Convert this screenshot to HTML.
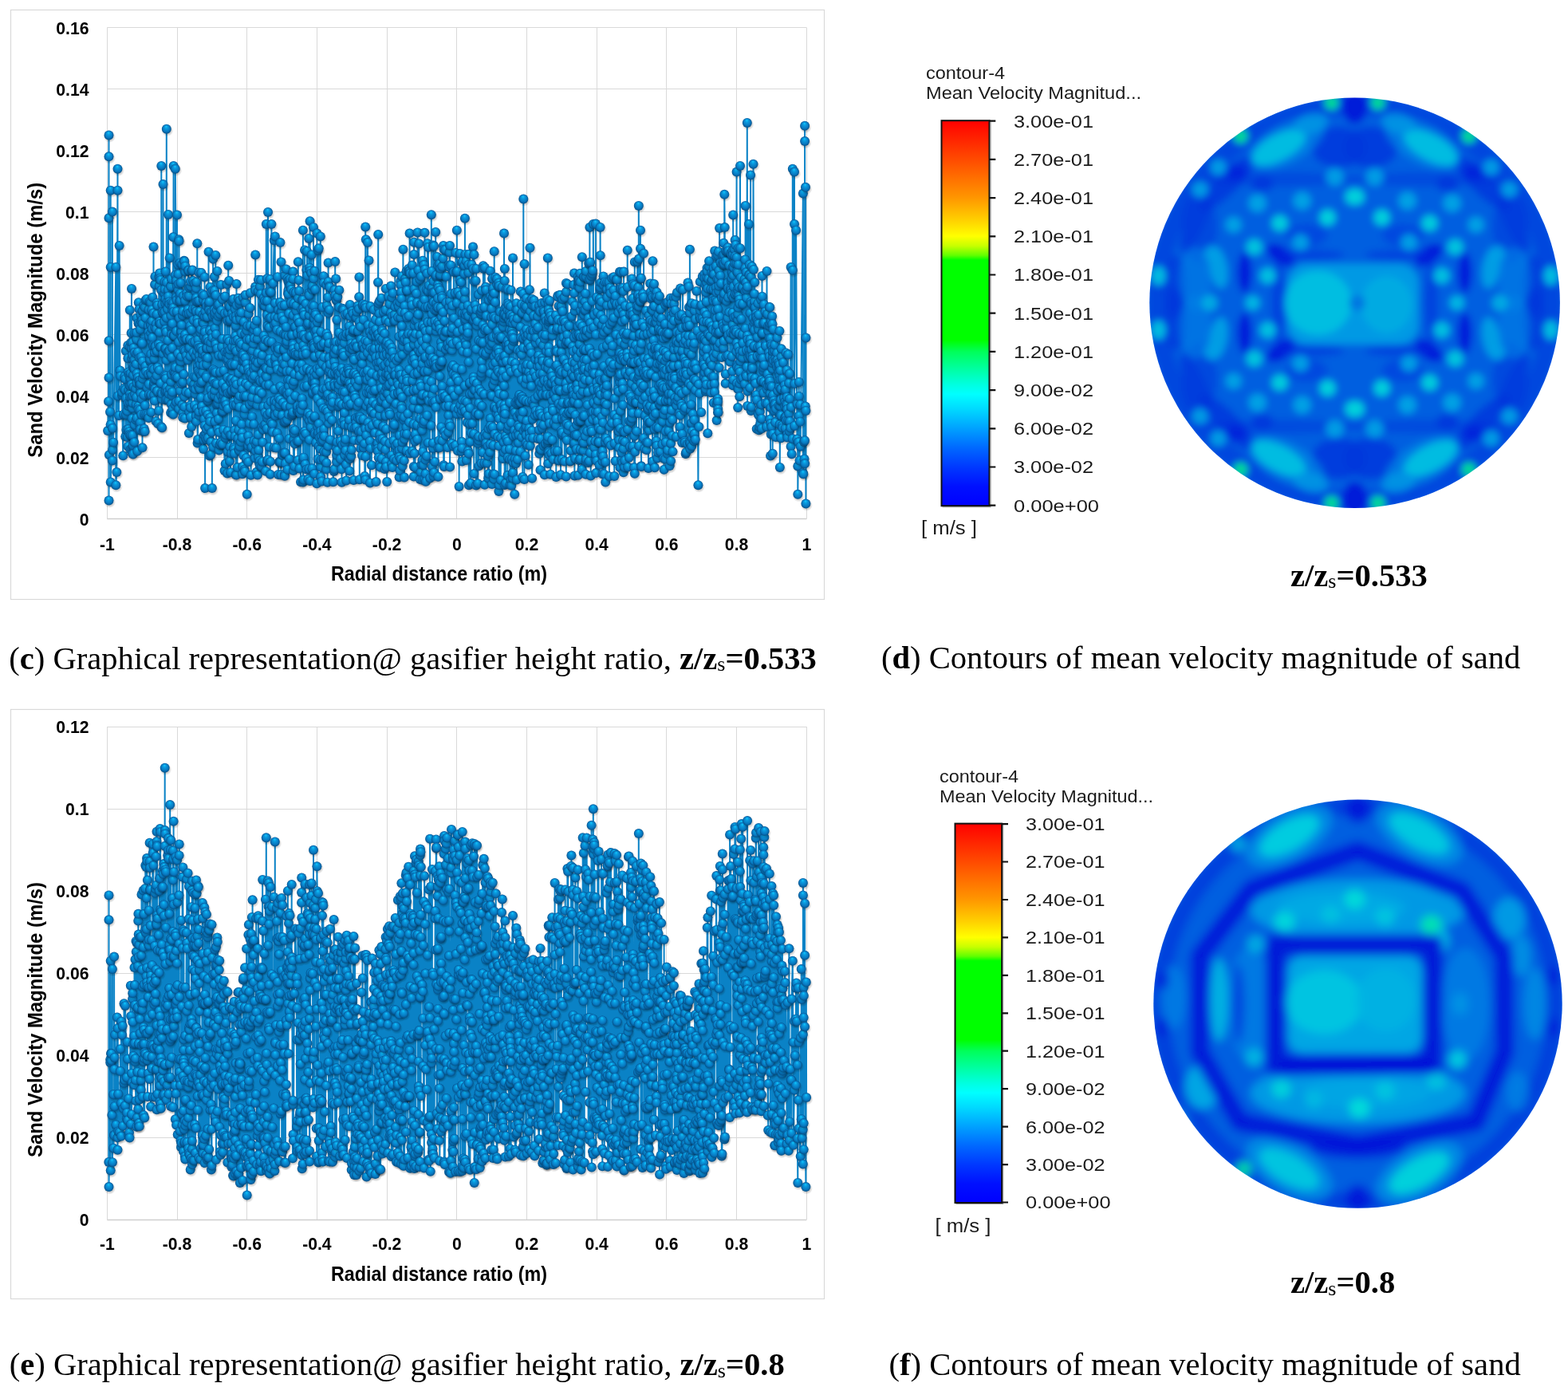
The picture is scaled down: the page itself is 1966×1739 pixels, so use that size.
<!DOCTYPE html><html><head><meta charset="utf-8"><title>Sand velocity</title><style>
html,body{margin:0;padding:0;background:#fff;width:1966px;height:1739px;overflow:hidden}
svg{display:block}
.tk{font-family:"Liberation Sans",Arial,sans-serif;font-weight:700;font-size:21.2px;fill:#000}
.at{font-family:"Liberation Sans",Arial,sans-serif;font-weight:700;font-size:25px;fill:#000}
.ser{fill:none;stroke:#0a82c6;stroke-width:2;stroke-linejoin:round;marker:url(#ball)}
.cap{font-family:"Liberation Serif","Times New Roman",serif;font-size:40.6px;fill:#000}
.cb{font-family:"Liberation Sans",Arial,sans-serif;font-size:21.5px;fill:#1a1a1a}
</style></head><body>
<svg width="1966" height="1739" viewBox="0 0 1966 1739">
<defs>
<radialGradient id="bgr" cx="0.5" cy="0.5" r="0.5" fx="0.46" fy="0.22"><stop offset="0" stop-color="#10ccff"/><stop offset="0.3" stop-color="#0a9ce0"/><stop offset="0.72" stop-color="#0878c0"/><stop offset="1" stop-color="#045088"/></radialGradient>
<radialGradient id="shd"><stop offset="0.55" stop-color="#000" stop-opacity="0.22"/><stop offset="1" stop-color="#000" stop-opacity="0"/></radialGradient>
<marker id="ball" markerWidth="20" markerHeight="20" refX="10" refY="10" markerUnits="userSpaceOnUse" overflow="visible"><circle cx="11" cy="12" r="7.5" fill="url(#shd)"/><circle cx="10" cy="10" r="6" fill="url(#bgr)"/></marker>
<linearGradient id="cbg" x1="0" y1="0" x2="0" y2="1"><stop offset="0.0" stop-color="#ff0000"/><stop offset="0.1" stop-color="#ff4a00"/><stop offset="0.2" stop-color="#ff9600"/><stop offset="0.26" stop-color="#ffd200"/><stop offset="0.3" stop-color="#ffff00"/><stop offset="0.325" stop-color="#c8ff00"/><stop offset="0.35" stop-color="#60ff00"/><stop offset="0.362" stop-color="#00ff00"/><stop offset="0.57" stop-color="#00ff00"/><stop offset="0.6" stop-color="#00ff5a"/><stop offset="0.65" stop-color="#00ffaa"/><stop offset="0.685" stop-color="#00ffe0"/><stop offset="0.71" stop-color="#00ffff"/><stop offset="0.75" stop-color="#00d8ff"/><stop offset="0.8" stop-color="#00a0ff"/><stop offset="0.85" stop-color="#0068ff"/><stop offset="0.9" stop-color="#0038ff"/><stop offset="0.95" stop-color="#0010ff"/><stop offset="1.0" stop-color="#0000ff"/></linearGradient>
<filter id="bl1" x="-10%" y="-10%" width="120%" height="120%"><feGaussianBlur stdDeviation="5"/></filter>
<filter id="bl2" x="-10%" y="-10%" width="120%" height="120%"><feGaussianBlur stdDeviation="6"/></filter>
</defs>
<rect width="1966" height="1739" fill="#fff"/>
<rect x="13.5" y="12.5" width="1020" height="739" fill="#fff" stroke="#d9d9d9" stroke-width="1.2"/>
<path d="M134.3 573.5H1011.3M134.3 496.5H1011.3M134.3 419.5H1011.3M134.3 342.5H1011.3M134.3 265.5H1011.3M134.3 111.5H1011.3M134.3 34.5H1011.3M134.5 34.6V650.6M222.5 34.6V650.6M309.5 34.6V650.6M397.5 34.6V650.6M485.5 34.6V650.6M572.5 34.6V650.6M660.5 34.6V650.6M748.5 34.6V650.6M835.5 34.6V650.6M923.5 34.6V650.6M1011.5 34.6V650.6" stroke="#d9d9d9" stroke-width="1" fill="none"/>
<path d="M134.3 650.5H1011.3" stroke="#cfcfcf" stroke-width="1.3"/>
<text class="tk" x="111.5" y="658.6" text-anchor="end">0</text>
<text class="tk" x="111.5" y="581.6" text-anchor="end">0.02</text>
<text class="tk" x="111.5" y="504.6" text-anchor="end">0.04</text>
<text class="tk" x="111.5" y="427.6" text-anchor="end">0.06</text>
<text class="tk" x="111.5" y="350.6" text-anchor="end">0.08</text>
<text class="tk" x="111.5" y="273.6" text-anchor="end">0.1</text>
<text class="tk" x="111.5" y="196.6" text-anchor="end">0.12</text>
<text class="tk" x="111.5" y="119.6" text-anchor="end">0.14</text>
<text class="tk" x="111.5" y="42.6" text-anchor="end">0.16</text>
<text class="tk" x="134.3" y="689.6" text-anchor="middle">-1</text>
<text class="tk" x="222.0" y="689.6" text-anchor="middle">-0.8</text>
<text class="tk" x="309.7" y="689.6" text-anchor="middle">-0.6</text>
<text class="tk" x="397.4" y="689.6" text-anchor="middle">-0.4</text>
<text class="tk" x="485.1" y="689.6" text-anchor="middle">-0.2</text>
<text class="tk" x="572.8" y="689.6" text-anchor="middle">0</text>
<text class="tk" x="660.5" y="689.6" text-anchor="middle">0.2</text>
<text class="tk" x="748.2" y="689.6" text-anchor="middle">0.4</text>
<text class="tk" x="835.9" y="689.6" text-anchor="middle">0.6</text>
<text class="tk" x="923.6" y="689.6" text-anchor="middle">0.8</text>
<text class="tk" x="1011.3" y="689.6" text-anchor="middle">1</text>
<text class="at" x="550.5" y="727.5" text-anchor="middle" textLength="271" lengthAdjust="spacingAndGlyphs">Radial distance ratio (m)</text>
<text class="at" transform="translate(53.0 401.3) rotate(-90)" x="0" y="0" text-anchor="middle" textLength="345" lengthAdjust="spacingAndGlyphs">Sand Velocity Magnitude (m/s)</text>
<rect x="13.5" y="889.5" width="1020" height="739" fill="#fff" stroke="#d9d9d9" stroke-width="1.2"/>
<path d="M134.3 1426.5H1011.3M134.3 1323.5H1011.3M134.3 1220.5H1011.3M134.3 1014.5H1011.3M134.3 911.5H1011.3M134.5 911.2V1529.3M222.5 911.2V1529.3M309.5 911.2V1529.3M397.5 911.2V1529.3M485.5 911.2V1529.3M572.5 911.2V1529.3M660.5 911.2V1529.3M748.5 911.2V1529.3M835.5 911.2V1529.3M923.5 911.2V1529.3M1011.5 911.2V1529.3" stroke="#d9d9d9" stroke-width="1" fill="none"/>
<path d="M134.3 1529.5H1011.3" stroke="#cfcfcf" stroke-width="1.3"/>
<text class="tk" x="111.5" y="1537.3" text-anchor="end">0</text>
<text class="tk" x="111.5" y="1434.3" text-anchor="end">0.02</text>
<text class="tk" x="111.5" y="1331.3" text-anchor="end">0.04</text>
<text class="tk" x="111.5" y="1228.2" text-anchor="end">0.06</text>
<text class="tk" x="111.5" y="1125.2" text-anchor="end">0.08</text>
<text class="tk" x="111.5" y="1022.2" text-anchor="end">0.1</text>
<text class="tk" x="111.5" y="919.2" text-anchor="end">0.12</text>
<text class="tk" x="134.3" y="1567.4" text-anchor="middle">-1</text>
<text class="tk" x="222.0" y="1567.4" text-anchor="middle">-0.8</text>
<text class="tk" x="309.7" y="1567.4" text-anchor="middle">-0.6</text>
<text class="tk" x="397.4" y="1567.4" text-anchor="middle">-0.4</text>
<text class="tk" x="485.1" y="1567.4" text-anchor="middle">-0.2</text>
<text class="tk" x="572.8" y="1567.4" text-anchor="middle">0</text>
<text class="tk" x="660.5" y="1567.4" text-anchor="middle">0.2</text>
<text class="tk" x="748.2" y="1567.4" text-anchor="middle">0.4</text>
<text class="tk" x="835.9" y="1567.4" text-anchor="middle">0.6</text>
<text class="tk" x="923.6" y="1567.4" text-anchor="middle">0.8</text>
<text class="tk" x="1011.3" y="1567.4" text-anchor="middle">1</text>
<text class="at" x="550.5" y="1605.5" text-anchor="middle" textLength="271" lengthAdjust="spacingAndGlyphs">Radial distance ratio (m)</text>
<text class="at" transform="translate(53.0 1278.5) rotate(-90)" x="0" y="0" text-anchor="middle" textLength="345" lengthAdjust="spacingAndGlyphs">Sand Velocity Magnitude (m/s)</text>
<polyline class="ser" points="135.1,540.1 136.0,503.2 136.5,169.4 136.5,196.3 136.5,273.3 136.5,627.5 136.5,473.5 136.5,427.3 136.9,570.2 138.0,516.4 138.6,532.4 138.7,238.7 138.7,334.9 138.7,604.4 140.9,536.9 140.9,265.6 140.9,577.5 141.1,564.0 142.1,554.8 145.3,334.9 145.3,608.2 146.3,592.1 147.5,211.7 147.5,238.7 147.7,496.5 149.0,520.9 149.6,308.0 150.5,464.6 150.9,471.6 152.9,495.5 152.9,492.0 154.3,571.3 155.1,519.4 155.2,487.1 156.2,471.9 156.8,488.8 157.0,475.2 157.3,547.2 157.8,440.0 157.9,519.7 158.1,499.2 158.4,538.9 159.3,515.5 159.8,548.0 160.3,433.0 160.4,449.2 160.4,559.7 160.5,538.3 160.7,508.9 160.7,505.2 160.7,466.8 161.0,488.7 161.7,469.8 161.8,541.2 162.6,483.6 162.6,544.5 162.6,471.8 162.8,388.8 162.9,434.8 163.0,493.8 163.1,504.2 163.1,498.2 163.4,477.6 163.4,563.8 163.5,484.1 163.6,474.5 163.7,467.9 163.9,545.7 164.0,545.6 164.2,429.7 164.6,417.6 165.0,361.9 165.0,482.1 165.0,498.5 165.1,449.0 165.1,436.9 165.1,562.8 165.6,524.8 165.7,511.6 165.9,429.7 165.9,545.7 166.0,568.4 166.1,445.2 166.1,505.2 166.4,496.8 166.6,560.6 166.6,558.3 166.8,461.0 166.8,569.4 166.9,470.3 167.2,458.4 167.3,484.9 167.6,436.1 167.9,460.7 168.3,554.5 168.5,417.4 168.5,450.9 168.7,462.5 168.7,532.7 168.8,441.8 169.1,494.3 170.2,487.3 170.6,526.8 170.6,506.8 170.7,456.6 171.0,498.2 171.0,425.4 171.0,417.0 171.2,443.7 171.4,480.4 171.5,398.8 171.5,524.0 171.6,468.3 172.1,565.8 172.7,441.5 173.0,473.3 173.5,405.3 173.7,509.1 173.7,513.0 173.8,379.2 174.5,477.5 174.5,387.8 175.0,448.7 175.0,539.6 175.1,481.7 175.2,406.3 175.3,532.7 175.3,481.9 175.4,476.5 175.5,514.0 175.6,413.0 175.8,529.7 175.8,538.4 175.9,490.4 176.1,484.9 176.2,493.1 176.3,481.5 176.4,394.9 176.9,403.0 177.0,519.9 177.1,447.4 177.5,500.2 178.1,429.0 178.1,430.5 178.3,400.9 178.5,389.9 178.5,561.3 178.6,474.8 178.7,457.7 178.7,453.0 178.7,389.5 178.8,405.9 179.5,540.8 180.0,382.9 180.0,469.4 180.2,495.3 180.4,539.6 180.7,537.5 181.0,519.2 181.5,540.9 181.5,385.1 181.7,508.3 182.3,398.5 182.5,459.1 182.6,376.5 183.0,465.8 183.4,519.2 183.6,374.9 184.6,486.2 185.8,519.4 185.9,408.6 186.1,469.1 186.3,416.6 186.4,524.1 186.5,388.2 186.7,481.8 186.7,494.5 186.8,421.4 187.7,377.9 188.1,452.9 188.2,450.6 188.6,405.8 188.8,466.9 188.9,404.0 189.1,379.3 189.2,417.6 189.2,495.6 189.2,407.5 189.3,444.0 189.4,516.9 189.5,494.7 189.8,469.2 190.2,428.2 190.3,388.5 190.6,402.6 190.8,412.4 190.9,423.3 191.0,461.7 191.3,372.7 191.9,432.9 192.3,433.9 192.4,392.6 192.5,309.5 192.7,482.9 193.0,463.1 193.1,495.0 193.2,479.7 193.2,449.8 193.7,502.6 193.7,442.0 193.9,475.8 194.1,410.6 194.1,356.7 194.2,487.6 194.4,346.7 194.5,433.8 194.6,434.5 195.0,434.4 195.2,474.9 195.6,528.2 195.8,406.2 196.0,412.4 196.5,393.9 196.6,470.8 196.7,440.2 196.8,379.9 197.0,489.7 197.3,490.5 197.4,382.8 197.6,460.8 198.2,531.2 199.0,431.6 199.0,515.0 199.3,346.6 199.6,405.5 199.7,416.5 199.7,358.6 199.7,464.2 200.1,342.5 200.2,403.2 200.4,435.1 200.6,348.9 201.3,405.8 201.3,351.1 201.5,480.5 201.6,434.7 202.1,534.9 202.2,363.8 202.3,207.9 202.3,492.4 202.6,499.5 203.1,500.5 203.1,536.2 203.2,381.8 203.3,493.8 203.6,391.3 204.4,443.4 204.5,231.0 204.7,392.3 205.9,403.1 206.1,367.8 206.4,353.2 206.4,391.0 206.5,362.6 206.7,470.7 206.8,436.7 206.9,491.6 207.2,376.7 207.2,380.3 207.2,437.4 207.6,340.5 207.6,374.8 207.7,413.0 207.7,501.4 207.9,471.5 207.9,489.7 208.0,474.6 208.1,437.1 208.4,416.3 208.5,451.7 208.6,398.4 208.8,161.7 208.9,485.6 209.0,354.1 209.3,500.7 209.8,378.4 210.0,387.4 210.3,490.9 210.4,442.5 210.5,426.7 210.7,441.6 210.8,363.5 211.0,268.9 211.1,371.5 211.4,501.5 211.7,444.6 212.1,494.1 212.2,378.4 212.3,438.8 212.5,381.5 212.6,440.5 212.7,323.4 213.2,487.2 214.1,517.5 214.2,358.4 214.2,478.8 214.2,359.1 214.3,395.8 214.5,410.9 214.8,350.0 214.8,506.8 215.0,469.8 215.0,418.8 215.2,379.2 215.3,448.1 215.4,495.6 215.7,384.8 215.8,409.1 215.9,491.5 216.0,388.4 216.0,436.2 216.0,405.8 216.0,518.0 216.3,513.0 217.2,297.3 217.2,380.0 217.2,519.4 217.3,385.9 217.6,207.9 217.8,419.9 217.8,390.7 218.0,466.3 218.3,420.2 218.5,420.7 219.2,468.0 219.4,507.6 219.6,345.1 219.6,472.2 219.8,467.0 219.8,460.7 219.8,211.7 220.9,350.2 221.0,351.8 221.0,471.9 221.1,372.8 221.1,504.2 221.2,415.3 221.5,376.3 221.6,390.6 222.0,269.4 222.0,359.1 222.6,473.1 223.1,443.3 223.4,332.1 223.5,343.8 223.6,363.5 223.8,356.1 224.1,428.6 224.2,512.5 224.2,300.3 224.3,502.7 224.5,302.2 224.8,398.8 225.0,377.5 225.1,370.9 225.2,461.8 225.7,329.7 225.8,489.9 226.0,452.2 226.1,367.9 226.2,376.7 226.4,354.7 226.6,419.0 226.6,453.2 226.8,414.9 227.1,447.2 227.2,411.0 227.5,481.2 227.6,415.9 227.7,407.5 228.2,423.2 228.3,331.3 228.5,507.6 228.7,395.2 229.1,517.7 229.2,523.6 229.2,479.0 229.3,390.2 229.8,371.0 229.8,426.0 230.3,469.3 230.5,439.4 230.8,326.8 231.2,327.7 231.2,497.3 231.2,510.2 231.8,377.0 231.9,524.4 231.9,423.8 232.0,419.6 232.1,340.5 232.2,440.3 232.3,333.7 233.1,491.4 233.5,445.7 233.9,425.1 233.9,392.4 234.1,367.7 234.7,371.5 235.6,388.4 235.6,451.4 236.0,339.1 236.4,339.0 236.4,437.8 236.7,393.0 236.8,492.4 236.9,542.9 237.0,370.7 237.3,516.7 237.6,361.1 237.7,435.7 238.1,426.0 238.2,425.3 238.4,446.7 238.5,508.4 238.6,408.2 238.8,358.9 238.9,353.1 238.9,511.2 238.9,522.9 239.3,392.1 239.3,478.7 240.1,413.7 240.2,339.2 240.2,535.1 241.2,338.6 241.7,387.7 241.8,429.2 242.1,352.1 242.3,441.9 242.6,401.4 242.8,486.4 243.4,481.3 243.7,472.4 243.8,507.9 243.9,355.2 244.2,428.4 244.6,493.7 245.0,386.7 245.0,488.1 245.3,445.9 245.5,366.0 245.8,361.3 245.8,521.4 245.9,472.8 246.0,373.5 246.1,390.3 246.1,353.7 246.1,528.5 246.5,378.4 247.0,440.5 247.0,512.2 247.3,305.3 247.3,400.0 247.6,555.4 247.7,405.0 247.7,377.7 247.9,461.2 248.1,551.1 248.1,459.4 248.3,425.7 248.3,483.5 248.5,433.4 248.5,464.8 249.4,520.8 249.4,377.0 249.4,485.4 249.4,436.1 249.4,516.2 249.5,341.7 249.6,467.2 249.9,390.7 250.0,445.4 250.1,452.9 250.2,436.7 250.4,487.2 251.1,457.0 251.2,468.3 251.5,417.3 251.6,480.2 251.9,413.0 252.1,436.2 252.1,498.7 252.3,470.5 252.3,341.9 253.0,509.5 253.1,478.3 253.2,509.5 253.2,450.4 253.8,370.7 254.0,368.4 254.0,443.9 254.0,403.4 254.1,439.6 254.2,466.8 254.5,394.5 254.6,515.8 254.7,375.8 254.8,458.1 255.0,563.0 255.4,546.6 255.4,551.5 255.4,405.6 255.7,370.3 256.0,422.2 256.1,525.5 256.3,545.8 256.4,397.1 256.5,347.4 256.6,533.7 256.6,396.7 256.7,414.2 256.9,416.3 257.1,612.1 257.4,390.5 257.8,445.7 258.0,543.4 258.2,550.0 258.2,514.9 258.2,379.9 258.3,425.5 258.4,471.2 258.7,473.0 258.7,436.9 258.9,449.4 258.9,538.3 259.0,456.8 259.3,551.0 259.4,384.0 259.6,397.2 259.6,436.3 259.7,424.5 260.3,448.8 260.4,501.8 260.5,520.0 260.6,502.3 260.8,499.0 260.9,549.2 261.2,535.1 261.5,315.7 261.7,428.3 261.9,384.6 262.2,380.9 262.3,388.9 262.3,378.5 262.8,571.6 263.1,414.3 263.4,360.0 263.4,523.5 263.4,528.6 264.0,436.1 264.1,391.3 264.4,429.5 264.4,569.9 264.4,553.4 264.4,488.9 264.7,554.0 265.0,366.3 265.2,542.1 265.6,391.4 265.8,417.8 265.9,612.1 266.0,495.4 266.3,423.6 266.7,396.7 266.9,364.3 267.2,324.8 267.2,560.5 267.3,477.4 267.3,463.5 268.7,388.6 268.7,495.5 268.8,347.0 268.8,394.9 269.0,364.4 269.1,489.2 269.2,480.7 269.3,528.6 269.3,464.7 269.4,411.4 269.7,392.3 270.2,427.9 270.3,319.9 270.4,431.3 270.5,466.5 270.6,370.1 270.8,419.2 270.8,480.4 271.0,555.7 271.6,438.0 271.7,389.1 271.8,507.9 271.8,517.7 272.1,402.1 272.1,481.5 272.3,436.8 272.4,339.9 272.4,506.7 273.0,383.0 273.3,538.4 273.4,505.4 273.8,499.9 273.9,396.7 273.9,525.3 274.2,381.6 274.2,445.8 274.6,564.4 274.6,542.1 275.6,393.7 275.7,557.7 275.8,557.4 275.9,466.4 277.0,555.0 277.0,357.1 277.3,496.0 277.5,389.2 278.1,425.3 278.1,434.8 278.3,516.3 278.4,445.7 278.8,375.2 278.8,556.8 279.1,489.0 279.1,424.9 279.3,480.5 279.4,515.4 279.8,500.9 280.1,538.9 280.2,495.8 280.2,508.9 280.2,490.8 280.5,464.7 281.5,590.0 281.7,392.8 282.0,504.9 282.0,371.6 282.2,441.5 282.5,502.1 282.6,549.0 282.7,581.6 282.8,487.8 283.1,545.2 283.2,485.6 283.7,507.4 284.1,449.2 284.5,356.3 284.7,441.9 285.0,593.5 285.2,425.1 285.2,473.5 285.4,453.0 285.5,401.5 285.5,566.4 285.6,402.2 285.6,391.8 285.7,512.5 285.7,434.1 285.7,540.5 285.8,493.1 286.1,450.4 286.2,332.7 286.4,440.2 287.1,351.9 287.5,428.0 287.9,445.1 288.0,578.2 288.2,386.1 288.2,402.4 288.3,560.5 288.3,438.6 288.4,384.5 288.4,492.4 288.5,400.8 288.5,545.4 288.8,457.6 289.0,592.2 289.1,475.3 289.4,479.3 289.9,545.5 290.0,455.9 290.1,568.3 290.2,490.8 290.7,475.4 290.7,489.5 291.0,434.9 291.1,393.2 291.2,457.1 291.9,379.2 292.1,378.0 292.6,375.1 292.8,479.8 292.9,561.6 292.9,397.4 292.9,427.7 293.0,504.4 293.1,507.9 293.6,563.4 293.7,568.6 293.9,486.7 294.1,539.5 294.4,456.9 294.4,490.5 294.7,436.1 294.7,546.9 294.7,387.7 295.0,488.0 295.1,477.1 295.1,421.3 295.4,408.5 295.6,595.0 295.7,527.4 295.7,427.6 295.9,396.3 295.9,507.3 296.3,595.6 296.4,440.1 296.5,356.0 296.5,400.9 296.7,482.2 296.8,382.8 297.6,586.1 298.1,425.8 298.5,549.6 298.6,373.8 298.7,501.9 299.1,467.6 299.1,563.3 299.2,538.9 299.6,393.9 299.9,564.5 300.2,380.8 300.3,510.3 300.6,496.6 300.6,376.8 300.6,559.9 300.9,432.2 301.0,395.4 301.1,429.4 301.2,399.8 301.6,436.2 302.0,554.1 302.4,392.1 302.5,461.0 302.6,418.0 302.7,479.8 302.8,431.7 303.0,531.9 303.3,445.0 303.3,545.9 303.5,542.7 303.6,548.8 303.9,487.9 304.0,594.3 304.1,585.0 304.2,453.2 304.6,372.9 304.7,443.5 305.0,450.9 305.2,445.2 305.3,571.1 305.5,462.7 305.8,403.4 306.0,496.2 306.4,452.4 306.5,519.8 306.7,588.8 306.9,512.2 307.0,591.1 307.2,418.2 307.6,448.8 307.6,379.1 307.7,369.8 308.0,480.8 308.2,496.6 308.6,574.3 308.6,434.2 309.2,456.4 309.4,414.4 309.7,619.8 310.0,425.8 310.4,408.8 311.2,579.2 311.2,462.4 311.3,546.5 311.4,559.0 311.5,483.2 311.7,393.5 312.7,466.7 312.8,530.8 312.9,554.2 312.9,425.5 313.1,507.2 313.5,385.9 313.7,408.4 313.7,471.1 313.8,367.2 314.6,595.8 314.9,561.4 314.9,468.0 315.9,522.4 315.9,560.3 316.1,503.9 316.1,498.1 316.7,439.6 316.9,474.5 317.5,414.0 317.7,455.8 317.8,460.6 317.8,417.8 317.8,431.1 317.9,488.7 318.2,531.8 318.3,552.7 318.5,413.6 318.6,424.1 318.6,464.0 318.6,471.1 319.2,407.8 319.5,449.9 319.6,574.4 320.1,359.6 320.1,459.8 320.1,363.8 320.2,319.4 320.4,565.2 320.7,557.2 321.1,452.6 321.6,402.0 321.7,591.7 321.7,553.6 322.5,508.0 322.7,424.5 322.7,416.0 322.9,595.5 323.0,500.2 323.2,446.2 323.2,454.7 323.4,442.7 323.5,544.9 323.6,364.8 323.7,572.9 323.9,350.7 324.3,564.4 325.0,489.9 325.2,581.5 325.7,476.1 325.7,577.8 326.0,359.5 326.0,584.3 326.8,368.7 326.9,478.2 327.2,351.1 327.8,584.7 327.8,452.0 328.3,492.9 328.5,468.3 328.6,536.0 328.7,578.9 328.8,445.3 329.2,554.5 329.8,538.5 329.9,476.9 330.2,510.0 330.3,382.9 330.4,381.1 330.4,432.7 330.7,434.0 330.7,373.5 330.9,421.0 331.3,533.3 332.0,383.5 332.2,376.9 332.5,517.1 332.7,531.9 333.0,470.8 333.1,590.7 333.1,426.0 333.3,461.3 333.4,482.5 333.7,367.3 333.8,281.0 334.2,472.4 334.3,462.2 334.7,395.1 334.7,537.2 334.9,577.4 334.9,349.3 335.0,524.2 335.0,377.2 335.4,408.6 335.6,520.0 335.8,576.5 336.0,266.0 336.2,508.4 336.3,427.8 336.6,427.9 337.1,482.5 337.2,452.4 337.5,410.3 337.7,560.5 337.8,399.1 338.0,365.2 338.2,449.7 338.5,350.0 338.5,517.4 338.5,386.8 338.8,594.8 339.0,463.4 339.1,578.7 339.4,398.4 339.5,366.1 339.5,503.6 339.9,530.1 340.0,455.2 340.4,281.0 340.5,428.8 341.0,539.5 341.4,531.6 341.9,541.7 342.3,355.2 343.7,301.3 343.7,560.9 343.9,407.2 343.9,502.1 344.1,488.1 344.1,502.9 344.4,518.1 344.4,397.3 344.6,451.9 344.8,296.4 344.9,380.0 345.0,514.9 345.0,510.4 345.1,521.2 345.4,448.6 345.4,436.4 345.6,405.1 346.3,561.6 346.5,457.2 346.6,458.1 346.7,504.3 346.9,457.7 347.3,542.8 347.4,413.7 347.8,434.7 347.9,463.2 348.0,347.2 348.1,517.9 348.4,398.1 348.6,442.5 348.9,595.1 349.1,435.6 349.2,388.5 349.4,499.2 349.6,437.6 350.0,549.7 350.1,578.9 350.2,510.1 350.5,579.6 350.5,507.1 350.7,579.1 351.2,379.0 351.4,484.6 351.4,304.1 351.4,501.3 351.6,579.1 351.6,415.4 352.4,595.2 352.4,390.4 352.5,328.4 352.7,466.0 353.2,390.9 353.3,383.3 353.4,396.9 353.7,520.6 354.1,451.2 354.2,462.5 354.5,571.2 354.9,504.8 355.3,489.5 355.5,456.0 355.6,568.1 355.7,437.5 355.7,401.4 356.0,418.7 356.3,529.3 356.3,438.2 356.6,382.6 356.6,567.4 356.9,594.5 357.1,596.8 357.2,529.2 357.2,456.9 357.3,567.8 357.4,345.4 357.8,419.3 357.8,581.1 358.1,489.9 358.2,528.3 358.3,430.3 358.4,508.7 358.6,420.4 358.6,410.0 358.7,337.5 358.9,447.8 359.5,465.6 359.7,431.8 359.7,428.1 360.0,490.1 360.1,526.4 360.3,588.8 360.4,349.3 360.9,494.8 361.0,367.7 361.3,353.0 361.3,364.1 361.3,476.3 361.4,368.8 361.6,519.6 361.7,421.4 362.1,484.3 362.2,351.3 362.2,393.1 362.6,550.0 362.9,575.5 362.9,492.5 363.6,465.1 363.7,349.9 363.9,359.0 363.9,476.8 364.0,509.3 364.2,358.1 364.8,378.9 364.9,379.9 365.2,363.0 365.3,501.2 365.4,419.8 365.8,441.6 366.0,521.1 366.3,455.6 366.3,420.0 366.6,517.7 366.7,518.9 367.0,431.3 367.1,516.7 367.4,340.6 367.4,349.9 367.5,395.2 367.5,482.4 367.6,537.7 367.7,432.4 367.8,437.5 367.9,590.1 368.1,380.4 368.3,550.8 368.4,366.1 368.4,443.0 368.4,478.0 368.9,543.5 369.0,584.8 369.2,469.0 369.6,539.6 369.6,409.7 369.7,556.6 370.1,496.3 370.2,442.0 370.3,409.7 370.8,366.8 371.2,444.6 371.4,389.9 371.6,382.9 372.4,553.1 372.6,515.2 372.7,513.0 372.7,418.1 373.0,509.4 373.0,399.5 373.4,577.1 373.5,445.6 373.8,328.3 373.9,373.9 374.1,552.8 374.2,443.1 374.3,459.1 374.4,434.8 374.5,457.7 374.7,351.3 374.9,405.1 375.0,364.8 375.2,463.5 375.4,462.7 375.4,404.4 375.5,587.4 375.7,471.0 375.7,515.7 376.4,518.0 376.6,509.4 376.8,413.9 377.1,604.3 377.4,426.7 377.6,418.8 377.6,510.9 377.7,413.9 378.0,514.2 378.2,387.9 378.3,456.9 378.5,376.1 378.6,499.6 378.7,420.2 379.6,440.7 379.6,444.4 379.7,507.7 379.8,376.2 379.9,288.7 379.9,604.4 380.1,386.6 380.1,576.3 380.3,433.1 380.4,601.6 380.4,464.4 380.6,573.7 380.8,420.0 381.0,547.0 381.1,390.7 381.3,395.0 381.4,484.7 381.9,540.8 382.1,313.4 382.7,582.1 382.9,438.7 383.3,543.7 383.4,380.8 383.6,443.3 383.6,424.3 384.3,338.4 384.5,588.6 384.7,462.0 384.9,483.7 384.9,314.9 385.1,345.6 385.4,407.0 385.8,523.2 386.3,404.9 386.4,517.7 386.4,600.6 387.2,299.0 387.3,587.9 387.4,421.5 387.5,367.5 387.6,395.2 387.6,370.0 387.8,527.1 388.0,551.6 388.1,335.7 388.5,386.9 388.6,277.2 388.8,602.9 388.9,339.5 389.0,520.7 389.0,464.1 389.1,421.6 389.3,465.4 389.8,532.9 389.8,535.5 390.3,342.4 390.7,319.4 391.2,363.1 391.3,587.3 391.3,471.1 391.4,382.9 391.5,526.6 391.6,478.5 391.6,358.5 392.0,490.2 392.0,493.7 392.1,491.8 392.3,477.3 392.4,390.0 393.0,406.4 393.0,284.9 393.1,349.3 393.4,479.0 393.4,383.6 393.4,398.5 393.4,430.8 393.6,466.5 394.0,413.3 394.1,437.0 394.1,446.9 394.1,594.1 394.1,432.7 394.1,523.4 394.1,436.0 394.2,339.8 394.4,476.8 394.4,521.9 394.4,473.0 394.4,399.4 394.7,446.9 394.8,411.1 394.8,541.7 394.8,408.0 395.0,479.9 395.0,486.6 395.1,363.1 395.2,543.9 395.3,416.8 395.4,392.6 395.8,394.6 396.1,554.9 396.2,490.7 396.6,469.0 396.7,414.2 397.2,606.3 397.2,489.4 397.4,422.6 397.4,292.6 397.6,462.3 397.7,404.0 398.1,544.6 398.1,499.8 398.3,535.3 398.5,431.1 398.5,426.6 398.6,575.5 398.9,314.1 399.3,542.4 399.6,398.9 399.7,311.3 399.8,531.4 399.9,559.3 400.2,440.3 400.7,548.8 401.0,444.8 401.2,460.7 401.3,434.4 401.4,466.4 401.7,562.8 401.8,296.4 402.2,505.4 402.2,585.8 402.2,540.3 402.3,415.9 402.3,597.8 402.5,576.6 402.8,433.1 402.9,547.1 403.1,553.9 403.2,433.2 403.4,603.5 403.8,453.1 404.1,455.5 404.2,492.1 404.2,385.1 404.7,552.0 405.3,512.0 405.4,346.8 405.4,487.4 405.5,544.4 405.6,575.2 405.7,346.2 405.8,354.7 406.0,430.6 406.2,566.1 406.2,538.0 406.3,447.8 406.6,547.0 408.7,513.5 409.0,460.0 409.1,487.3 409.1,588.6 409.1,566.5 409.3,357.2 409.4,580.2 409.6,418.2 409.9,382.9 410.5,496.7 410.6,604.7 410.8,516.0 411.0,422.0 411.1,372.8 411.2,494.3 411.2,559.4 411.5,353.2 411.6,329.4 411.8,433.7 411.8,392.6 412.1,530.7 412.1,437.6 412.2,479.2 412.4,430.4 412.4,522.7 412.5,466.2 412.6,448.5 412.9,358.8 413.0,388.5 413.3,360.1 413.4,463.6 413.6,483.8 413.8,456.7 414.0,551.5 414.7,505.3 414.9,499.3 416.1,509.2 416.2,526.6 416.3,468.5 417.1,498.0 417.1,504.5 417.8,604.2 418.1,446.1 418.8,591.0 418.9,481.1 418.9,441.6 419.1,453.2 419.2,588.3 419.3,429.3 419.4,443.4 419.4,363.6 419.7,483.5 419.9,436.2 419.9,467.5 420.2,328.1 420.3,370.3 420.5,460.1 421.1,349.4 421.2,428.7 421.7,438.5 421.8,376.7 421.8,562.0 422.0,375.7 422.1,579.1 422.2,570.8 422.3,401.1 422.4,554.2 423.0,465.4 423.1,565.0 423.3,372.2 423.6,479.9 424.1,540.6 424.1,467.7 424.3,510.0 424.5,482.6 424.9,488.2 424.9,467.5 425.0,471.4 425.0,416.9 425.1,385.2 425.2,482.7 425.2,508.7 425.3,504.5 425.3,363.7 426.0,429.2 426.7,467.8 426.8,553.0 426.9,575.4 427.7,477.4 428.0,440.9 428.2,588.3 428.5,428.2 428.5,461.6 428.5,604.7 428.7,529.4 428.9,507.0 429.2,436.6 429.3,386.7 429.4,557.8 429.7,490.2 429.8,422.2 429.9,491.7 429.9,442.8 430.1,422.0 430.5,387.3 430.6,441.7 430.8,388.7 431.2,526.7 431.2,466.0 431.2,446.2 431.6,430.1 431.8,517.7 431.9,496.6 432.0,532.6 432.0,475.8 432.1,570.6 432.1,491.4 432.2,473.1 432.4,555.5 432.6,394.4 432.8,422.0 433.0,550.7 433.4,564.7 433.9,582.5 434.2,602.5 434.4,507.0 434.5,467.9 434.6,418.7 435.4,392.9 435.6,501.7 436.1,462.0 436.7,463.4 437.0,533.3 437.3,573.8 437.5,478.3 437.6,464.8 437.8,408.9 438.0,526.7 438.0,467.8 438.0,508.2 438.1,419.8 438.2,590.5 438.3,468.2 438.4,417.4 438.5,575.2 438.6,441.5 438.8,569.6 438.8,381.9 439.0,436.3 439.1,480.6 439.2,396.7 440.0,506.5 440.1,423.7 440.3,572.0 440.4,486.0 440.5,430.7 440.8,564.0 441.1,535.6 441.3,390.3 441.4,485.6 441.5,435.4 442.2,437.9 442.2,416.4 442.5,393.1 442.8,414.0 442.9,469.0 443.0,413.3 443.4,602.0 443.4,433.8 443.4,449.2 443.8,552.0 443.9,450.7 444.0,488.5 444.4,467.7 444.6,536.5 444.9,495.4 445.1,478.5 445.6,524.7 445.6,499.1 445.6,430.5 446.0,524.3 446.1,398.5 446.5,530.1 446.7,470.1 446.7,535.5 446.9,397.7 447.2,391.0 447.5,433.4 447.7,435.1 448.2,483.7 448.2,509.1 448.7,523.7 448.7,383.2 448.8,414.9 449.2,473.1 449.9,504.6 449.9,387.2 450.2,372.3 450.2,476.7 450.3,543.1 450.4,347.4 450.5,540.6 450.6,403.4 450.7,553.1 450.8,601.2 451.0,521.9 451.5,522.9 451.7,446.7 451.9,525.4 451.9,409.6 452.3,562.5 452.3,425.8 452.6,461.6 452.6,550.6 452.8,541.0 453.8,447.7 454.0,571.1 454.1,456.2 454.2,433.2 454.4,383.1 455.0,431.6 455.2,381.4 455.5,525.5 455.6,400.8 455.7,445.6 455.8,561.2 456.2,467.5 456.9,556.2 457.1,437.1 457.3,596.9 457.6,382.6 458.0,426.9 458.0,537.5 458.2,601.5 458.2,284.4 458.4,572.4 458.8,300.3 458.8,385.7 458.9,475.5 459.2,545.7 459.2,467.9 459.4,509.2 459.7,433.2 460.1,492.7 460.5,476.1 460.8,464.8 460.8,442.3 461.0,428.2 461.0,304.1 461.6,504.0 461.6,529.7 461.7,407.6 462.5,326.5 462.7,488.1 463.1,492.5 463.1,536.3 463.6,472.9 463.9,416.2 463.9,553.1 464.0,605.4 464.2,436.6 464.3,384.0 464.5,562.4 464.9,489.2 465.3,511.6 465.4,512.4 465.5,511.0 465.5,516.3 465.9,420.4 465.9,583.3 466.0,467.9 466.1,448.6 466.2,509.3 466.2,495.3 466.3,514.9 466.6,533.3 466.6,480.0 467.2,438.1 467.4,503.4 467.6,408.0 467.7,415.3 468.0,490.0 468.0,441.1 468.7,388.4 469.3,416.4 469.3,442.1 469.4,518.6 469.9,437.1 470.0,488.7 470.1,542.8 470.9,400.7 471.2,421.4 471.2,412.9 471.2,507.2 471.3,447.7 471.5,558.5 471.5,604.1 471.9,561.6 472.0,528.7 472.7,455.6 472.7,470.9 473.3,554.7 473.6,556.2 473.8,531.2 473.8,419.2 473.8,562.5 473.9,566.1 474.0,353.9 474.2,294.0 474.4,419.0 474.5,385.5 474.7,380.5 474.7,573.8 474.9,460.2 475.0,453.9 475.3,430.7 475.3,510.3 475.5,393.2 475.7,584.0 475.9,403.4 475.9,436.5 475.9,377.5 476.0,520.8 476.0,446.6 476.0,423.5 476.2,582.6 476.3,544.7 476.3,512.0 476.9,550.7 477.0,585.8 477.5,453.8 477.6,503.7 477.9,486.6 478.1,427.5 478.1,469.7 478.1,373.7 478.5,575.0 478.5,560.3 478.8,501.7 478.9,413.3 479.1,414.9 479.4,550.3 479.4,467.4 479.5,425.0 479.9,534.8 480.2,443.5 480.3,436.6 480.3,437.5 480.6,534.7 480.6,459.4 480.6,391.1 480.8,475.9 481.3,446.0 481.4,493.8 481.6,497.4 482.2,418.1 482.4,588.0 482.6,553.3 482.7,457.8 483.1,490.5 483.2,520.0 483.4,521.2 483.4,388.4 483.4,563.8 483.7,401.2 483.7,361.9 483.8,471.9 483.9,433.6 484.1,579.2 484.2,537.9 484.2,585.4 484.3,468.2 484.3,506.4 484.3,429.0 484.5,440.2 484.7,432.8 484.8,485.8 484.9,444.1 485.2,604.1 485.3,493.4 485.4,428.9 486.5,468.4 486.5,493.4 486.6,483.7 486.7,454.3 486.9,434.8 487.1,371.6 487.5,403.7 487.6,463.3 487.8,470.0 488.1,517.1 488.2,431.5 488.3,482.1 488.3,555.8 488.4,381.3 488.6,442.4 488.7,455.6 488.7,519.8 489.3,446.0 489.4,500.2 489.4,438.9 490.1,392.4 490.2,358.5 490.4,473.2 490.7,462.8 491.0,571.0 491.0,581.8 491.3,373.0 491.4,435.9 492.0,586.0 492.0,396.2 492.1,478.4 492.1,441.3 492.5,367.6 492.6,451.1 493.2,536.5 493.2,531.2 493.4,552.5 493.6,457.4 494.0,402.4 494.0,575.5 494.2,488.6 494.3,494.3 494.3,532.4 494.4,470.1 494.6,449.1 494.7,394.7 495.2,384.5 495.2,470.5 495.2,470.2 495.3,402.0 495.3,341.5 495.7,465.7 496.0,469.7 496.1,558.7 496.5,506.3 497.2,577.2 497.3,452.1 498.1,556.1 498.5,380.6 498.5,478.7 498.9,566.2 498.9,492.6 499.0,397.7 499.1,492.9 499.5,482.2 499.7,448.4 499.8,384.2 500.3,521.7 500.3,422.0 500.3,463.8 500.6,598.3 500.7,564.7 500.7,572.8 500.9,546.0 500.9,471.1 501.1,470.3 501.4,590.1 501.5,379.2 501.9,490.2 502.1,491.7 502.2,352.7 502.3,398.0 502.3,357.2 502.5,575.8 502.6,367.1 502.9,469.8 502.9,519.8 503.0,366.2 503.3,374.7 503.4,391.0 503.4,508.4 503.7,512.5 503.7,408.8 503.7,346.3 504.0,562.2 504.3,498.1 504.4,554.5 504.4,444.5 504.6,584.6 504.6,419.8 505.1,434.3 505.2,482.7 505.2,476.0 505.4,312.7 506.3,526.7 506.4,427.9 506.7,577.4 506.7,522.9 507.0,550.5 507.0,543.6 507.0,598.5 507.3,383.6 507.6,425.5 507.7,392.1 508.2,349.1 508.5,353.8 508.6,484.5 509.0,469.1 509.5,535.8 509.6,340.0 509.6,363.4 509.7,564.9 510.0,544.2 510.2,487.8 510.2,475.0 510.3,397.8 510.4,421.4 510.4,364.1 510.5,478.0 510.9,428.3 511.4,518.7 511.5,438.7 512.1,418.4 512.2,336.9 512.4,435.5 512.4,340.5 512.7,396.1 512.8,490.9 513.1,463.2 513.1,529.5 513.4,340.0 513.6,292.6 513.8,568.4 514.0,339.2 514.3,342.5 516.1,418.9 516.1,377.3 516.4,382.4 516.8,565.4 516.8,332.5 517.1,452.3 517.1,477.0 518.1,342.6 518.3,510.9 518.4,489.2 518.4,422.4 518.5,531.7 518.8,431.8 518.8,597.5 518.8,585.1 519.0,445.1 519.0,303.7 519.1,319.0 519.1,548.8 519.2,423.6 519.2,501.9 519.3,424.1 519.3,468.9 519.5,450.3 519.5,362.3 519.6,568.6 519.7,408.2 520.3,553.6 520.5,585.9 520.7,544.2 521.0,418.6 521.2,402.3 521.2,456.2 522.0,368.0 522.4,353.2 522.4,488.2 522.9,379.5 522.9,400.6 523.0,532.7 523.3,550.8 523.5,467.7 523.6,291.4 524.2,393.8 524.3,394.2 524.4,338.7 524.6,439.1 525.1,432.1 525.2,513.1 525.3,305.4 525.4,409.4 526.3,350.3 526.7,480.8 526.7,524.9 526.8,601.1 526.9,419.8 527.2,441.6 527.5,501.6 527.6,592.0 527.8,484.6 527.9,381.5 527.9,346.6 528.1,462.6 528.3,501.0 528.5,582.3 529.0,495.6 529.2,534.4 529.2,539.7 529.3,381.9 529.3,427.7 529.4,577.0 529.4,450.9 529.5,438.8 529.6,409.8 529.7,601.7 529.8,456.2 530.0,326.7 530.1,566.4 530.1,494.6 530.1,407.7 530.7,583.0 531.0,531.4 531.5,332.1 531.6,524.4 531.6,464.9 531.9,528.2 532.1,600.8 532.3,375.7 532.4,465.6 532.5,411.0 532.5,291.8 532.7,337.8 533.1,449.6 533.4,447.4 533.4,385.2 533.4,576.5 533.5,594.1 533.7,415.0 534.0,603.8 534.0,433.9 534.8,571.8 534.9,363.2 534.9,424.5 535.1,496.0 535.3,342.7 535.4,520.8 535.8,476.5 536.0,305.2 536.2,464.8 536.3,404.1 536.4,384.6 536.7,364.5 536.8,555.2 537.0,309.9 537.1,501.6 537.4,485.0 537.9,357.7 537.9,502.5 538.2,456.2 539.1,599.4 539.2,445.0 539.2,413.7 539.3,439.3 540.0,385.6 540.4,533.6 540.4,454.1 540.7,403.8 540.8,478.5 540.8,269.2 540.9,365.5 541.1,340.0 541.7,382.3 541.7,393.9 541.8,495.4 541.8,360.8 542.0,585.4 542.1,448.8 542.1,503.4 542.7,562.1 542.8,373.9 542.9,555.4 543.0,366.4 543.0,307.4 543.3,597.1 543.4,366.9 543.4,352.6 543.6,453.9 543.7,378.6 543.7,504.7 544.0,308.6 544.1,592.6 544.1,487.6 544.7,366.7 544.9,388.7 545.1,578.9 545.2,402.6 545.4,503.4 545.8,450.9 546.2,291.0 546.4,461.0 546.5,510.6 546.7,347.0 546.7,415.0 546.9,388.5 546.9,456.2 546.9,344.9 547.1,409.2 547.1,380.0 547.7,459.7 548.1,322.0 548.1,385.2 549.1,403.9 549.1,374.0 549.2,333.1 549.2,357.1 549.2,385.2 549.4,597.7 549.5,561.5 549.7,360.8 550.2,552.4 550.9,406.4 551.1,330.9 551.2,456.7 551.3,561.2 551.3,471.7 551.6,346.2 551.6,364.0 551.7,411.9 551.7,499.7 551.8,344.6 551.9,344.3 552.1,457.4 552.2,336.8 552.3,453.1 552.5,442.2 552.7,385.5 553.1,429.1 553.2,535.5 553.4,435.0 553.8,398.0 553.9,371.5 554.0,452.8 554.2,374.0 554.3,334.1 554.4,484.2 554.4,552.4 554.5,416.4 554.9,494.2 555.5,324.0 555.6,391.4 555.9,308.0 555.9,498.1 556.2,583.3 556.5,312.7 556.6,422.2 556.8,584.9 557.2,541.3 557.2,421.6 557.3,402.2 557.7,498.7 558.1,415.8 558.3,496.6 558.4,313.1 558.6,545.8 558.8,509.4 559.0,437.9 559.4,415.1 559.4,346.8 559.4,379.3 561.0,433.9 561.1,561.1 562.0,431.0 562.1,541.7 562.4,520.8 562.4,500.5 562.7,508.9 562.8,332.4 563.2,384.7 563.5,530.7 563.5,333.8 563.6,316.4 563.6,335.0 563.8,435.3 563.9,377.6 564.0,308.0 564.1,585.5 564.5,534.6 564.7,427.9 564.9,489.0 565.2,332.5 565.3,479.2 565.4,368.6 565.9,461.3 566.0,415.7 566.1,390.3 566.4,556.1 566.7,489.6 566.7,439.1 566.7,462.1 567.1,383.2 567.2,411.5 567.5,431.3 568.1,458.1 568.4,468.8 568.7,559.7 568.9,341.1 569.2,398.9 569.9,511.4 570.1,495.9 570.4,367.1 571.0,470.1 571.1,558.2 571.4,316.9 571.8,341.0 572.1,461.5 572.3,473.7 572.6,428.1 572.7,379.9 572.7,518.9 572.8,288.7 573.1,340.3 573.7,416.1 574.0,565.3 574.2,366.1 574.7,477.8 574.7,513.1 575.0,489.2 575.5,405.3 575.6,609.9 576.5,351.3 576.7,317.9 577.0,433.9 577.2,370.2 577.3,508.1 578.0,353.9 578.3,518.6 578.4,565.9 579.0,553.8 579.0,329.6 579.1,463.2 579.3,561.9 579.3,578.6 579.4,515.0 579.6,392.6 579.7,502.0 579.8,327.8 580.2,440.2 580.2,413.1 580.9,384.1 581.5,511.2 581.8,343.1 582.4,332.9 582.6,375.1 582.7,483.6 582.8,365.5 582.9,393.0 582.9,273.7 583.1,515.2 583.2,402.5 583.4,502.4 583.4,318.9 583.7,428.4 583.7,400.0 584.2,395.0 584.5,432.5 584.5,327.5 584.7,576.9 585.4,391.2 585.5,410.7 585.7,503.9 585.8,529.8 585.9,421.6 586.0,442.0 586.3,410.7 586.5,383.0 586.6,417.5 586.9,520.8 587.0,565.3 587.2,341.7 587.3,396.0 587.3,332.0 587.5,453.9 587.6,568.8 587.9,608.3 587.9,318.7 588.7,480.7 589.1,494.1 589.1,479.6 589.2,531.5 589.2,511.6 589.4,553.9 590.2,605.8 590.6,390.0 590.8,542.9 591.2,387.5 591.4,331.7 592.1,530.9 592.1,493.3 593.0,309.6 593.3,336.9 593.4,401.9 593.7,472.8 593.8,477.2 594.0,400.5 594.2,543.8 594.3,594.0 594.4,352.8 594.4,319.3 594.5,488.7 595.7,488.8 595.8,520.6 595.8,382.5 596.1,397.9 596.5,396.9 596.5,351.9 596.8,517.7 597.0,608.6 597.0,437.7 597.1,337.0 597.5,388.5 597.9,408.2 598.0,480.6 598.6,403.0 598.7,549.8 598.9,552.0 599.1,606.2 599.6,556.1 599.9,369.5 599.9,495.5 600.0,519.0 600.2,552.2 600.2,505.5 600.3,426.8 600.3,547.4 600.4,584.2 600.4,519.8 601.0,488.0 602.2,391.9 603.0,428.5 603.1,393.6 603.5,580.8 603.5,491.5 603.5,390.4 603.5,472.1 603.6,467.5 603.7,386.4 603.8,453.1 603.9,364.2 604.2,509.1 604.5,418.1 604.8,462.3 605.0,567.3 605.3,429.4 605.3,547.8 605.4,407.7 605.7,442.5 605.9,333.2 605.9,336.8 607.1,494.3 607.3,580.3 607.3,385.2 607.7,607.8 607.8,414.3 607.8,335.4 608.3,543.8 608.6,411.6 608.8,445.3 608.9,359.8 609.2,363.6 609.2,442.6 609.2,548.3 609.6,555.3 609.8,396.1 610.6,580.6 610.9,545.1 611.8,559.4 611.9,413.5 611.9,571.7 612.2,599.5 612.5,537.8 612.7,376.1 612.8,594.1 613.2,437.9 613.9,424.9 614.0,427.0 614.1,566.9 614.6,557.1 614.6,339.7 614.7,468.1 614.7,524.6 614.7,534.1 615.1,433.2 615.3,371.5 615.3,494.1 615.8,427.9 616.0,397.7 616.2,495.3 616.3,387.0 616.4,537.8 616.8,496.1 616.9,406.8 616.9,374.9 616.9,607.1 617.0,422.7 617.3,349.4 617.4,349.3 617.4,430.1 617.8,372.7 617.8,364.5 617.9,535.6 618.1,482.0 618.2,594.5 618.2,422.9 618.2,457.6 618.3,366.1 618.4,361.4 618.5,558.3 618.6,482.9 619.0,397.1 619.1,600.7 619.6,367.7 619.7,315.2 619.8,447.2 619.9,511.6 619.9,594.7 620.2,477.1 620.3,544.1 620.3,509.4 620.8,378.9 621.0,398.9 621.2,454.4 621.2,471.4 621.2,347.7 622.4,443.6 622.7,420.5 622.7,518.4 623.0,512.4 623.1,356.8 623.2,349.6 623.6,437.1 624.1,547.6 624.1,464.2 624.1,415.5 624.1,500.7 624.8,521.3 625.1,437.9 625.2,359.2 625.2,425.6 625.2,466.4 625.4,559.1 625.4,354.7 625.4,616.0 625.4,489.2 625.7,398.4 625.7,442.0 625.8,524.9 625.9,608.3 625.9,358.3 626.1,448.7 626.1,421.9 626.1,493.7 627.1,391.0 627.1,508.9 627.8,422.7 627.8,602.0 628.0,534.3 628.1,549.0 628.1,507.4 628.4,450.2 628.6,469.1 628.8,422.9 629.2,515.0 629.6,359.7 630.0,455.0 630.3,465.3 630.4,406.9 630.4,575.0 630.7,474.5 630.7,453.5 630.7,409.8 631.2,446.4 631.4,392.0 631.4,554.2 631.5,403.5 631.5,519.1 631.8,398.9 631.9,567.4 631.9,495.0 632.0,292.6 632.1,483.6 632.3,507.9 632.4,395.0 632.6,514.8 632.6,525.4 632.7,608.0 632.7,387.2 632.7,352.0 632.8,337.0 633.0,446.0 633.0,512.5 633.2,393.7 633.2,519.0 633.5,546.7 633.9,563.5 634.0,605.8 634.5,471.8 634.7,385.6 634.8,362.2 634.8,453.0 635.1,433.2 635.3,396.3 635.3,550.3 635.5,430.9 636.4,596.1 636.5,380.6 636.6,427.6 636.6,389.1 636.6,553.4 636.7,362.4 636.8,573.5 637.0,538.1 637.7,533.8 637.8,382.4 637.9,435.9 638.1,431.8 638.2,438.1 638.5,400.2 638.8,563.1 639.1,395.8 639.2,504.7 639.3,575.8 639.3,461.5 639.4,413.1 639.4,607.8 639.4,390.3 640.3,384.2 640.4,395.1 640.4,404.7 640.5,466.0 640.5,601.4 640.7,363.8 640.7,530.0 640.9,421.5 641.3,608.7 641.7,453.2 641.9,575.8 642.0,413.9 642.3,419.0 642.3,593.9 642.5,433.8 642.6,599.0 642.6,405.2 642.7,423.5 642.8,599.8 643.0,323.4 643.0,592.7 643.1,396.8 643.5,579.9 643.6,546.6 643.6,427.8 643.8,424.4 644.0,400.4 645.1,539.6 645.2,619.8 645.2,512.9 645.6,575.4 645.8,517.1 646.1,455.4 646.3,505.0 646.6,405.1 646.8,564.9 646.8,462.6 647.0,545.7 647.0,581.1 647.4,387.3 647.5,380.2 647.7,601.6 648.3,502.8 648.4,506.7 648.5,399.2 648.7,388.5 648.7,522.5 648.9,576.1 649.2,438.8 649.3,540.9 649.7,505.5 649.7,467.6 649.8,533.4 650.0,555.1 650.5,502.9 650.5,545.2 650.6,500.8 650.6,498.0 651.3,519.0 651.3,535.6 651.3,495.1 652.3,440.1 652.4,566.2 652.6,519.2 652.6,504.5 652.7,410.1 652.8,365.6 653.3,423.2 653.7,497.6 653.9,381.7 654.1,444.7 654.1,519.8 654.2,392.6 654.2,476.3 654.3,524.2 654.3,548.0 654.6,497.5 654.6,461.7 654.8,391.9 654.9,500.3 655.3,597.9 655.6,516.3 655.9,368.2 656.0,436.0 656.2,424.1 656.3,249.5 656.4,501.0 656.5,539.9 657.2,417.0 657.5,331.0 657.5,601.0 658.1,386.9 658.1,382.2 658.5,536.8 658.6,571.5 658.9,459.3 658.9,481.3 659.0,422.2 659.5,502.4 659.6,544.5 659.7,545.5 659.8,534.8 659.8,384.4 659.8,555.4 660.0,413.0 660.0,474.7 660.0,374.0 660.2,463.7 660.3,527.5 660.9,457.0 661.3,423.3 661.5,557.7 661.7,397.6 662.2,436.6 662.3,419.6 662.4,430.4 662.6,582.8 663.2,466.3 663.4,503.7 663.5,537.0 663.9,363.2 664.1,543.4 664.1,549.5 664.5,310.8 664.7,377.2 664.8,558.9 664.9,415.1 665.1,435.3 665.2,390.2 665.4,470.8 665.7,474.0 665.8,457.7 666.1,422.3 666.1,484.3 666.1,442.9 666.9,540.1 667.0,382.6 667.0,502.8 667.1,374.9 667.1,599.7 667.8,525.6 667.9,414.1 668.1,549.2 669.0,383.6 669.1,395.7 669.3,505.4 669.4,415.2 669.5,376.6 669.5,466.7 669.9,508.6 670.5,423.6 670.6,520.8 670.6,500.0 671.1,384.1 671.2,450.7 671.2,405.9 671.8,515.0 671.9,430.1 672.0,471.9 672.2,423.3 673.3,413.3 674.0,519.8 674.0,396.4 674.1,459.4 674.5,549.9 674.5,496.2 674.6,410.5 674.7,446.6 675.4,452.9 675.5,445.7 675.8,452.5 675.9,383.2 675.9,539.0 676.2,568.7 676.2,389.7 676.3,479.3 676.7,514.5 676.8,459.0 677.0,562.9 677.1,468.7 677.2,390.4 677.3,429.1 677.3,518.4 677.5,589.2 677.7,550.1 678.1,531.6 678.1,491.9 678.3,563.8 678.7,485.1 679.2,380.1 679.7,480.2 679.7,449.2 679.8,452.5 679.8,536.8 679.8,521.7 680.0,494.6 680.5,420.2 680.5,468.4 680.6,452.9 681.0,433.1 681.2,389.2 681.3,532.8 681.8,559.2 682.1,475.8 682.3,390.6 682.5,477.1 682.7,367.4 682.7,424.6 682.8,595.3 683.2,379.1 683.7,397.9 683.7,420.2 683.7,556.8 683.9,494.4 684.2,460.3 684.3,523.3 684.4,556.1 685.0,402.2 685.2,440.6 685.4,487.5 685.6,494.8 686.2,375.4 686.4,454.3 686.6,475.9 686.7,555.1 686.7,551.5 686.8,323.4 686.8,516.0 686.8,551.6 686.9,547.6 687.1,452.7 687.2,581.3 687.3,461.4 687.5,389.3 687.5,481.9 687.8,521.7 687.8,566.2 687.9,380.8 687.9,387.9 687.9,407.8 688.0,435.2 688.1,403.4 688.1,567.6 688.4,400.9 688.4,397.7 688.5,441.9 688.7,455.2 688.9,530.6 689.0,571.1 689.1,377.0 689.3,484.1 689.4,392.3 689.9,495.5 690.2,594.7 690.6,480.9 690.7,470.9 690.7,395.9 691.3,568.2 691.8,466.7 691.9,479.8 692.4,471.6 692.4,551.5 692.5,400.5 692.6,420.9 692.6,413.6 692.8,502.6 692.8,512.1 693.3,514.9 693.6,494.0 693.6,575.8 694.4,529.9 695.2,493.9 695.6,476.8 695.8,565.4 696.4,440.2 696.8,459.5 696.9,499.2 696.9,395.3 697.1,482.0 697.2,533.6 697.3,525.4 697.3,598.1 697.3,488.9 698.0,413.4 698.1,457.8 698.2,438.3 698.2,440.5 698.8,403.0 699.0,565.3 699.1,411.1 699.4,370.7 699.4,372.2 700.1,400.7 700.1,577.4 700.4,477.2 700.5,577.2 700.6,383.7 700.6,506.0 700.7,487.9 701.5,467.8 701.5,477.7 702.2,464.5 702.2,369.8 702.4,489.7 702.8,512.8 703.0,595.2 703.2,469.5 703.6,384.6 703.6,431.5 703.7,441.3 703.7,508.7 703.8,383.8 704.0,540.0 704.0,430.4 704.3,544.5 704.4,403.1 704.4,466.3 704.5,576.1 704.7,524.6 704.8,544.9 704.9,542.3 704.9,412.6 705.2,390.2 705.2,375.2 705.3,504.8 705.9,449.4 706.5,423.1 706.7,517.3 707.0,401.2 707.2,450.4 707.6,372.8 707.8,578.6 708.0,523.6 708.4,405.4 708.6,526.4 708.7,403.9 709.2,430.7 709.3,411.6 709.4,465.1 709.4,489.8 709.6,480.4 709.8,467.7 709.8,546.0 709.8,524.6 709.8,597.5 709.9,354.9 709.9,365.9 710.2,428.0 710.5,487.0 710.6,455.8 710.8,552.0 710.8,531.3 711.1,427.2 711.2,518.7 711.3,419.7 711.4,506.1 711.6,356.2 712.2,460.6 712.2,503.9 712.3,539.4 712.5,407.3 713.0,533.7 713.1,516.4 713.2,504.9 713.3,428.9 713.9,408.6 714.8,578.6 714.9,475.1 715.0,578.0 715.4,517.8 715.6,564.9 716.7,486.1 716.8,468.7 716.9,396.4 717.2,467.9 717.4,514.2 717.4,505.2 717.6,453.8 717.7,378.0 718.0,434.3 718.1,496.4 718.6,440.6 718.9,489.0 719.1,472.2 719.3,503.9 719.4,357.1 719.4,495.3 719.5,537.9 719.7,367.6 719.7,471.4 719.7,553.1 719.7,557.2 719.8,557.2 719.9,423.0 720.0,342.6 720.1,502.6 720.3,555.3 720.4,596.4 720.5,389.9 720.8,462.4 720.9,383.3 720.9,454.8 721.0,574.9 721.1,545.0 721.5,520.2 721.5,545.5 722.3,484.4 722.5,495.7 722.8,563.2 722.9,420.3 723.0,532.8 723.0,438.2 723.1,545.5 723.9,448.3 723.9,408.7 724.1,482.1 724.2,488.9 724.6,462.0 724.7,409.6 724.7,347.1 724.7,358.4 724.9,353.7 725.0,528.4 725.0,595.8 725.1,506.2 725.2,418.9 725.4,467.0 725.4,468.1 725.6,469.2 725.8,353.4 726.2,576.9 726.3,349.8 726.4,419.1 726.4,350.5 726.5,472.5 726.7,360.7 726.8,432.2 726.9,431.5 727.1,527.8 727.3,342.8 727.4,406.2 727.5,575.6 727.6,563.5 727.6,353.6 727.9,442.0 727.9,494.4 728.0,389.0 728.1,473.5 728.2,527.3 728.2,422.4 729.5,588.7 729.7,456.3 729.8,322.2 729.8,382.7 730.0,457.4 730.2,409.0 730.4,552.0 730.6,490.6 730.8,522.2 730.8,481.3 731.1,375.7 731.2,464.9 731.2,422.0 731.4,564.6 731.7,555.5 731.8,347.3 731.8,389.4 731.8,439.0 731.8,554.9 731.8,437.5 732.1,394.7 732.2,519.9 732.3,473.8 732.4,347.1 732.5,521.3 732.6,450.8 732.7,459.7 732.7,415.1 732.9,462.8 733.4,378.0 733.4,389.7 733.7,475.9 733.8,547.0 733.8,388.4 734.0,368.0 734.1,438.3 734.5,594.8 734.6,346.8 734.6,420.7 734.6,578.4 734.6,340.0 734.8,575.8 735.1,414.5 735.4,451.0 735.7,414.2 736.1,383.8 736.2,540.8 736.6,507.8 736.9,491.5 737.7,580.1 737.8,399.0 737.9,464.4 738.0,467.3 738.4,331.1 738.5,329.4 738.5,350.7 738.6,578.0 738.7,461.2 738.8,436.8 739.1,530.1 739.4,284.9 739.5,418.2 739.6,476.8 740.0,567.8 740.0,350.2 740.1,328.8 740.3,404.8 740.7,596.6 740.9,412.6 741.1,538.9 741.3,553.3 741.5,346.4 741.7,517.3 742.0,541.0 742.3,443.1 742.4,377.6 742.7,343.2 742.8,460.6 742.9,525.8 743.0,339.2 743.3,516.1 743.5,467.8 743.7,485.4 743.8,281.0 744.2,410.4 744.3,488.8 744.3,504.5 744.9,394.7 744.9,457.8 745.0,561.0 745.1,446.0 745.2,468.4 746.3,553.2 746.6,576.5 746.8,569.9 746.9,280.6 747.0,419.5 747.1,522.0 747.1,515.4 747.2,593.1 748.0,372.8 748.0,479.6 748.1,577.7 748.4,498.5 748.7,508.7 748.8,443.7 748.9,391.2 749.1,527.7 749.2,485.4 749.7,501.8 749.7,403.5 749.7,516.4 749.7,502.1 749.8,489.5 750.3,553.6 750.8,553.7 750.8,536.5 751.0,554.3 751.5,493.5 751.6,583.1 751.6,469.2 751.7,376.2 751.8,490.5 752.0,374.3 752.2,476.6 752.4,362.8 752.5,360.3 752.5,383.7 752.6,284.9 752.7,320.2 753.2,494.8 753.4,354.3 753.4,538.7 753.4,395.3 754.0,568.9 754.2,378.4 754.4,477.2 754.6,522.6 754.9,407.3 755.4,578.2 755.5,594.3 755.6,565.5 756.0,435.7 756.0,530.0 756.1,572.2 756.1,419.7 756.5,346.4 756.6,357.0 756.7,400.4 757.0,459.2 757.2,416.3 757.3,594.4 757.3,487.0 757.9,475.4 758.4,353.7 758.6,504.2 758.8,516.1 758.9,494.3 759.0,473.4 759.0,554.2 759.1,579.2 759.2,604.4 759.6,474.3 759.7,410.8 759.8,549.5 759.8,488.3 760.3,489.4 760.6,507.2 760.8,433.2 760.9,483.4 761.0,362.5 761.0,382.7 761.2,353.9 761.3,372.7 761.5,495.4 762.2,413.3 762.3,464.9 762.4,553.2 763.0,466.6 763.7,353.7 763.9,597.3 764.1,426.9 764.4,535.1 764.6,464.6 764.7,364.8 764.7,454.0 764.9,406.7 765.1,360.7 765.4,367.7 765.8,558.6 765.9,466.7 767.0,381.8 767.0,441.2 767.2,530.3 767.2,348.7 767.6,460.9 767.7,403.4 767.9,433.6 769.1,457.1 769.3,363.8 769.4,398.5 769.5,347.3 770.3,597.1 770.3,520.0 770.4,555.9 770.8,499.6 770.9,377.9 771.5,578.1 771.7,371.2 772.4,419.6 772.8,349.4 773.0,383.1 773.1,381.2 773.5,350.6 773.9,523.9 773.9,529.9 774.2,488.4 775.4,490.8 775.4,392.1 775.5,541.1 776.1,551.5 776.1,541.1 776.2,443.1 776.4,561.6 776.5,475.2 776.5,456.8 776.7,447.4 777.0,380.4 777.0,340.7 777.3,442.2 777.4,479.4 777.5,472.4 777.5,586.3 777.7,362.4 777.7,537.2 777.8,469.6 777.9,515.2 778.1,449.3 778.2,422.2 778.6,428.9 778.6,451.1 778.7,340.9 778.8,387.0 778.9,361.2 779.3,576.6 779.6,567.7 779.7,377.7 779.9,403.2 780.2,444.2 780.5,480.6 780.6,579.9 781.0,507.8 781.0,390.5 781.0,360.7 781.1,487.7 781.1,552.1 781.1,447.8 781.5,562.5 781.6,540.8 781.7,592.2 781.7,365.0 781.8,417.3 782.0,394.1 782.1,450.3 782.1,340.6 782.6,585.2 782.9,585.7 783.2,541.6 783.4,577.4 783.4,431.5 783.4,401.1 783.5,554.0 783.9,383.5 784.0,422.4 784.0,466.8 784.3,452.2 785.3,425.0 785.6,419.5 786.3,442.9 786.4,417.7 786.6,360.1 786.7,313.8 786.9,448.3 787.0,538.2 787.2,585.5 787.7,470.4 788.8,573.7 789.1,528.1 789.4,494.7 789.6,464.3 789.8,394.4 790.0,560.0 790.1,466.3 790.4,384.3 790.8,499.8 791.0,497.4 791.2,392.9 791.2,528.5 791.3,454.9 791.5,454.1 791.7,508.9 791.9,502.9 792.2,524.4 792.2,480.7 792.3,349.5 792.5,453.1 792.9,517.8 793.0,430.8 793.0,562.2 793.2,374.1 793.3,390.5 793.3,559.6 793.5,356.6 793.7,503.9 793.8,394.5 793.9,445.0 794.5,421.0 794.6,472.8 794.7,403.2 794.9,454.5 795.0,439.8 795.2,586.1 795.4,357.7 795.5,546.8 795.5,410.7 795.8,328.4 795.8,593.8 796.3,566.6 796.4,404.1 796.4,505.0 796.6,399.5 796.7,502.2 796.9,432.6 797.0,485.4 797.4,407.1 797.5,503.8 797.8,504.6 798.1,540.7 798.2,407.1 798.7,388.8 799.0,383.6 799.1,327.9 799.3,476.2 800.0,372.5 800.2,452.4 800.3,360.1 800.3,369.6 800.4,437.7 800.5,473.0 800.7,384.0 800.8,518.2 800.8,257.9 801.0,324.5 801.2,559.2 801.4,470.6 801.5,496.4 801.5,491.1 801.8,466.3 802.0,422.5 802.3,418.9 802.7,372.5 802.7,378.5 802.8,438.1 803.0,311.8 803.0,288.7 803.0,454.3 803.1,377.6 803.4,481.0 803.4,349.2 803.8,348.8 804.0,584.3 804.1,585.0 804.2,430.8 804.9,507.1 805.4,404.8 805.4,463.1 805.6,486.6 805.8,501.3 806.0,368.4 806.5,374.6 806.9,549.3 806.9,419.7 806.9,483.6 807.0,372.6 807.1,317.8 807.2,465.0 807.6,467.4 807.6,449.4 807.9,409.9 808.1,562.4 808.8,497.6 808.9,520.9 809.6,471.0 809.8,457.1 810.1,389.5 810.3,465.0 810.7,563.9 810.9,554.5 811.3,472.2 811.3,507.7 811.4,535.6 811.5,418.5 812.2,469.2 812.3,555.0 812.4,526.7 812.4,449.6 812.6,514.3 813.0,586.9 813.0,512.1 813.4,535.5 813.8,539.5 813.8,395.6 814.1,530.2 815.0,491.8 815.1,454.6 815.1,529.8 815.2,507.7 815.2,509.2 815.3,355.6 815.5,528.9 815.5,405.5 815.5,412.9 815.7,366.1 815.7,401.8 816.1,468.8 816.1,374.3 816.4,417.6 816.6,434.8 816.8,388.2 817.4,370.5 817.5,407.9 818.0,500.1 818.1,372.4 818.1,578.6 818.3,403.2 818.4,327.2 818.4,389.3 818.4,442.0 819.1,514.7 819.4,414.0 819.4,361.1 819.4,490.4 819.5,426.6 819.7,521.7 820.0,356.0 820.3,383.9 820.5,511.0 820.6,538.0 820.9,586.3 820.9,438.2 821.1,497.8 821.2,497.6 821.2,404.7 821.3,434.4 821.6,371.5 822.0,518.3 822.1,401.5 822.2,472.8 822.3,436.8 822.8,553.0 823.1,404.3 823.3,460.7 823.4,535.7 823.5,366.2 823.6,558.8 823.6,372.4 823.8,398.1 824.1,574.4 824.1,455.9 824.4,445.8 824.8,436.9 825.2,567.4 825.6,394.6 825.7,375.2 825.7,536.3 825.9,436.9 826.1,375.8 826.1,414.2 826.3,483.8 826.4,444.4 826.4,411.7 826.6,445.8 826.6,506.9 826.9,371.3 827.4,456.0 827.9,566.3 827.9,388.0 828.3,387.4 828.3,507.3 828.5,481.7 828.5,502.1 828.6,502.3 828.9,404.5 829.0,414.0 829.3,453.0 829.4,399.1 829.6,487.2 830.0,449.4 830.3,557.0 830.6,528.4 830.6,489.6 830.8,416.3 830.8,483.4 831.0,460.8 831.1,468.9 831.7,517.4 831.8,424.2 831.9,440.1 832.0,574.7 832.1,486.3 832.2,461.3 832.3,519.7 832.6,588.8 833.4,464.8 833.5,407.8 833.5,468.9 833.7,514.2 833.9,406.0 833.9,418.3 834.1,452.3 834.2,575.6 834.2,382.3 834.4,502.2 834.5,540.8 834.6,554.6 834.8,441.4 835.3,422.5 835.5,463.8 835.7,417.2 835.7,486.4 835.8,448.1 836.0,379.5 836.8,569.1 837.0,564.4 837.1,418.3 837.4,378.8 837.7,501.3 838.1,445.6 838.3,539.9 838.4,495.3 838.4,417.8 839.0,472.2 839.0,493.4 839.7,584.1 839.9,462.5 840.1,529.9 840.1,482.1 840.3,458.7 840.7,373.7 840.8,483.6 841.1,521.6 841.1,556.0 841.1,577.9 841.5,380.5 841.6,462.2 841.7,395.7 841.9,399.0 842.0,479.6 842.0,503.3 842.0,514.2 842.1,407.1 842.1,493.9 842.3,472.5 842.8,546.2 843.0,526.3 843.1,473.7 843.5,566.2 843.7,481.0 844.3,389.9 844.4,458.1 844.5,458.4 844.7,372.9 844.9,393.1 844.9,402.0 845.1,447.9 845.3,380.9 845.3,433.7 845.4,438.2 845.9,472.1 846.2,498.9 846.3,475.0 846.4,504.7 846.6,389.0 846.6,485.5 847.4,372.3 847.7,486.0 847.8,547.7 847.8,504.2 848.1,431.6 848.2,508.6 848.5,427.8 848.8,416.4 848.9,366.8 849.6,502.5 850.3,438.2 850.4,498.0 851.0,429.7 851.1,458.2 851.3,399.4 851.4,400.6 851.8,490.3 852.0,396.0 852.2,517.6 852.4,416.9 852.4,535.2 852.8,520.8 852.9,424.5 853.1,446.0 853.1,361.5 853.2,423.9 854.0,467.4 854.1,478.1 854.3,506.3 854.4,473.6 854.6,470.2 854.7,394.6 854.9,493.2 855.0,509.2 855.1,411.1 855.2,544.2 855.2,555.1 855.3,441.5 855.6,439.6 856.1,363.1 856.7,467.6 857.2,430.6 857.8,514.7 858.0,448.9 858.3,553.1 858.8,554.8 858.8,511.4 859.4,398.7 859.4,421.0 859.5,427.2 859.6,569.0 859.6,453.3 859.7,456.4 859.8,474.1 859.9,466.0 860.1,408.9 860.2,567.0 860.3,489.7 860.5,401.7 861.2,469.5 861.8,556.5 861.9,409.0 862.1,456.0 862.5,354.5 863.0,441.0 863.1,440.1 863.1,421.2 863.2,432.0 863.4,401.5 863.7,359.4 863.9,385.3 864.1,480.8 864.6,554.3 864.6,408.0 864.9,392.4 864.9,312.8 865.2,562.7 865.5,555.3 865.7,430.2 866.1,382.2 866.2,384.7 866.2,514.2 866.4,507.4 866.5,483.2 866.6,465.5 866.8,531.5 867.1,380.2 867.1,444.4 867.1,530.3 867.2,559.3 867.7,540.7 867.8,549.6 868.4,458.2 868.7,519.1 868.7,421.7 869.9,435.6 870.2,475.6 870.2,545.3 870.3,430.6 870.3,526.5 870.4,553.2 870.6,461.2 870.7,543.8 870.8,389.6 871.4,456.4 871.4,381.4 871.8,551.1 872.0,488.9 872.0,400.0 872.4,476.7 873.1,462.6 873.4,364.9 874.2,414.7 875.4,608.2 876.1,481.8 876.4,535.1 877.1,493.3 877.2,398.0 877.6,396.1 877.8,353.3 878.1,389.5 878.6,383.7 878.8,399.7 878.8,421.7 879.2,517.0 879.7,382.4 880.5,425.7 880.8,346.4 880.9,399.1 880.9,422.9 882.0,410.5 882.1,451.9 882.3,403.2 882.4,440.9 882.5,434.3 882.7,422.8 882.7,454.3 882.7,456.5 883.2,472.7 883.3,343.5 883.4,391.0 883.6,348.9 883.7,467.1 884.1,425.3 884.4,357.0 884.7,460.4 884.8,490.7 884.8,487.8 885.0,476.8 885.1,366.5 885.5,378.3 885.5,427.7 885.6,482.3 885.9,395.2 886.0,354.6 886.1,348.0 886.1,437.9 886.2,403.3 886.5,336.1 886.5,340.2 886.7,448.3 887.2,361.7 887.3,543.3 887.5,418.5 887.9,466.2 888.2,349.5 888.3,419.3 888.8,466.9 889.0,334.5 889.1,327.3 889.5,404.3 889.9,453.9 890.3,422.1 890.6,421.1 890.9,452.3 891.3,362.1 891.5,492.2 891.5,482.0 891.8,352.8 892.3,342.0 892.7,408.7 892.8,350.6 892.8,458.0 892.9,472.2 893.6,413.3 894.1,343.7 894.2,374.4 894.4,377.1 894.4,362.8 894.5,443.9 894.6,472.4 894.6,336.5 894.7,505.0 895.2,343.7 895.3,448.1 895.4,426.9 895.7,481.2 895.8,491.5 896.2,314.6 896.7,389.0 896.7,425.9 897.3,375.2 897.7,333.7 897.7,411.5 897.7,360.4 897.8,416.9 898.1,321.3 898.1,443.5 898.4,399.4 898.5,367.1 898.6,527.1 898.6,504.9 898.7,378.4 899.0,407.7 899.4,350.0 899.5,507.5 899.9,319.8 900.0,435.3 900.1,387.5 900.1,517.3 900.1,499.9 900.1,503.7 900.2,513.0 900.3,418.8 900.5,516.9 900.7,417.1 900.8,315.6 901.0,350.6 901.2,365.1 901.3,358.7 901.4,338.9 901.7,460.9 902.0,416.3 902.1,286.1 902.4,430.4 902.6,398.0 902.6,397.1 903.1,345.7 903.4,329.5 904.0,355.5 904.8,448.0 905.1,373.5 905.5,331.3 906.0,320.3 906.2,406.2 906.6,328.2 906.7,409.2 907.1,436.2 907.3,304.7 907.4,427.5 907.5,319.5 907.6,368.3 907.7,331.9 907.7,330.6 907.7,373.2 908.0,368.5 908.0,411.9 908.3,243.8 908.7,285.1 909.6,480.8 909.7,327.2 909.8,469.0 909.9,314.9 910.3,410.8 910.4,446.9 910.9,402.9 910.9,377.5 911.2,412.8 911.5,315.5 911.6,314.4 912.3,398.6 912.4,354.6 912.4,354.8 912.6,362.8 912.7,310.3 912.7,445.6 912.9,422.0 913.0,361.2 913.0,373.1 913.1,419.9 913.3,314.4 914.3,332.6 914.3,391.6 915.5,453.7 915.6,424.9 915.9,361.2 916.4,317.4 916.4,417.4 916.6,351.8 916.7,363.2 917.3,367.0 917.3,370.2 917.4,348.9 917.4,319.7 917.5,446.9 917.6,341.4 918.2,465.6 918.2,341.7 918.3,314.3 918.5,392.1 918.7,334.7 918.9,407.2 918.9,483.2 919.0,318.9 919.2,476.2 919.2,269.4 919.3,417.8 919.3,345.3 919.7,359.5 919.7,372.9 919.9,335.5 920.2,398.0 920.4,419.1 920.6,312.5 921.0,413.6 921.2,330.5 921.3,369.0 921.6,301.0 921.7,321.2 921.9,368.8 922.2,307.1 922.4,396.5 923.1,413.9 923.2,440.8 923.2,416.4 923.4,330.4 923.6,215.6 923.7,430.1 923.8,322.7 923.8,340.6 923.9,480.5 924.0,367.8 924.0,457.5 924.2,459.1 924.3,460.6 924.4,354.5 924.8,363.1 924.9,341.2 925.1,400.4 925.1,487.5 925.2,393.9 925.2,511.1 925.4,435.1 925.5,385.7 925.6,331.9 925.8,311.2 925.9,365.0 926.0,488.1 926.5,461.6 926.5,370.9 926.6,360.2 926.8,418.3 927.1,375.4 927.3,497.2 927.4,480.9 927.4,380.9 927.6,440.5 927.7,466.3 928.0,207.9 928.1,311.2 928.2,453.1 928.7,446.4 928.8,348.0 929.4,476.2 929.4,399.9 930.3,360.8 930.7,421.6 930.7,448.4 930.9,440.6 931.0,419.1 931.1,380.9 931.2,359.9 931.3,430.1 931.4,473.9 933.6,352.2 933.6,350.1 933.8,481.3 934.2,325.5 934.4,336.4 934.4,365.0 934.5,411.8 934.6,257.9 935.0,470.0 935.5,354.1 935.8,471.6 935.8,341.3 935.8,439.0 936.0,373.5 936.2,363.3 936.4,460.1 936.8,153.9 937.0,359.5 937.1,509.0 937.1,420.8 937.3,425.8 937.4,490.6 938.4,448.3 938.9,281.0 939.3,344.0 939.3,438.4 939.7,331.8 939.7,344.8 940.1,431.1 940.3,486.2 940.3,446.0 940.5,392.5 940.6,425.6 940.7,444.8 941.1,219.4 941.2,431.3 941.3,447.0 941.4,378.4 941.7,515.0 941.7,467.4 941.8,347.1 942.0,510.3 942.1,438.4 942.3,465.3 942.4,380.8 942.6,472.8 942.8,334.1 943.1,459.1 943.3,461.4 943.6,446.6 943.7,449.8 943.9,409.6 944.4,399.0 944.5,205.7 944.9,338.0 945.3,434.5 945.6,433.7 945.6,382.4 945.8,477.8 945.8,377.8 945.8,404.9 945.9,368.4 946.0,413.7 946.3,386.2 946.3,354.0 946.6,474.2 947.0,385.4 947.2,480.6 947.3,402.5 948.0,393.4 948.1,397.1 948.2,495.2 948.3,397.9 948.7,501.5 948.7,537.8 949.4,400.2 949.4,446.7 949.5,422.7 950.2,409.8 950.3,435.1 950.3,380.3 950.3,403.3 950.9,519.9 951.1,413.3 951.2,405.6 951.2,394.6 951.6,539.2 952.0,535.2 952.9,516.1 953.0,434.2 953.1,532.1 953.2,444.8 954.1,477.6 954.2,376.0 954.6,507.4 954.7,447.7 954.8,476.5 954.8,440.3 954.8,524.9 955.0,537.2 955.1,418.7 955.5,345.9 955.6,371.7 955.8,416.6 956.1,417.6 956.6,449.1 956.7,405.2 956.9,464.8 957.3,492.5 957.4,461.1 957.8,478.5 957.9,381.8 958.2,457.7 958.4,404.8 959.5,390.8 959.7,505.3 959.9,432.2 960.0,433.7 961.0,535.1 961.3,482.1 961.5,339.9 961.6,488.0 961.9,505.8 962.1,393.4 962.5,469.1 963.0,484.1 963.1,415.0 963.3,408.6 964.1,478.5 964.2,441.9 964.6,474.9 964.7,385.0 964.7,424.0 964.8,446.9 964.9,408.4 965.1,483.6 965.2,385.2 965.3,525.8 965.3,477.8 965.6,405.6 965.8,493.5 966.1,571.6 966.1,424.3 966.3,530.9 966.4,431.9 966.5,511.2 966.7,484.0 966.7,544.5 967.0,402.7 967.3,535.0 967.8,433.5 967.9,484.9 968.1,396.6 968.3,497.2 968.3,462.3 968.4,406.3 968.5,498.2 968.7,568.8 968.8,442.2 968.8,455.5 968.9,448.2 968.9,438.0 969.1,495.4 969.1,544.0 969.1,440.8 969.6,412.9 969.8,452.1 970.1,507.5 970.2,502.4 970.9,508.3 970.9,439.0 971.0,515.1 971.2,432.4 971.7,505.6 971.9,507.2 972.0,529.6 972.4,449.5 972.7,548.1 972.8,512.6 973.0,453.1 973.7,456.8 974.1,442.7 974.5,423.4 974.6,460.9 974.7,451.3 975.0,489.8 976.3,508.4 976.6,460.4 976.6,454.6 976.8,466.7 977.0,483.3 977.1,457.2 977.1,484.7 977.3,542.2 977.4,415.0 977.6,470.7 977.7,532.0 977.8,585.9 978.2,508.8 978.4,464.4 978.5,475.9 978.5,520.1 978.6,502.8 978.8,487.4 978.9,501.3 979.2,520.9 979.2,549.2 979.5,447.2 979.6,437.3 979.6,487.6 980.7,533.6 980.8,475.0 981.2,536.4 981.9,454.5 983.0,499.0 983.9,482.9 984.1,508.6 984.2,490.3 984.2,523.3 984.6,503.3 984.7,523.7 984.7,488.4 984.7,536.7 985.5,442.4 985.6,522.4 985.8,527.3 986.0,506.4 986.5,464.2 986.7,497.9 986.7,507.9 987.0,513.1 987.2,544.4 987.3,548.5 988.2,527.2 988.2,444.6 989.1,518.7 989.1,480.2 989.8,540.9 989.9,500.1 990.0,468.5 990.1,528.3 991.0,536.6 991.6,334.9 991.6,559.8 991.8,510.6 992.7,569.2 993.6,550.1 993.8,211.7 993.8,338.8 996.0,215.6 996.0,281.0 996.0,533.9 996.2,481.1 998.1,288.7 999.4,550.5 999.7,506.5 1000.3,584.4 1000.3,619.8 1001.1,554.3 1001.7,478.9 1001.8,521.4 1001.8,496.9 1002.5,577.4 1003.1,528.8 1003.3,507.3 1003.7,559.7 1006.9,242.5 1006.9,592.9 1007.2,594.3 1008.0,553.9 1008.5,575.5 1009.0,552.3 1009.1,157.8 1009.1,177.1 1009.1,581.3 1009.8,509.6 1010.0,234.8 1010.4,514.9 1010.4,423.5 1010.4,631.4"/>
<polyline class="ser" points="136.3,1457.0 136.5,1122.4 136.5,1153.3 136.5,1488.1 138.2,1328.5 138.3,1332.2 138.7,1204.8 138.7,1467.5 139.1,1320.8 139.5,1329.7 139.5,1321.1 140.4,1398.1 140.9,1215.1 140.9,1457.2 142.2,1372.2 142.2,1439.5 143.1,1422.7 143.1,1199.6 143.3,1423.5 143.4,1340.8 143.6,1387.2 143.6,1325.9 144.1,1297.3 145.3,1410.3 146.9,1275.6 147.5,1441.7 147.5,1426.3 147.6,1289.3 148.2,1371.7 148.2,1418.6 149.8,1419.3 150.7,1343.0 150.8,1315.2 151.8,1383.2 152.0,1280.7 152.0,1424.6 153.1,1297.7 153.6,1286.2 153.9,1411.7 154.7,1389.8 155.3,1358.0 155.5,1258.2 156.3,1354.3 156.8,1386.3 157.0,1260.9 158.8,1350.9 158.9,1402.2 159.1,1395.2 159.6,1306.5 160.0,1327.7 160.1,1404.6 161.0,1422.2 161.2,1377.4 162.0,1419.9 162.5,1426.5 163.8,1235.7 164.0,1409.4 164.2,1273.9 165.0,1345.7 165.0,1397.2 165.7,1356.9 166.1,1252.6 166.2,1245.2 166.3,1281.2 167.1,1324.1 167.3,1309.1 168.1,1298.9 168.3,1360.3 168.5,1213.1 168.8,1307.9 168.8,1235.1 169.2,1260.2 169.5,1203.0 169.5,1331.3 169.7,1327.3 169.8,1354.2 170.3,1380.2 170.5,1179.9 170.8,1193.3 171.4,1412.7 171.9,1182.4 171.9,1181.6 172.0,1401.2 172.3,1344.0 172.7,1264.7 172.7,1263.1 173.0,1211.2 173.2,1390.6 173.3,1154.6 173.4,1145.8 173.7,1200.1 173.7,1308.4 173.7,1171.6 173.8,1411.6 174.3,1408.1 174.4,1184.5 174.6,1378.7 174.7,1412.2 175.4,1277.4 175.5,1175.5 175.7,1295.5 176.7,1354.5 176.7,1366.3 176.8,1174.3 177.1,1197.9 177.4,1258.8 177.5,1121.5 177.7,1310.4 177.9,1345.4 178.1,1215.8 178.2,1265.9 178.5,1375.1 179.0,1237.4 179.0,1328.6 179.0,1257.4 179.5,1309.0 179.6,1116.5 179.7,1187.5 179.9,1287.9 180.1,1398.2 180.3,1146.1 180.3,1330.9 180.4,1291.2 180.7,1327.0 180.7,1234.6 180.8,1308.9 181.2,1401.4 181.3,1319.8 181.6,1166.4 182.0,1113.9 182.2,1321.3 182.3,1085.1 182.9,1169.3 183.2,1295.8 183.4,1087.0 183.5,1224.0 183.8,1165.0 183.8,1126.0 184.1,1213.5 184.1,1076.1 184.2,1231.8 184.3,1079.8 184.6,1328.9 184.6,1295.3 184.8,1236.5 184.9,1103.6 185.0,1375.1 185.1,1324.1 185.2,1181.8 185.8,1249.9 185.9,1345.4 186.2,1276.5 186.6,1141.4 186.7,1185.4 186.8,1237.9 186.9,1178.3 187.4,1291.7 187.5,1353.0 187.6,1056.7 187.7,1080.0 187.9,1088.1 188.0,1115.6 188.5,1115.5 188.6,1160.6 188.7,1216.0 189.1,1387.5 189.1,1223.0 189.2,1230.3 189.6,1310.2 190.1,1237.1 190.2,1178.6 190.3,1339.5 190.5,1325.0 190.6,1210.2 191.0,1271.7 191.4,1058.4 191.7,1069.5 191.7,1310.5 191.9,1375.4 192.3,1085.1 193.1,1253.6 193.3,1232.6 193.4,1259.6 193.6,1314.3 194.0,1186.0 194.4,1119.6 194.7,1375.3 194.9,1114.6 194.9,1256.2 195.0,1246.0 195.0,1225.5 195.4,1230.0 195.5,1073.9 195.6,1109.9 195.8,1215.8 195.8,1341.2 196.0,1158.8 196.2,1159.0 196.3,1340.4 196.5,1042.7 196.5,1285.6 196.5,1311.8 196.5,1055.0 196.6,1391.2 196.7,1059.8 197.0,1061.2 197.1,1147.5 197.4,1312.1 197.5,1371.7 197.7,1151.5 197.8,1191.3 198.2,1305.0 198.2,1331.2 198.8,1172.4 199.5,1331.2 199.5,1219.6 199.6,1297.1 199.7,1116.9 199.7,1267.5 200.0,1316.4 200.1,1101.2 200.4,1361.0 200.5,1381.4 200.5,1386.7 200.5,1274.2 200.7,1038.9 200.8,1191.5 201.1,1043.2 201.3,1140.6 201.4,1349.7 201.6,1383.9 201.7,1295.7 201.8,1326.5 201.8,1389.7 202.1,1142.9 202.3,1332.3 202.4,1284.1 202.6,1113.1 202.8,1352.1 202.8,1301.5 202.9,1184.4 203.4,1290.5 203.9,1092.1 204.0,1112.1 204.0,1194.6 204.2,1373.4 204.3,1341.9 204.4,1095.8 205.4,1134.5 205.4,1355.9 205.4,1083.1 205.7,1148.1 205.7,1199.7 205.9,1372.3 205.9,1087.1 206.3,1335.4 206.6,1060.7 206.7,962.7 206.8,1334.5 206.8,1041.1 207.1,1045.5 207.4,1090.5 207.5,1208.7 207.5,1263.6 207.9,1093.2 207.9,1162.9 208.3,1257.9 208.8,1378.9 209.2,1290.6 209.7,1360.4 209.9,1252.6 210.2,1072.5 210.3,1260.7 210.9,1351.6 210.9,1066.2 211.1,1051.1 211.2,1076.4 211.3,1371.8 211.4,1351.3 211.7,1248.3 212.0,1190.6 212.2,1145.7 212.3,1239.0 212.6,1184.8 212.7,1333.6 213.2,1190.5 213.2,1009.1 213.3,1205.5 213.3,1350.7 213.4,1305.8 213.9,1065.4 213.9,1177.1 214.0,1278.2 214.0,1387.0 214.3,1053.5 214.5,1198.7 214.6,1302.5 215.0,1247.1 215.2,1325.8 215.4,1178.3 216.3,1126.3 216.6,1277.4 216.8,1388.2 216.9,1168.1 216.9,1103.5 217.0,1066.5 217.0,1271.1 217.2,1299.4 217.2,1077.4 217.6,1200.8 217.6,1029.7 217.7,1197.9 217.8,1134.1 217.8,1268.0 218.0,1286.7 218.0,1093.2 218.2,1199.3 218.3,1277.0 219.6,1361.1 219.8,1403.3 219.9,1260.9 220.2,1170.1 220.2,1240.2 220.3,1173.8 220.4,1074.5 220.5,1371.2 220.9,1259.2 220.9,1192.1 221.1,1410.5 221.5,1268.9 221.7,1254.7 221.9,1207.8 222.1,1078.4 222.2,1275.6 222.4,1131.2 222.5,1235.3 222.7,1422.6 224.4,1122.6 224.6,1183.4 224.6,1072.4 224.7,1058.4 224.8,1327.9 224.9,1249.7 224.9,1344.1 225.5,1352.5 225.6,1417.9 226.1,1360.7 226.5,1430.0 226.9,1328.1 227.0,1438.2 227.1,1153.9 227.3,1433.2 227.3,1395.2 227.8,1396.6 227.9,1261.8 228.5,1410.9 228.6,1099.6 228.8,1188.6 229.1,1237.9 229.2,1349.2 229.3,1087.4 229.5,1166.0 229.9,1443.5 229.9,1392.5 230.3,1316.5 230.3,1328.6 230.3,1303.3 230.3,1332.4 230.4,1168.1 230.8,1415.9 230.9,1336.7 231.1,1432.7 231.5,1355.1 231.6,1431.7 231.7,1405.3 231.8,1449.8 232.2,1298.5 232.2,1453.4 232.3,1380.6 232.4,1411.3 232.4,1238.1 232.6,1378.7 233.8,1169.2 234.1,1406.8 234.2,1267.5 234.2,1102.3 234.4,1182.3 234.5,1432.0 234.5,1362.5 234.5,1189.3 234.8,1355.4 235.6,1094.8 236.0,1439.9 236.1,1363.1 236.1,1341.8 236.2,1401.6 236.5,1260.4 236.6,1152.0 236.6,1356.8 237.0,1111.3 237.0,1446.2 237.0,1288.5 237.5,1301.5 237.5,1291.0 237.7,1447.9 238.2,1316.7 238.3,1247.1 238.4,1247.1 238.6,1283.7 238.7,1391.9 238.7,1466.4 239.7,1452.3 239.7,1386.0 240.0,1137.2 240.1,1277.7 240.7,1440.5 240.7,1411.4 240.7,1283.1 240.8,1430.5 240.8,1116.1 240.9,1104.8 240.9,1357.1 241.0,1460.0 241.1,1350.9 241.2,1154.0 241.4,1176.6 241.5,1215.6 241.7,1454.6 242.1,1198.2 242.2,1185.5 242.4,1329.6 242.4,1119.6 243.3,1454.7 243.7,1199.4 243.9,1184.3 244.1,1409.8 244.4,1346.8 244.4,1217.9 244.5,1311.7 244.6,1138.5 244.6,1176.9 244.8,1121.2 244.8,1245.2 245.0,1226.9 245.0,1445.4 245.4,1331.1 245.6,1414.3 245.8,1348.1 245.9,1288.3 246.0,1103.5 246.2,1186.0 246.2,1288.8 246.6,1120.2 247.1,1361.6 247.2,1349.5 247.2,1296.6 247.4,1203.9 247.5,1173.8 247.7,1374.3 247.9,1391.8 248.1,1152.4 248.2,1356.2 248.6,1111.2 248.6,1112.4 248.9,1165.3 249.0,1182.5 249.2,1357.7 249.3,1451.7 249.3,1294.1 249.6,1309.0 249.7,1215.9 249.8,1233.1 250.3,1268.0 250.4,1208.3 250.6,1319.1 250.8,1362.5 250.9,1347.6 251.4,1453.4 251.8,1439.6 252.0,1337.5 252.9,1336.6 253.2,1295.5 253.2,1372.4 253.4,1253.1 253.7,1423.5 253.8,1132.0 253.9,1445.4 254.1,1151.2 254.2,1195.6 254.2,1258.5 254.3,1442.5 254.6,1436.5 254.7,1445.9 255.0,1435.7 255.0,1373.4 255.4,1257.8 255.6,1223.8 255.7,1340.8 255.8,1355.6 256.1,1428.0 256.3,1137.8 256.6,1458.1 256.7,1246.9 257.2,1258.4 257.2,1143.5 257.3,1338.4 257.4,1326.3 258.0,1423.7 258.1,1167.2 258.2,1447.9 258.6,1204.5 258.9,1146.4 258.9,1378.9 259.1,1302.7 259.3,1357.5 259.6,1454.0 260.1,1370.4 260.2,1451.2 260.4,1174.9 260.5,1270.0 260.5,1415.6 260.5,1170.1 260.6,1256.7 260.7,1227.2 260.8,1194.5 260.9,1312.2 261.0,1255.6 261.1,1163.6 261.5,1451.2 261.6,1281.9 261.7,1165.6 262.2,1441.0 262.3,1166.0 262.8,1298.4 263.1,1158.5 263.6,1391.4 263.7,1295.7 264.0,1363.8 264.5,1384.5 264.8,1355.3 264.9,1466.5 265.3,1415.8 265.5,1461.4 265.5,1159.2 265.5,1351.1 266.2,1200.6 266.6,1392.0 267.2,1221.6 267.9,1283.7 268.1,1360.8 268.6,1233.9 268.8,1327.7 269.0,1345.7 269.0,1273.6 269.5,1190.4 269.5,1400.3 269.5,1220.4 269.8,1399.8 270.2,1269.0 270.4,1210.2 270.5,1406.7 270.7,1315.4 270.9,1187.3 271.0,1287.7 271.0,1454.1 271.3,1252.7 271.7,1321.4 272.1,1209.5 272.2,1250.0 272.3,1175.4 272.4,1393.4 272.7,1181.1 273.2,1203.5 273.3,1315.6 273.4,1365.5 273.8,1275.8 274.0,1278.2 274.1,1258.8 274.5,1324.5 274.8,1216.1 274.9,1228.3 275.1,1413.0 275.2,1204.5 275.3,1257.8 275.7,1315.1 275.8,1444.1 275.9,1336.4 276.1,1238.0 276.4,1253.8 276.6,1448.0 277.0,1251.8 277.1,1308.4 277.1,1341.9 277.3,1423.4 277.8,1361.0 278.2,1357.2 278.2,1295.3 278.5,1235.2 278.7,1433.7 278.8,1359.0 279.3,1444.5 279.4,1375.7 279.9,1420.4 280.0,1342.0 280.3,1262.2 280.4,1328.8 280.7,1433.8 280.7,1246.4 280.8,1229.7 281.3,1384.8 281.7,1312.5 281.8,1377.8 282.0,1305.8 282.1,1424.1 282.2,1314.4 282.3,1336.9 282.4,1349.0 282.5,1266.5 282.5,1398.1 282.6,1358.5 282.7,1426.1 283.2,1282.6 283.8,1393.2 284.1,1425.5 284.3,1242.8 284.3,1397.4 284.4,1312.6 285.3,1457.6 285.4,1243.7 285.4,1321.3 285.5,1312.2 285.5,1356.8 286.4,1434.1 286.4,1369.1 287.2,1364.3 287.4,1350.0 287.6,1262.7 289.5,1398.3 289.8,1450.8 290.0,1433.4 290.2,1453.8 290.3,1463.0 290.4,1294.4 290.6,1446.5 290.8,1264.8 290.9,1423.2 291.2,1453.0 291.3,1460.6 291.4,1355.0 291.8,1263.9 291.9,1407.8 292.1,1276.8 292.1,1402.3 292.1,1473.7 292.9,1474.4 293.3,1452.6 293.6,1255.7 293.8,1419.5 294.0,1440.0 294.1,1296.8 294.2,1409.7 294.5,1309.6 294.6,1355.5 294.7,1417.1 294.8,1447.8 294.9,1394.6 294.9,1429.8 294.9,1471.6 295.1,1375.0 295.2,1299.6 295.2,1352.1 295.5,1333.1 295.7,1306.1 296.0,1449.0 296.6,1468.6 297.4,1268.6 297.9,1473.7 298.0,1410.2 298.5,1244.3 298.6,1365.7 299.1,1473.0 299.2,1435.5 299.2,1471.2 299.4,1339.4 299.4,1243.8 299.9,1332.3 300.1,1255.9 300.3,1284.8 300.6,1339.4 300.7,1332.5 300.8,1333.8 300.9,1482.9 301.0,1260.3 301.1,1389.6 301.3,1265.1 301.7,1259.1 301.7,1440.6 302.1,1261.8 302.2,1408.7 302.2,1464.2 302.5,1293.6 302.8,1353.8 302.8,1402.4 303.0,1363.8 303.4,1284.4 303.6,1409.8 303.8,1373.4 304.1,1479.9 304.8,1228.5 305.0,1226.2 305.1,1246.1 305.6,1251.5 305.9,1444.2 306.3,1360.3 306.3,1412.1 306.8,1262.9 307.0,1281.4 307.1,1213.3 307.5,1450.0 307.7,1445.1 307.8,1394.4 308.0,1241.0 308.5,1302.3 308.6,1428.0 309.1,1189.5 309.2,1462.0 309.7,1498.4 310.5,1320.9 310.6,1448.9 310.8,1462.4 310.9,1281.6 311.0,1391.3 311.4,1171.9 311.5,1263.9 311.6,1452.1 311.9,1361.9 311.9,1355.4 311.9,1159.3 312.1,1457.7 312.3,1459.7 312.4,1243.3 312.7,1287.5 312.9,1412.1 312.9,1342.4 313.4,1444.6 313.7,1319.4 313.7,1285.9 313.7,1381.3 313.7,1177.8 313.8,1463.4 314.0,1392.3 314.0,1217.7 314.2,1446.8 314.5,1479.0 314.8,1434.2 314.9,1170.7 314.9,1281.4 315.1,1434.8 315.3,1182.6 315.4,1212.2 315.6,1401.3 315.6,1225.8 315.7,1343.2 315.8,1472.7 315.9,1150.0 315.9,1472.4 316.1,1397.7 316.6,1128.3 316.8,1401.7 317.1,1181.4 317.5,1455.0 317.5,1179.2 317.8,1197.3 317.9,1468.6 318.0,1276.4 318.1,1231.4 318.2,1178.8 318.7,1277.3 318.9,1255.1 319.1,1328.5 320.1,1382.8 320.9,1372.2 321.1,1300.3 321.2,1151.2 321.4,1269.0 322.0,1460.0 322.7,1326.1 322.8,1424.1 323.3,1189.3 323.4,1239.3 323.4,1282.0 323.5,1336.4 323.5,1409.5 323.6,1418.0 323.7,1148.3 323.7,1297.9 323.8,1436.2 323.9,1224.5 324.1,1151.2 324.2,1448.0 325.1,1306.5 325.4,1277.5 325.8,1413.0 325.8,1246.8 325.9,1250.2 325.9,1460.5 325.9,1251.4 326.6,1214.8 326.7,1457.0 326.9,1392.8 327.3,1303.8 327.3,1468.2 327.5,1427.1 327.6,1236.0 327.8,1339.7 327.8,1213.1 328.2,1249.9 328.7,1214.6 329.1,1154.8 329.2,1102.9 329.3,1342.8 329.8,1425.3 330.1,1166.9 330.2,1253.1 330.3,1425.7 330.5,1406.3 330.7,1451.3 330.9,1426.4 331.0,1386.9 331.2,1195.7 331.2,1355.4 331.5,1427.1 331.7,1459.1 331.9,1369.1 332.2,1433.0 332.6,1253.4 332.9,1127.7 333.2,1253.1 333.3,1460.5 333.8,1050.3 334.0,1320.8 334.1,1467.3 334.2,1462.2 334.3,1348.8 334.4,1410.5 334.4,1334.8 334.6,1462.0 334.6,1269.3 335.0,1441.1 335.4,1400.2 335.5,1426.2 335.8,1104.5 336.2,1185.4 336.2,1270.2 336.6,1136.8 336.6,1465.5 336.8,1107.0 337.1,1288.4 337.3,1158.8 337.4,1234.7 337.5,1291.6 337.7,1470.4 337.9,1136.9 337.9,1142.3 338.2,1471.4 338.3,1456.9 338.6,1268.9 339.1,1112.1 339.7,1465.0 340.0,1342.7 340.0,1443.3 340.6,1221.4 341.1,1137.0 341.3,1413.0 342.5,1453.9 343.1,1389.5 343.4,1124.7 343.6,1224.6 344.3,1435.1 344.4,1467.9 344.6,1460.1 344.8,1055.4 344.9,1447.0 345.1,1447.3 345.1,1306.2 345.2,1322.6 345.3,1307.7 345.4,1348.0 345.7,1442.9 346.0,1285.3 347.1,1138.2 347.1,1155.1 347.2,1177.1 347.2,1430.4 348.0,1336.6 348.1,1247.3 348.1,1261.4 348.2,1231.1 348.6,1132.6 348.7,1437.0 349.1,1175.8 349.4,1180.2 349.8,1293.8 349.9,1196.5 350.0,1456.1 350.3,1255.8 350.8,1245.4 350.9,1354.7 351.2,1174.9 351.2,1310.4 351.4,1127.6 351.6,1144.7 351.6,1288.0 351.7,1396.4 352.0,1285.0 352.0,1332.3 352.7,1392.9 353.0,1216.7 353.1,1126.0 353.2,1442.9 353.6,1341.3 354.1,1444.1 354.2,1134.8 354.3,1175.0 355.1,1372.0 355.4,1309.7 355.9,1224.7 356.1,1438.3 356.2,1320.9 356.5,1178.9 356.7,1457.8 357.7,1437.4 358.0,1457.7 358.1,1222.0 358.3,1371.5 358.6,1387.7 358.7,1374.6 358.9,1359.8 358.9,1279.3 359.4,1384.8 359.4,1148.8 359.5,1212.9 359.8,1285.2 360.1,1225.3 360.2,1386.6 360.9,1116.9 360.9,1193.4 361.0,1233.5 361.1,1212.0 361.2,1258.1 361.6,1321.1 362.0,1157.5 362.3,1232.4 362.3,1218.2 362.4,1205.9 362.5,1145.1 362.9,1268.1 363.0,1248.7 363.1,1275.9 363.1,1207.2 363.5,1147.9 363.9,1232.9 363.9,1215.4 364.3,1176.2 365.3,1222.8 365.6,1172.6 365.6,1213.4 365.7,1109.0 365.7,1200.1 365.8,1247.4 366.3,1260.8 367.0,1452.3 367.0,1204.3 367.3,1384.9 367.4,1379.8 367.5,1422.4 367.9,1429.9 368.9,1245.7 370.3,1164.6 371.7,1225.4 372.2,1412.3 372.5,1264.1 372.6,1303.8 372.7,1405.0 372.7,1233.8 372.8,1437.9 373.1,1443.7 373.3,1165.8 373.6,1282.2 374.6,1170.3 375.4,1443.2 375.4,1302.9 375.6,1398.8 375.6,1202.1 376.1,1394.7 376.1,1427.2 376.2,1441.5 376.3,1406.4 376.6,1334.0 376.8,1163.8 376.9,1296.6 378.1,1131.7 378.1,1118.9 378.2,1100.5 378.3,1150.7 378.4,1381.1 378.5,1448.6 378.7,1465.3 378.9,1286.3 379.2,1182.9 379.6,1459.6 379.8,1299.1 379.8,1291.7 380.0,1155.8 380.7,1429.1 381.1,1253.2 381.3,1445.2 381.6,1384.1 381.7,1300.7 381.9,1187.0 382.0,1297.6 382.0,1286.6 382.0,1184.8 382.2,1353.6 382.3,1200.8 382.3,1395.0 382.3,1251.0 382.4,1108.5 382.6,1447.2 382.6,1378.0 382.7,1176.8 382.7,1280.4 383.0,1432.7 383.1,1435.7 383.1,1327.1 383.3,1259.8 383.5,1394.0 383.9,1444.1 384.0,1376.8 384.1,1405.9 384.2,1429.5 384.5,1125.5 385.1,1379.8 385.3,1308.1 385.5,1145.6 386.4,1344.3 386.4,1317.9 386.4,1184.5 386.5,1147.2 386.9,1290.2 386.9,1403.9 387.5,1196.8 387.8,1171.1 388.0,1442.7 388.0,1276.9 388.1,1108.9 388.2,1456.6 388.3,1266.3 388.7,1241.6 388.8,1226.6 389.0,1132.0 389.0,1162.9 389.1,1358.1 389.1,1151.2 389.6,1220.0 390.3,1123.1 390.5,1107.5 391.8,1220.7 392.0,1169.4 392.2,1388.4 392.5,1326.7 392.5,1171.2 392.8,1134.8 392.9,1327.4 393.0,1065.7 393.1,1377.9 393.5,1318.7 394.2,1163.0 394.3,1382.9 394.6,1172.6 394.7,1231.7 395.2,1152.6 395.4,1138.4 396.0,1287.0 396.1,1127.6 396.2,1205.9 396.6,1178.0 396.6,1354.6 396.7,1414.8 396.7,1164.8 397.0,1449.8 397.1,1265.1 397.4,1086.3 397.7,1117.3 397.7,1237.5 398.1,1335.4 399.0,1120.1 399.1,1457.6 399.6,1430.0 399.8,1414.3 400.2,1456.0 400.3,1377.9 400.9,1356.2 401.0,1378.1 402.0,1207.3 402.0,1176.2 402.0,1382.9 402.2,1419.2 402.9,1345.4 403.1,1312.2 403.2,1257.4 403.2,1218.2 403.5,1380.5 403.8,1445.2 403.8,1131.0 404.0,1452.8 404.0,1148.0 404.5,1423.8 404.5,1192.6 404.6,1265.7 404.7,1131.8 405.0,1456.6 405.3,1135.4 405.6,1283.5 405.7,1171.9 406.0,1298.5 406.0,1215.1 406.2,1417.1 406.5,1230.5 407.0,1393.7 407.1,1302.2 407.3,1246.9 408.1,1437.8 408.2,1279.2 408.9,1247.0 408.9,1361.1 409.1,1180.6 409.4,1293.8 409.6,1167.4 410.3,1224.4 410.5,1181.7 411.0,1335.2 411.0,1308.3 411.9,1331.8 411.9,1455.7 412.4,1201.1 412.6,1342.8 412.8,1218.2 413.1,1216.3 413.1,1429.5 413.4,1456.6 413.5,1271.0 413.5,1434.0 414.0,1164.7 414.3,1279.6 414.7,1412.1 414.9,1420.0 415.0,1204.0 415.4,1228.9 415.5,1280.9 415.8,1442.8 416.2,1278.6 416.2,1253.7 416.4,1439.9 416.7,1383.0 417.0,1213.7 417.0,1456.7 417.3,1247.0 417.8,1315.6 417.8,1197.6 418.3,1341.2 418.6,1153.1 419.4,1262.4 419.5,1384.2 419.6,1238.6 419.9,1269.5 419.9,1190.5 420.1,1450.6 420.1,1312.7 420.1,1357.6 420.2,1322.0 420.7,1431.9 420.7,1190.5 420.8,1445.3 421.7,1362.4 421.7,1339.2 422.0,1436.4 422.0,1227.0 422.1,1265.4 422.8,1369.4 423.0,1312.2 423.1,1342.0 423.3,1261.3 423.3,1288.0 423.6,1321.3 423.7,1195.5 423.9,1174.8 423.9,1382.2 424.0,1204.4 424.2,1239.0 424.3,1253.7 424.5,1201.3 425.0,1227.1 425.4,1265.3 426.2,1265.8 426.3,1449.5 426.9,1269.0 426.9,1194.5 427.6,1309.5 427.9,1252.1 428.0,1202.9 428.1,1194.3 428.4,1437.1 429.1,1304.0 429.2,1187.0 429.6,1447.3 429.6,1441.0 430.0,1325.6 430.1,1403.5 430.8,1266.0 430.9,1183.8 431.1,1237.3 431.1,1447.7 431.5,1207.8 431.7,1253.4 432.6,1284.9 432.7,1429.3 432.7,1278.3 432.7,1349.3 432.9,1179.0 433.4,1201.9 433.6,1402.5 433.6,1344.0 433.7,1193.8 433.8,1241.3 434.0,1266.9 434.1,1261.3 434.2,1217.4 434.3,1233.7 434.3,1270.1 434.7,1172.7 435.0,1344.2 435.1,1452.1 435.2,1410.7 435.3,1381.6 435.4,1381.3 436.3,1181.6 436.4,1304.0 436.5,1340.2 436.6,1273.3 436.7,1361.4 436.8,1223.9 436.9,1179.0 437.3,1350.5 437.6,1192.3 437.6,1371.8 437.6,1371.4 437.7,1370.8 437.8,1188.5 438.0,1412.1 438.3,1256.4 438.4,1188.0 438.5,1234.4 439.4,1380.9 439.7,1257.2 439.7,1200.4 439.8,1283.9 440.3,1353.8 440.3,1351.5 440.6,1365.4 440.7,1466.8 440.9,1257.4 441.0,1458.7 441.0,1321.9 441.1,1236.1 441.3,1320.6 441.7,1252.7 442.4,1264.5 442.4,1400.0 442.6,1202.1 442.9,1444.1 443.0,1203.6 443.4,1173.9 444.0,1469.0 444.0,1403.0 444.1,1456.2 444.2,1472.9 444.7,1462.5 444.7,1437.9 444.8,1202.6 445.1,1188.6 445.1,1450.6 445.4,1267.2 445.9,1427.6 446.5,1456.0 446.6,1308.5 446.6,1414.7 446.7,1316.2 447.0,1233.1 447.0,1472.9 447.3,1377.3 447.5,1464.6 447.5,1284.7 447.6,1265.0 447.7,1452.4 447.8,1283.1 448.1,1421.9 448.8,1408.6 449.2,1303.1 449.4,1339.2 449.5,1412.0 449.6,1336.5 449.7,1338.4 450.3,1303.0 450.4,1393.2 450.6,1423.5 450.6,1468.2 451.3,1302.0 451.8,1303.8 452.1,1427.8 452.2,1464.6 452.7,1356.9 453.2,1426.4 453.2,1244.2 453.5,1384.9 453.5,1296.3 453.9,1437.5 454.4,1411.2 454.5,1198.3 454.5,1368.7 454.7,1280.5 454.7,1226.6 454.8,1305.9 455.0,1442.3 455.6,1456.2 455.8,1322.2 455.8,1268.4 456.5,1412.9 456.5,1318.9 456.9,1290.2 457.1,1390.9 457.4,1430.1 457.6,1197.2 457.9,1337.4 458.4,1297.3 458.6,1200.0 458.7,1350.5 458.9,1340.3 459.0,1341.4 459.1,1197.0 459.3,1446.7 459.4,1398.9 459.6,1475.4 460.0,1200.7 460.2,1458.6 460.2,1334.6 460.5,1439.6 460.7,1381.6 460.8,1204.1 460.9,1445.2 461.5,1363.1 461.9,1462.3 462.7,1368.0 463.0,1274.7 463.1,1422.8 463.3,1270.5 463.5,1467.7 463.9,1464.1 465.2,1256.0 465.3,1309.9 465.5,1352.8 465.6,1376.3 465.6,1256.6 465.7,1471.1 465.8,1363.0 466.3,1359.8 466.5,1296.9 466.6,1201.6 466.8,1432.5 467.1,1297.1 468.0,1287.1 468.3,1262.1 468.5,1274.5 468.7,1239.8 468.7,1253.3 469.1,1219.3 469.2,1301.9 469.5,1438.6 469.6,1270.2 470.0,1419.4 470.6,1472.1 470.8,1208.1 470.8,1458.9 471.6,1329.4 471.7,1321.3 472.2,1415.7 472.3,1271.5 472.3,1378.1 472.9,1229.4 472.9,1244.6 473.3,1449.6 473.4,1304.0 473.4,1218.4 474.0,1358.2 474.2,1429.2 475.1,1371.2 475.2,1308.1 475.4,1392.9 475.4,1191.2 475.5,1335.9 475.6,1315.6 475.8,1466.6 475.9,1465.8 476.4,1387.1 476.7,1226.3 476.8,1383.1 476.9,1196.0 477.1,1466.3 477.4,1407.7 477.4,1208.5 477.6,1282.6 477.7,1249.2 477.7,1376.4 477.9,1344.9 478.0,1256.0 478.3,1187.1 478.7,1436.4 478.9,1407.4 479.0,1384.7 479.4,1323.2 479.5,1446.6 479.8,1265.7 480.1,1235.1 480.2,1360.6 480.3,1254.4 480.5,1348.8 480.8,1440.4 480.9,1355.9 480.9,1329.9 480.9,1313.8 481.0,1441.9 481.7,1365.5 482.0,1338.4 482.0,1236.1 482.6,1338.0 482.8,1401.6 482.8,1237.6 483.3,1434.6 483.4,1190.0 483.6,1174.9 483.7,1306.6 483.9,1201.3 483.9,1328.7 484.1,1221.9 484.5,1203.9 484.7,1273.7 485.0,1179.9 485.3,1406.0 485.3,1409.0 485.5,1404.0 485.5,1246.4 485.6,1346.0 485.9,1164.7 486.2,1239.0 486.3,1173.6 486.3,1392.7 486.4,1445.6 486.4,1284.4 486.5,1248.6 486.7,1351.5 487.0,1364.8 487.0,1312.3 487.2,1183.8 487.2,1252.8 487.4,1401.2 488.0,1161.3 488.3,1245.7 488.3,1425.4 488.5,1186.9 488.9,1245.8 489.0,1408.5 489.0,1221.0 489.2,1169.6 489.5,1417.7 489.5,1422.3 489.9,1377.2 490.2,1305.1 490.3,1341.8 490.3,1308.9 490.7,1373.6 490.9,1450.0 491.3,1229.2 491.3,1420.8 491.4,1398.2 491.4,1427.2 491.6,1237.1 491.6,1162.2 491.7,1359.6 492.0,1318.8 492.4,1428.8 492.6,1447.7 493.0,1338.1 493.1,1216.4 493.4,1265.8 493.4,1383.2 493.5,1161.1 493.9,1219.4 494.1,1380.0 494.1,1320.6 494.3,1219.7 494.4,1315.6 494.8,1345.2 495.3,1267.3 495.6,1266.3 495.7,1380.6 495.7,1151.0 496.1,1413.3 496.1,1196.5 496.4,1287.1 496.4,1432.9 497.0,1423.6 497.1,1456.7 497.3,1225.4 498.2,1164.3 498.6,1356.3 498.7,1361.3 498.7,1445.1 498.8,1325.8 498.9,1359.5 498.9,1128.5 499.1,1388.6 499.5,1457.5 499.8,1341.3 499.9,1177.6 500.1,1316.0 500.5,1391.2 500.6,1156.9 500.7,1220.9 500.8,1271.9 501.1,1385.7 501.6,1449.8 501.7,1123.7 501.9,1402.6 501.9,1170.9 502.0,1425.8 502.1,1307.6 502.1,1404.1 502.2,1330.3 502.6,1128.0 502.8,1222.3 503.0,1192.7 503.1,1459.4 503.2,1192.3 503.4,1107.2 503.6,1125.1 503.8,1243.9 503.8,1245.2 504.0,1429.6 504.4,1356.0 504.5,1145.6 504.6,1404.3 504.7,1212.2 504.9,1119.9 505.2,1216.4 505.3,1136.9 505.4,1207.0 505.7,1153.2 505.7,1456.1 505.8,1369.0 505.9,1347.5 505.9,1461.8 506.1,1270.4 506.3,1150.6 506.4,1139.2 507.1,1454.0 507.6,1333.1 507.8,1377.3 508.3,1151.6 508.3,1375.8 508.3,1387.5 508.7,1157.3 508.8,1097.5 508.8,1119.3 508.9,1259.3 508.9,1419.3 509.5,1093.9 509.5,1373.9 509.8,1302.1 510.0,1130.2 510.8,1197.7 510.9,1100.7 511.3,1451.8 511.3,1298.5 511.9,1374.2 512.2,1086.7 512.3,1202.9 512.8,1171.0 512.9,1200.9 513.3,1374.3 513.4,1317.0 514.2,1464.8 514.3,1109.2 514.5,1236.8 514.7,1145.4 514.8,1147.9 515.3,1301.7 515.4,1438.3 515.4,1182.8 515.7,1341.9 515.8,1462.2 515.9,1251.3 516.6,1327.5 516.7,1406.3 516.8,1429.7 516.9,1160.9 517.8,1148.6 518.1,1443.5 518.3,1297.3 518.3,1209.5 518.3,1194.9 518.4,1151.1 518.7,1458.9 518.8,1091.9 519.0,1156.8 519.0,1392.7 519.2,1239.1 519.7,1465.0 520.0,1073.3 520.2,1096.6 520.3,1411.2 520.5,1450.1 520.6,1446.8 520.7,1171.5 520.9,1437.6 520.9,1099.6 521.4,1462.4 521.6,1081.6 522.1,1077.8 522.7,1223.8 522.8,1119.3 523.5,1298.4 523.6,1296.0 523.6,1172.0 524.2,1445.1 524.7,1397.5 524.8,1330.8 524.8,1441.0 524.8,1079.9 524.9,1362.1 525.0,1153.7 525.3,1296.7 525.3,1367.0 525.5,1084.8 525.6,1292.1 525.6,1229.5 525.7,1463.1 525.7,1154.2 525.8,1420.3 526.3,1419.3 526.4,1192.0 526.6,1250.7 526.6,1456.5 526.8,1072.4 526.8,1249.9 527.0,1097.5 527.0,1064.5 527.4,1068.2 527.4,1147.0 527.6,1174.9 527.7,1374.1 527.8,1087.0 529.1,1234.6 530.0,1243.1 530.3,1276.7 530.4,1336.6 530.6,1185.2 531.1,1404.9 531.4,1130.2 531.8,1464.5 532.1,1098.3 532.9,1158.7 533.2,1310.4 533.4,1220.6 534.0,1340.8 534.2,1135.3 534.9,1366.0 535.9,1197.6 535.9,1406.9 536.0,1295.3 536.3,1293.6 536.8,1139.5 537.6,1453.8 537.7,1115.3 537.8,1400.8 537.9,1262.4 538.0,1455.6 538.4,1413.8 538.7,1302.5 539.0,1276.0 539.1,1399.2 539.1,1051.7 539.7,1468.7 540.2,1111.4 540.9,1422.1 541.0,1318.6 541.1,1432.4 541.1,1332.7 541.2,1326.8 541.3,1309.9 541.9,1090.0 541.9,1444.8 542.5,1219.4 542.5,1440.3 543.0,1447.1 543.4,1222.7 543.4,1427.7 544.4,1290.4 544.5,1451.8 545.6,1151.5 545.6,1142.3 545.9,1092.2 546.4,1191.0 546.5,1315.0 546.8,1052.4 546.9,1063.4 547.2,1234.1 547.2,1062.6 547.7,1396.0 548.4,1415.3 548.6,1123.4 548.8,1111.4 548.9,1189.7 548.9,1098.0 549.0,1279.8 549.1,1240.7 549.2,1264.9 549.5,1151.1 549.6,1236.4 549.7,1347.9 549.7,1102.3 550.5,1104.8 550.8,1364.6 550.8,1086.3 550.8,1430.1 551.0,1400.8 551.0,1315.3 551.3,1455.8 551.9,1390.2 552.0,1106.5 552.2,1347.0 552.4,1094.8 552.4,1176.7 552.8,1327.3 552.9,1231.6 553.0,1207.9 553.0,1419.0 553.2,1174.7 553.3,1218.3 553.5,1402.7 554.5,1100.8 554.9,1385.1 555.3,1250.3 555.6,1128.7 555.7,1414.1 556.0,1154.5 556.1,1231.0 556.4,1270.2 556.6,1329.5 556.6,1070.6 556.6,1248.6 556.7,1327.7 556.8,1271.2 556.8,1456.5 557.0,1048.0 557.1,1458.0 557.4,1054.1 557.7,1459.9 558.2,1407.3 558.3,1403.7 558.6,1298.8 558.7,1064.2 559.0,1084.2 559.3,1155.8 559.5,1057.7 559.6,1377.1 560.0,1331.7 560.1,1224.2 560.2,1332.9 560.2,1235.9 560.3,1050.4 560.3,1341.8 560.6,1115.3 561.6,1411.4 561.7,1076.2 562.5,1118.6 562.9,1154.4 563.0,1198.2 563.0,1469.2 563.3,1295.3 563.3,1114.6 563.3,1167.6 564.1,1239.6 564.4,1469.5 564.8,1470.7 565.2,1343.6 565.3,1393.2 565.3,1229.3 565.4,1454.9 565.5,1094.5 565.7,1087.8 565.8,1335.0 566.0,1040.0 567.3,1441.8 567.6,1074.1 567.9,1403.2 567.9,1463.0 568.1,1266.3 568.4,1444.0 568.4,1077.9 568.6,1295.6 568.6,1430.7 568.7,1065.3 568.9,1252.6 568.9,1388.6 569.0,1308.3 569.2,1318.7 569.4,1336.0 569.7,1427.8 569.7,1403.9 570.2,1054.3 570.4,1073.0 570.4,1330.6 570.5,1122.5 570.9,1252.6 571.2,1469.1 571.7,1196.1 572.0,1131.6 572.2,1278.3 572.2,1300.0 572.8,1136.8 572.8,1078.2 573.1,1364.6 573.1,1093.9 573.4,1046.5 574.0,1046.6 574.6,1468.4 574.7,1062.0 574.8,1103.7 574.9,1221.9 574.9,1376.1 575.1,1216.0 575.7,1167.9 576.0,1072.6 576.5,1140.8 577.2,1469.1 577.8,1221.5 577.8,1144.8 577.9,1189.8 578.1,1372.1 578.1,1264.6 578.5,1291.4 579.0,1225.4 579.1,1106.7 579.3,1360.5 579.6,1467.9 579.6,1157.8 579.6,1403.3 579.6,1224.0 579.7,1042.9 579.9,1462.4 579.9,1130.4 580.0,1339.3 580.3,1244.9 580.3,1219.4 580.7,1452.5 580.8,1131.0 581.3,1464.0 581.4,1057.1 581.7,1310.4 582.1,1124.1 582.4,1203.3 582.5,1153.4 582.7,1370.2 582.7,1453.8 582.8,1343.2 583.0,1153.6 583.1,1424.6 583.2,1055.6 583.3,1126.8 583.4,1064.2 583.4,1372.1 583.4,1175.5 583.5,1457.3 583.5,1101.2 583.7,1362.4 584.2,1319.6 584.8,1421.4 584.8,1259.9 585.0,1114.9 585.0,1231.3 585.8,1083.0 586.1,1260.5 586.3,1075.9 586.6,1181.5 586.9,1156.1 587.3,1113.6 587.6,1464.6 587.6,1357.9 587.9,1078.4 587.9,1321.6 588.1,1164.0 588.2,1342.7 588.4,1146.0 588.4,1091.6 588.7,1246.0 588.9,1275.4 589.1,1330.2 589.3,1280.6 589.4,1466.7 589.6,1342.0 589.8,1296.1 589.8,1163.6 589.9,1193.3 590.1,1401.2 590.2,1059.5 590.3,1382.1 590.4,1228.0 591.0,1153.3 591.3,1429.4 591.6,1301.0 591.7,1281.1 591.7,1228.3 592.1,1091.4 592.2,1057.2 592.5,1434.4 592.8,1238.9 592.9,1319.2 593.2,1099.5 594.0,1381.8 594.1,1073.8 594.6,1465.1 594.7,1482.9 594.9,1058.0 595.2,1419.7 595.2,1347.9 595.3,1463.0 595.4,1160.7 595.7,1318.2 595.7,1131.2 596.0,1190.7 596.6,1060.2 596.9,1233.6 597.1,1466.0 597.1,1311.3 597.6,1177.3 597.7,1435.3 597.7,1169.2 598.0,1435.5 598.0,1060.1 598.1,1388.1 598.2,1099.6 598.9,1320.0 599.4,1341.0 599.6,1452.9 599.7,1374.7 599.8,1155.0 600.1,1133.0 600.2,1096.9 600.5,1128.4 600.6,1370.1 601.3,1271.1 601.7,1189.1 601.8,1464.1 601.9,1363.3 601.9,1438.0 602.1,1338.6 602.2,1401.1 602.3,1416.6 602.4,1414.6 602.6,1385.5 602.7,1440.8 603.4,1412.2 603.4,1422.9 603.6,1186.8 603.7,1145.2 603.8,1354.4 604.1,1185.6 604.3,1450.7 604.4,1456.3 604.5,1120.4 604.6,1290.3 605.1,1220.5 605.2,1084.5 605.6,1410.2 605.8,1084.5 606.1,1361.3 606.4,1446.0 606.7,1076.8 606.8,1327.2 606.9,1245.1 607.8,1088.7 607.8,1244.1 608.3,1293.2 608.4,1380.8 608.4,1452.3 608.6,1106.7 608.9,1380.3 609.0,1307.3 609.1,1361.3 609.3,1203.1 609.3,1428.9 609.7,1282.2 609.8,1137.6 610.0,1422.6 610.0,1135.7 610.3,1252.5 610.4,1223.2 610.6,1273.9 610.7,1354.3 610.7,1285.7 610.8,1323.7 611.0,1263.0 611.1,1232.1 611.2,1312.1 611.2,1419.1 611.3,1387.8 611.3,1099.3 611.5,1278.8 611.7,1202.1 611.7,1390.3 611.9,1371.1 612.1,1101.4 612.5,1316.6 612.5,1137.1 613.6,1198.5 613.7,1325.2 613.8,1148.6 614.0,1419.3 614.1,1426.6 614.2,1299.6 614.2,1126.1 614.4,1312.4 614.6,1305.0 615.0,1106.2 615.1,1135.3 615.3,1118.2 615.4,1374.4 615.5,1110.1 615.5,1411.6 615.8,1325.0 615.9,1416.1 616.1,1441.7 616.4,1222.3 616.4,1272.2 616.7,1254.6 617.1,1374.0 617.6,1361.1 617.6,1303.0 617.7,1106.8 618.1,1452.0 618.1,1211.4 618.6,1279.0 618.7,1441.4 618.8,1353.5 619.2,1419.2 619.4,1142.5 619.5,1278.6 619.7,1238.0 619.7,1403.2 619.9,1218.5 620.6,1342.8 620.7,1161.8 621.0,1314.2 621.0,1196.2 621.0,1183.2 621.1,1373.5 621.2,1304.3 621.7,1120.3 621.9,1341.0 622.3,1397.9 622.3,1349.1 622.8,1450.9 622.9,1178.4 622.9,1255.1 623.1,1347.9 623.4,1453.3 623.5,1207.8 623.6,1230.7 623.9,1344.0 624.2,1223.6 624.5,1174.1 624.5,1211.6 624.6,1395.6 624.7,1346.9 625.1,1350.5 625.2,1274.8 625.2,1427.7 625.3,1210.5 625.3,1225.1 625.4,1227.1 625.5,1336.0 626.1,1393.6 626.2,1300.6 626.8,1390.5 628.2,1184.9 628.5,1381.7 628.7,1400.1 628.8,1380.4 629.0,1399.9 629.0,1144.1 629.0,1385.6 629.3,1339.1 629.8,1127.5 630.3,1168.8 630.4,1218.5 630.4,1297.9 630.5,1407.6 630.5,1191.4 630.7,1176.6 630.9,1309.6 631.0,1331.1 631.1,1182.7 631.1,1205.3 631.4,1422.3 631.6,1414.1 632.3,1386.3 632.3,1375.1 632.4,1360.8 632.4,1208.3 632.5,1429.8 632.8,1356.9 633.3,1154.6 633.4,1450.6 633.5,1175.2 633.9,1317.3 634.0,1263.8 634.1,1237.8 634.3,1388.8 634.4,1424.4 634.4,1233.9 634.5,1241.0 634.6,1235.7 634.7,1329.4 634.9,1236.7 635.3,1320.3 635.4,1198.5 635.6,1254.7 636.0,1186.9 636.1,1184.8 636.1,1200.3 636.4,1303.0 637.2,1329.0 637.3,1223.0 637.8,1263.0 637.9,1381.7 638.0,1449.7 638.0,1345.4 638.1,1361.2 638.4,1205.6 638.8,1299.2 638.9,1287.7 639.1,1239.2 639.2,1197.7 639.4,1357.6 639.6,1440.2 639.9,1400.0 639.9,1306.2 640.0,1314.0 640.0,1358.4 640.2,1357.5 640.6,1351.8 640.6,1229.2 640.6,1330.9 640.7,1447.0 641.0,1285.2 641.2,1319.5 641.6,1353.0 641.6,1202.6 643.0,1148.1 643.7,1187.9 643.8,1373.5 643.8,1208.0 644.1,1425.5 644.2,1266.4 645.3,1388.0 645.4,1242.3 645.8,1441.7 645.8,1411.4 646.0,1248.0 646.2,1215.0 646.2,1368.6 646.2,1233.2 646.3,1195.3 646.5,1244.1 646.6,1444.4 647.3,1422.2 647.3,1163.6 647.5,1356.0 648.1,1419.9 648.2,1171.4 649.3,1324.6 649.5,1239.3 649.6,1237.3 649.9,1298.6 650.0,1362.4 650.1,1189.6 650.1,1408.8 650.2,1382.5 650.2,1187.2 650.5,1278.0 650.7,1397.8 650.7,1216.4 651.3,1414.8 651.4,1284.1 651.4,1247.2 651.4,1274.3 651.5,1306.0 651.7,1178.5 651.8,1217.3 652.0,1181.8 652.2,1260.3 652.6,1336.1 652.7,1315.3 652.9,1183.7 652.9,1236.9 653.0,1265.0 653.0,1448.5 653.2,1329.4 653.2,1378.7 653.4,1217.4 653.5,1389.9 653.8,1267.9 654.4,1199.1 654.4,1246.6 654.7,1274.8 654.9,1279.8 655.6,1347.8 655.8,1437.5 656.0,1254.6 656.1,1248.4 656.1,1246.8 656.3,1449.2 656.7,1430.5 656.9,1323.8 657.0,1211.4 657.0,1194.9 657.1,1327.2 657.3,1307.4 657.4,1279.8 657.8,1342.1 657.8,1376.5 658.4,1189.6 658.4,1377.0 659.0,1357.4 659.0,1283.3 659.1,1414.6 659.3,1429.6 659.4,1323.1 660.0,1222.6 660.1,1290.8 660.5,1446.0 660.7,1362.1 661.4,1218.2 661.7,1224.5 661.8,1285.1 661.9,1261.7 662.2,1356.7 663.2,1418.5 663.3,1224.7 663.4,1441.0 663.7,1387.4 664.1,1261.3 664.3,1330.6 664.5,1381.2 664.6,1205.3 664.6,1407.2 664.7,1354.9 665.1,1306.4 665.5,1211.2 665.6,1314.4 665.6,1314.2 665.6,1375.1 666.4,1310.8 666.7,1444.2 666.9,1217.9 667.1,1394.6 667.3,1233.8 667.7,1256.6 668.1,1266.0 668.5,1203.3 668.7,1341.3 669.2,1366.2 669.3,1325.2 669.4,1305.2 669.7,1244.5 669.8,1346.2 669.8,1436.5 670.0,1245.5 670.4,1449.2 671.2,1273.7 671.3,1268.9 671.5,1313.7 672.0,1322.4 672.1,1247.5 672.1,1232.0 672.3,1376.2 672.4,1407.8 672.6,1241.2 672.8,1225.4 673.6,1324.8 673.7,1259.0 673.8,1280.2 673.9,1236.0 674.0,1213.0 674.2,1247.3 674.3,1370.4 674.5,1406.8 674.5,1362.3 675.2,1410.1 675.2,1215.7 675.3,1442.7 675.7,1205.4 675.9,1228.3 676.0,1428.2 676.3,1351.0 677.5,1317.1 677.5,1188.9 677.5,1377.5 677.6,1317.3 677.7,1355.2 677.7,1239.7 678.4,1405.0 678.6,1300.0 678.8,1335.3 678.9,1204.7 679.0,1248.7 679.3,1410.2 679.4,1396.0 679.5,1265.9 679.7,1326.3 679.8,1346.5 680.1,1349.5 680.2,1254.3 680.3,1458.2 680.4,1329.8 680.8,1288.1 681.0,1328.4 681.2,1211.6 681.5,1454.9 681.6,1297.7 681.9,1362.3 682.0,1251.3 682.1,1454.5 682.1,1267.3 682.2,1444.4 683.5,1231.7 684.1,1438.3 684.1,1433.9 684.1,1261.5 684.2,1327.6 684.7,1300.2 684.8,1258.7 685.3,1458.8 685.4,1460.5 685.7,1460.3 685.7,1233.9 685.8,1380.6 686.1,1373.1 686.1,1282.3 686.1,1205.1 686.1,1458.6 686.2,1425.7 686.5,1216.9 686.7,1288.4 686.7,1420.1 686.7,1391.2 687.2,1389.8 687.2,1439.0 687.4,1323.3 687.4,1220.9 687.7,1160.2 687.9,1421.5 688.0,1229.6 688.1,1218.3 688.3,1353.9 688.3,1161.4 688.4,1175.1 688.4,1447.9 688.7,1308.2 688.7,1283.8 689.1,1384.1 689.3,1260.8 689.4,1160.0 690.0,1453.7 690.3,1263.4 690.5,1436.8 690.7,1224.6 691.1,1344.9 691.3,1411.5 691.9,1174.6 691.9,1345.2 692.3,1150.3 692.5,1257.7 692.7,1236.5 692.9,1312.0 693.9,1459.9 694.0,1425.1 694.2,1258.3 694.2,1446.6 694.4,1415.9 694.7,1177.4 694.8,1236.8 695.0,1233.6 695.5,1283.4 695.6,1197.2 695.6,1106.9 695.6,1221.3 696.5,1271.3 696.6,1162.9 696.7,1238.3 696.8,1458.2 697.6,1340.4 697.7,1401.0 698.0,1318.0 698.0,1325.1 699.1,1311.0 699.1,1150.3 699.4,1229.3 699.5,1436.1 699.6,1161.1 700.0,1127.5 700.1,1362.6 700.7,1401.0 701.1,1170.2 701.4,1114.8 701.9,1182.9 702.1,1193.8 702.2,1172.2 702.2,1125.7 702.5,1236.5 702.7,1351.8 702.7,1151.9 702.7,1117.7 703.0,1228.7 703.5,1223.4 703.7,1115.3 703.9,1255.7 704.2,1346.5 705.0,1342.4 705.2,1296.6 705.6,1260.8 706.0,1436.5 706.0,1339.6 706.3,1412.2 706.3,1421.6 706.5,1424.0 706.6,1326.2 706.7,1373.9 706.8,1405.4 707.1,1179.7 707.4,1459.7 707.5,1214.5 707.8,1156.1 708.0,1226.7 708.1,1454.3 708.5,1141.8 708.7,1305.0 708.7,1115.4 709.2,1398.6 709.4,1180.4 709.4,1159.7 709.8,1377.3 709.9,1286.4 710.2,1440.5 710.4,1464.9 710.5,1285.0 710.5,1233.4 710.5,1225.9 710.8,1166.5 710.9,1154.7 710.9,1429.2 711.2,1463.7 711.4,1089.1 711.9,1248.6 712.1,1444.8 712.2,1092.7 712.4,1379.4 712.5,1117.8 713.2,1292.4 713.5,1414.3 713.7,1439.2 714.1,1175.5 714.1,1409.5 714.6,1403.9 714.7,1439.7 714.9,1336.0 714.9,1378.7 715.1,1365.2 715.2,1457.5 715.2,1241.0 715.3,1330.4 715.4,1142.7 715.5,1156.2 715.8,1369.4 716.0,1085.9 716.2,1327.3 716.4,1072.6 716.7,1431.9 717.3,1146.8 717.7,1241.9 718.0,1115.6 718.0,1427.6 718.4,1122.4 718.4,1088.1 718.5,1466.6 718.6,1340.9 718.6,1272.9 718.7,1301.1 718.9,1394.7 720.0,1234.1 720.4,1277.5 720.8,1231.9 721.0,1305.1 721.0,1358.8 721.4,1100.4 721.5,1394.1 721.7,1409.2 722.0,1420.5 722.0,1231.6 722.2,1367.3 722.3,1292.5 722.9,1216.1 723.1,1348.4 723.2,1117.4 723.4,1289.7 723.4,1319.5 723.5,1386.8 723.9,1309.3 724.0,1154.6 724.4,1126.3 724.5,1462.3 724.6,1090.6 724.8,1455.8 725.0,1276.4 725.1,1452.6 725.5,1335.8 726.0,1443.7 726.4,1245.2 726.8,1432.8 727.5,1454.8 727.5,1173.8 727.6,1170.4 728.0,1292.1 728.2,1295.7 728.3,1148.1 728.7,1466.5 728.8,1174.1 728.9,1223.8 729.5,1158.0 729.6,1413.2 729.6,1177.8 729.7,1422.4 730.3,1328.4 730.4,1456.8 730.7,1050.3 730.8,1406.7 731.0,1288.5 731.2,1123.8 731.3,1232.3 731.4,1137.0 731.5,1254.9 731.5,1151.2 731.6,1346.0 731.8,1069.4 731.8,1198.9 732.7,1457.7 733.0,1239.1 733.5,1060.2 733.7,1175.6 734.1,1301.1 734.1,1368.9 734.1,1090.2 734.2,1225.5 734.5,1192.1 734.7,1129.8 734.9,1099.5 735.2,1152.0 735.6,1050.5 736.7,1300.2 736.7,1316.3 736.8,1276.5 736.9,1169.7 737.2,1184.7 737.2,1343.3 737.6,1095.5 737.6,1412.8 738.1,1102.9 738.3,1180.4 738.5,1245.5 738.7,1276.0 738.8,1429.1 739.2,1382.2 739.3,1194.4 739.7,1423.6 739.8,1123.9 740.0,1306.4 740.9,1218.4 741.1,1203.1 741.3,1144.2 741.6,1034.8 741.8,1463.6 742.7,1432.8 742.9,1330.5 742.9,1306.5 743.0,1443.8 743.1,1067.2 743.3,1052.6 743.4,1277.5 743.4,1061.5 743.5,1380.8 743.8,1447.3 743.8,1014.2 743.9,1229.1 744.1,1321.1 744.2,1071.3 744.3,1384.6 744.4,1237.1 744.8,1124.5 744.9,1159.8 745.0,1320.9 745.0,1056.3 745.1,1064.4 745.1,1059.7 745.3,1400.9 745.5,1402.9 745.6,1096.4 745.6,1179.0 746.0,1245.3 746.2,1323.5 746.3,1337.1 746.6,1323.5 747.0,1125.3 747.0,1293.2 747.1,1154.2 747.2,1443.9 747.3,1347.1 747.7,1256.2 747.9,1400.2 747.9,1246.2 748.0,1195.0 748.1,1415.6 748.6,1294.2 748.6,1363.6 749.1,1409.5 749.1,1402.5 749.5,1070.5 749.8,1079.0 750.0,1242.9 750.4,1190.0 750.5,1336.5 750.6,1406.0 750.6,1067.6 750.6,1193.0 750.8,1321.4 751.3,1410.3 751.6,1350.9 752.1,1143.5 752.2,1238.1 752.3,1392.5 753.0,1368.2 753.3,1228.9 754.0,1313.1 754.1,1203.0 754.1,1077.4 754.1,1292.6 754.4,1094.9 754.9,1423.8 755.2,1279.4 755.2,1440.7 755.3,1390.5 755.3,1462.2 755.4,1210.8 755.7,1151.4 756.0,1095.4 756.0,1410.7 756.3,1162.9 757.5,1191.0 757.6,1359.9 757.7,1446.0 757.8,1413.7 758.1,1184.9 758.3,1250.6 758.8,1179.9 759.1,1399.1 759.3,1373.4 759.3,1349.7 760.1,1345.3 760.3,1331.5 760.3,1209.9 760.5,1368.3 760.6,1119.4 760.8,1325.1 761.1,1308.8 761.3,1306.9 761.4,1204.0 761.4,1313.6 761.7,1085.4 761.7,1085.3 762.1,1462.7 762.1,1348.6 762.2,1071.8 762.4,1164.6 762.5,1235.2 762.7,1418.2 762.8,1113.5 762.8,1309.5 763.1,1252.0 763.2,1300.8 763.3,1080.0 763.5,1448.8 763.7,1333.3 764.0,1081.9 764.2,1158.7 764.2,1396.4 764.6,1351.0 764.6,1427.4 765.0,1105.9 765.2,1345.6 765.2,1211.9 765.2,1348.6 765.8,1302.5 765.9,1069.1 766.5,1258.0 766.7,1366.0 767.0,1305.0 767.1,1337.0 767.3,1302.5 767.3,1242.5 767.5,1428.9 768.0,1433.3 768.3,1414.4 768.4,1455.3 768.6,1143.0 768.8,1219.2 769.0,1171.3 769.1,1213.8 769.2,1208.9 769.2,1133.8 769.3,1309.1 769.8,1435.9 769.9,1341.1 770.5,1070.1 770.7,1106.7 771.1,1257.9 771.4,1306.2 771.4,1350.9 771.5,1433.4 771.5,1213.0 771.6,1079.6 771.9,1158.3 771.9,1454.8 772.2,1429.4 772.5,1185.6 772.7,1381.8 773.1,1072.1 773.1,1204.1 773.3,1105.5 773.5,1462.6 773.6,1281.2 774.1,1445.2 774.1,1117.9 774.5,1360.7 774.9,1138.7 775.2,1139.7 775.4,1159.3 775.5,1127.2 775.5,1435.5 775.7,1221.2 775.9,1083.1 776.0,1224.0 776.1,1134.8 776.8,1359.3 777.3,1458.7 777.5,1369.4 777.9,1223.4 778.3,1127.5 778.4,1322.3 778.6,1300.9 778.8,1404.6 779.7,1439.7 780.0,1216.4 780.1,1333.5 780.2,1097.4 780.2,1186.6 780.5,1439.3 780.6,1383.5 781.2,1265.7 782.0,1420.8 782.1,1446.4 782.2,1433.5 782.2,1360.5 782.3,1467.6 782.7,1419.6 782.8,1466.9 783.1,1244.2 783.1,1166.3 783.2,1177.6 783.3,1416.0 783.3,1260.6 783.3,1262.2 784.0,1300.6 784.1,1300.5 784.2,1383.6 784.2,1393.7 785.1,1200.2 785.4,1446.4 786.0,1432.3 786.0,1101.2 786.2,1390.3 786.5,1214.4 786.6,1372.2 786.7,1131.5 786.8,1426.3 786.9,1272.0 787.2,1167.8 787.6,1293.6 788.0,1074.2 788.0,1454.4 788.2,1287.6 788.3,1310.4 788.3,1255.2 788.5,1260.5 788.5,1073.6 788.6,1420.0 788.8,1272.8 789.0,1263.4 789.5,1317.0 789.7,1364.1 789.8,1375.5 789.9,1327.0 790.0,1314.3 790.3,1135.8 790.6,1462.9 791.0,1094.0 791.1,1462.7 791.2,1112.8 791.4,1282.0 791.8,1271.5 791.8,1323.7 791.9,1322.2 792.0,1099.9 792.3,1355.1 792.4,1124.7 793.0,1387.3 793.0,1418.9 793.1,1461.7 793.2,1079.8 793.6,1104.6 793.6,1390.5 793.7,1196.4 793.8,1254.2 793.8,1201.8 794.1,1232.9 794.2,1279.1 794.2,1427.5 794.3,1219.4 794.5,1260.8 794.8,1454.3 794.8,1418.8 795.1,1409.6 795.3,1376.4 795.7,1138.2 796.1,1280.9 796.3,1228.3 796.7,1261.3 796.7,1452.8 796.9,1356.9 797.0,1104.9 797.2,1205.3 797.3,1237.3 797.8,1085.9 797.8,1257.6 798.6,1269.4 798.8,1457.1 799.6,1154.5 799.8,1151.0 800.1,1344.3 800.4,1412.0 800.7,1284.2 800.8,1045.1 800.9,1163.6 801.4,1306.9 801.5,1133.0 801.8,1210.7 802.2,1342.2 802.8,1151.8 802.8,1339.3 802.8,1161.8 802.9,1101.2 803.1,1119.1 803.3,1147.9 803.3,1116.4 803.4,1440.8 803.5,1082.6 803.8,1172.5 804.0,1203.5 804.5,1198.9 804.5,1320.1 804.7,1409.9 804.9,1090.6 805.0,1105.3 805.3,1203.1 805.5,1464.0 805.6,1170.3 806.3,1085.1 806.4,1189.0 806.6,1210.7 806.8,1185.6 806.8,1160.6 807.2,1119.9 807.3,1166.3 807.4,1314.2 807.5,1260.4 807.6,1126.5 807.7,1442.9 808.2,1349.6 808.4,1235.7 808.5,1451.6 808.8,1242.7 808.9,1177.3 809.0,1351.7 809.4,1386.8 809.4,1335.1 809.5,1290.3 809.5,1423.2 809.5,1318.3 809.5,1461.3 809.8,1105.7 809.8,1287.2 809.8,1123.5 809.8,1388.9 809.9,1287.3 810.1,1233.8 810.3,1093.5 810.6,1252.2 810.7,1138.6 811.2,1329.1 811.5,1444.9 811.5,1114.2 811.6,1389.0 812.2,1341.3 812.5,1259.7 812.6,1416.4 812.8,1429.7 813.7,1439.8 814.1,1427.3 814.1,1294.9 814.2,1386.8 814.2,1257.8 814.5,1449.3 814.7,1195.4 815.0,1379.0 815.2,1099.5 815.6,1461.3 815.8,1202.4 816.0,1456.0 816.2,1464.5 816.3,1154.3 816.3,1110.6 816.4,1308.8 816.4,1426.7 816.6,1350.8 816.6,1359.9 816.8,1129.9 817.2,1150.2 817.2,1183.2 817.3,1159.5 817.4,1164.3 817.7,1234.0 817.7,1453.9 817.9,1140.1 818.2,1199.5 818.3,1349.9 818.6,1278.6 818.7,1334.8 819.2,1116.7 819.7,1229.7 819.9,1403.8 819.9,1117.4 820.2,1207.4 820.7,1309.8 821.1,1322.2 821.1,1149.9 821.9,1423.4 822.6,1362.4 822.8,1361.4 823.1,1374.7 823.1,1382.6 823.2,1133.6 823.4,1275.1 823.5,1296.4 823.7,1174.7 823.7,1184.6 824.0,1321.5 824.1,1249.6 824.3,1265.8 824.6,1151.3 824.9,1266.5 825.5,1243.1 825.5,1170.4 825.8,1255.5 825.8,1457.2 826.5,1234.7 826.9,1131.1 827.1,1472.6 827.1,1294.1 827.2,1410.8 827.3,1256.1 827.6,1274.4 827.8,1451.9 827.8,1177.4 827.9,1322.3 827.9,1425.2 828.0,1225.8 828.4,1255.5 828.6,1448.4 829.1,1157.3 829.4,1310.9 829.6,1409.6 829.6,1242.1 830.5,1358.4 830.7,1365.0 831.0,1230.7 831.4,1436.3 831.4,1260.7 832.2,1293.1 832.6,1309.6 832.6,1178.0 832.7,1348.0 832.8,1317.5 832.9,1409.1 833.2,1385.2 833.6,1290.1 833.6,1391.6 833.9,1269.7 834.0,1387.9 834.4,1289.7 834.5,1430.9 834.8,1228.7 834.9,1461.8 834.9,1465.8 835.1,1417.0 835.4,1438.4 835.5,1248.4 835.8,1212.6 836.3,1346.7 836.6,1268.4 836.8,1428.6 837.0,1431.7 837.9,1320.2 838.6,1307.3 839.3,1430.9 839.4,1331.5 839.5,1261.9 839.5,1319.3 839.9,1455.1 840.1,1225.6 840.2,1225.7 840.5,1462.8 840.8,1240.0 841.4,1391.2 841.8,1373.4 842.3,1442.1 842.8,1428.2 843.1,1299.4 843.4,1218.2 843.8,1299.3 843.8,1361.0 844.1,1282.9 844.6,1362.5 844.9,1219.8 844.9,1235.9 845.5,1269.3 845.6,1381.3 845.7,1309.3 845.8,1433.4 846.0,1458.5 846.1,1300.0 846.1,1432.9 846.3,1457.1 846.3,1255.6 847.2,1369.6 847.2,1427.2 847.4,1328.0 847.8,1306.1 847.9,1386.3 848.0,1434.4 848.1,1381.1 848.1,1428.2 848.3,1388.6 848.3,1258.3 848.6,1347.9 848.6,1387.9 848.6,1438.8 848.6,1454.0 848.7,1353.7 848.7,1320.1 848.7,1308.8 848.8,1467.1 848.8,1274.9 849.3,1290.0 849.3,1288.2 849.5,1458.2 849.7,1287.7 849.7,1417.9 849.8,1456.0 850.4,1373.0 850.5,1299.1 850.7,1333.1 850.9,1267.6 851.0,1339.6 852.3,1459.3 852.7,1248.1 853.0,1433.9 853.1,1281.2 853.3,1251.0 853.5,1454.2 853.8,1248.4 853.9,1375.8 853.9,1383.6 854.4,1366.9 854.4,1329.2 854.5,1349.8 855.4,1450.7 855.5,1425.4 855.7,1256.6 856.0,1304.4 856.1,1413.8 856.1,1297.4 856.2,1350.0 856.5,1297.0 856.9,1297.2 857.3,1407.0 857.5,1470.9 857.5,1404.1 857.9,1263.1 858.1,1441.4 858.3,1278.5 858.7,1413.9 858.9,1364.7 858.9,1313.9 859.1,1462.2 859.2,1270.6 859.4,1434.3 859.5,1452.3 859.6,1441.3 859.6,1317.2 860.2,1433.6 860.3,1329.4 860.6,1332.8 860.7,1321.0 861.0,1449.4 861.1,1385.5 861.2,1417.0 861.5,1261.9 861.6,1258.2 861.6,1437.9 861.7,1258.3 861.8,1375.0 861.8,1259.9 861.9,1320.6 862.0,1254.0 862.7,1302.5 863.3,1430.1 863.4,1363.1 863.4,1337.9 864.0,1463.9 864.1,1274.5 864.1,1409.2 864.2,1376.1 864.5,1468.2 864.5,1321.5 864.5,1254.7 864.6,1331.9 864.9,1466.1 865.3,1449.6 865.6,1460.6 865.7,1459.3 865.9,1295.3 866.2,1292.8 866.8,1385.4 867.2,1318.0 867.3,1450.6 867.4,1426.1 867.4,1301.4 867.9,1442.1 868.0,1416.3 868.0,1355.5 868.2,1412.7 868.3,1454.5 868.3,1388.0 868.4,1310.4 869.1,1379.5 869.4,1332.0 869.4,1418.3 869.6,1384.3 870.8,1429.7 871.2,1243.4 871.4,1409.3 871.5,1440.5 871.7,1379.4 871.7,1360.8 871.9,1333.6 871.9,1456.2 871.9,1272.2 872.1,1466.9 872.3,1299.1 872.6,1362.3 872.8,1245.6 872.8,1319.2 872.9,1461.4 873.1,1405.3 873.6,1302.3 873.8,1247.6 873.9,1352.4 874.0,1384.2 874.0,1453.1 874.1,1442.1 874.8,1407.2 875.0,1273.8 875.0,1429.1 875.8,1345.3 875.8,1436.3 875.8,1278.2 875.9,1457.8 876.4,1456.5 876.5,1233.4 876.6,1402.2 876.9,1391.5 876.9,1423.4 877.0,1438.2 877.1,1459.4 877.4,1376.0 877.4,1264.6 877.5,1471.0 878.2,1252.6 878.9,1284.1 878.9,1383.7 879.2,1399.8 879.3,1207.9 879.4,1406.7 879.7,1326.4 880.0,1372.3 880.3,1432.5 880.4,1408.4 880.8,1372.2 880.8,1291.9 880.9,1256.9 880.9,1446.5 881.0,1470.5 881.0,1450.3 881.0,1207.6 881.3,1271.9 881.6,1241.0 881.7,1363.5 881.9,1418.3 882.0,1192.2 882.1,1457.9 882.3,1233.1 882.5,1255.2 882.6,1215.9 883.1,1396.6 883.2,1465.4 883.3,1241.7 883.5,1230.8 883.8,1327.1 884.0,1214.9 884.2,1349.5 884.5,1266.1 885.1,1264.6 885.4,1383.9 885.4,1225.4 885.8,1430.1 886.3,1244.2 886.7,1163.1 887.0,1352.5 887.1,1348.5 887.4,1150.3 887.4,1443.3 887.7,1435.4 887.8,1311.0 888.3,1419.6 888.9,1355.8 889.2,1254.6 889.2,1310.1 889.5,1333.3 889.9,1434.0 890.1,1401.4 890.9,1319.9 890.9,1142.4 892.1,1438.8 892.1,1224.9 892.2,1122.7 892.5,1450.8 893.2,1267.1 893.3,1306.2 893.4,1439.2 893.8,1325.2 894.1,1234.8 894.2,1198.8 894.6,1368.8 895.1,1426.8 895.6,1445.8 895.9,1383.0 895.9,1167.6 896.5,1310.1 897.0,1277.2 897.5,1306.7 898.0,1127.3 898.2,1165.9 898.3,1278.4 898.3,1098.1 898.3,1297.1 899.1,1408.2 899.3,1206.7 899.4,1293.0 899.6,1284.7 900.3,1389.5 900.4,1410.3 901.3,1410.9 901.7,1239.4 901.9,1182.1 902.0,1361.5 902.1,1298.1 902.2,1102.9 902.6,1406.8 902.7,1116.7 902.8,1086.0 902.8,1260.7 902.9,1187.5 903.3,1284.3 903.4,1260.2 903.4,1271.0 903.5,1201.7 903.9,1116.4 904.3,1130.5 904.4,1404.0 904.5,1354.7 904.7,1163.4 904.8,1449.6 905.0,1398.7 905.1,1171.4 905.4,1446.8 905.5,1356.9 905.8,1070.5 905.8,1090.3 906.0,1203.6 906.2,1306.4 906.3,1157.7 906.5,1125.4 906.6,1382.6 908.3,1428.4 908.4,1146.8 908.5,1121.3 908.8,1311.4 908.9,1425.6 908.9,1197.1 909.6,1376.7 910.5,1174.7 910.6,1262.9 912.2,1362.8 912.5,1189.1 912.6,1114.7 912.8,1212.9 912.8,1190.6 913.2,1104.1 913.3,1374.7 914.1,1340.5 914.4,1341.5 914.8,1103.5 914.8,1356.8 914.9,1351.4 915.0,1401.1 915.1,1046.4 915.5,1312.9 915.5,1286.1 916.1,1086.1 916.6,1290.6 916.7,1102.1 917.8,1112.0 918.0,1125.0 918.0,1220.8 918.8,1123.5 919.4,1365.9 919.9,1287.9 920.0,1071.1 920.4,1223.6 920.6,1195.7 920.8,1382.0 921.1,1346.1 921.4,1064.4 921.5,1036.9 921.6,1388.5 921.9,1152.3 922.1,1396.1 922.1,1039.4 923.2,1360.6 923.5,1153.3 923.5,1113.4 924.0,1238.0 924.3,1299.6 924.4,1212.6 924.5,1248.6 924.7,1155.2 925.1,1080.9 925.3,1375.0 925.4,1156.7 925.4,1352.0 925.5,1260.4 925.5,1212.7 925.5,1195.6 926.0,1353.3 926.1,1194.6 926.3,1178.5 927.3,1395.2 927.5,1231.2 927.6,1351.1 927.7,1322.7 927.8,1092.6 927.9,1065.4 928.1,1378.7 928.1,1112.1 928.5,1343.0 928.5,1313.9 928.7,1383.2 928.8,1128.9 929.1,1207.2 929.1,1190.7 929.2,1051.8 929.2,1301.2 929.6,1251.7 929.7,1159.1 929.8,1033.1 929.8,1363.9 929.9,1240.0 930.2,1206.4 930.3,1154.7 930.4,1268.2 930.7,1120.5 930.8,1142.7 931.2,1036.7 931.4,1327.8 932.4,1142.5 932.4,1134.5 932.6,1184.8 932.7,1185.5 932.7,1357.4 932.7,1206.0 932.8,1136.8 932.9,1201.2 933.2,1389.8 933.9,1373.8 934.3,1390.4 934.3,1229.5 934.6,1233.9 934.7,1278.7 934.9,1164.6 934.9,1282.9 935.0,1304.9 935.1,1385.9 935.4,1140.0 935.5,1178.2 935.5,1152.5 935.8,1385.7 936.1,1354.0 936.3,1363.1 936.4,1342.0 936.5,1329.3 936.6,1264.5 936.7,1394.4 936.9,1234.2 937.0,1309.7 937.1,1029.1 937.2,1240.5 937.7,1335.8 937.8,1122.2 938.7,1316.7 939.9,1130.8 939.9,1149.5 940.2,1078.7 941.0,1370.1 941.1,1066.0 941.3,1104.0 941.4,1149.9 941.4,1313.8 941.5,1242.4 941.6,1208.3 942.2,1388.3 942.8,1180.4 943.0,1338.1 943.3,1286.6 943.3,1391.3 943.6,1082.8 943.7,1341.3 944.1,1184.0 944.5,1273.3 944.5,1152.2 944.9,1391.3 945.1,1326.2 945.2,1079.3 945.4,1106.4 946.6,1243.3 946.9,1388.0 947.0,1128.0 947.5,1390.8 947.6,1391.8 947.7,1267.6 947.7,1050.7 947.8,1129.6 947.9,1149.0 948.0,1044.0 948.4,1164.9 948.9,1099.4 948.9,1258.2 949.1,1226.5 949.2,1179.7 949.2,1146.6 949.7,1079.5 950.1,1241.6 950.6,1281.0 951.1,1384.0 951.2,1144.9 951.2,1327.6 951.2,1038.0 951.3,1366.5 951.3,1368.8 951.4,1361.7 951.6,1093.5 951.8,1142.8 952.2,1254.1 952.2,1373.4 952.3,1353.7 952.7,1371.2 952.7,1224.8 953.2,1314.4 953.3,1172.5 953.3,1359.3 953.3,1193.4 953.5,1199.2 953.6,1255.6 953.7,1184.4 953.8,1042.9 953.8,1156.3 954.3,1372.8 954.4,1344.7 954.5,1099.6 954.6,1393.2 954.9,1119.9 954.9,1301.2 954.9,1147.2 954.9,1263.1 954.9,1372.2 955.7,1106.9 955.7,1165.0 955.7,1315.5 955.8,1340.6 956.3,1132.9 956.4,1306.4 956.7,1156.3 956.9,1250.1 957.1,1124.6 957.2,1062.3 957.3,1071.7 957.5,1386.7 957.5,1087.0 957.8,1163.1 957.9,1107.7 958.3,1049.7 958.6,1188.2 958.6,1042.1 958.8,1224.9 958.9,1136.4 959.0,1221.5 959.1,1331.3 959.5,1323.3 959.7,1217.3 959.8,1131.1 960.1,1332.4 960.1,1091.2 960.5,1136.3 960.6,1267.3 960.7,1239.3 961.0,1089.0 962.4,1324.8 962.8,1398.6 962.8,1193.1 963.1,1322.3 963.2,1417.0 963.3,1184.6 963.3,1358.8 964.6,1272.3 964.8,1095.5 964.9,1127.3 964.9,1176.4 965.1,1292.2 965.2,1238.6 965.6,1331.5 965.7,1297.2 965.9,1419.5 965.9,1344.6 967.4,1111.1 967.5,1205.1 967.5,1397.0 967.6,1298.1 967.7,1282.9 967.7,1196.8 967.7,1233.3 968.1,1184.4 968.4,1420.7 968.5,1316.4 968.8,1314.3 969.1,1244.3 969.1,1120.2 969.3,1301.5 969.4,1386.0 970.0,1122.7 970.0,1225.5 970.2,1134.9 971.0,1207.5 971.0,1189.3 971.2,1436.0 971.2,1326.3 971.5,1341.4 971.8,1176.8 971.9,1436.2 972.3,1406.3 972.4,1409.4 972.8,1422.3 973.0,1149.3 973.5,1400.4 973.5,1314.3 973.6,1203.1 974.3,1256.2 974.3,1180.0 974.7,1159.6 974.7,1264.3 975.0,1168.2 975.1,1360.9 975.2,1366.5 975.4,1404.9 975.6,1422.2 975.7,1432.2 975.8,1255.9 976.1,1163.4 976.7,1428.3 976.8,1371.1 976.9,1168.7 976.9,1296.1 977.6,1423.4 977.9,1342.7 978.3,1240.0 978.9,1319.6 978.9,1179.1 979.0,1364.4 979.0,1440.0 979.4,1433.7 979.5,1395.5 979.6,1288.3 979.6,1213.8 979.6,1442.7 980.0,1248.1 980.3,1253.6 980.4,1377.2 980.4,1346.1 980.4,1210.5 980.8,1420.3 980.9,1189.8 981.0,1217.5 981.4,1239.3 981.5,1342.4 982.0,1338.5 982.2,1253.6 982.6,1414.2 982.9,1329.7 984.0,1217.7 984.4,1232.1 984.6,1371.1 985.0,1260.1 986.2,1337.5 986.6,1434.3 987.3,1421.7 987.5,1256.8 987.6,1423.1 988.8,1442.8 989.4,1189.3 989.8,1429.7 990.0,1406.4 991.0,1340.5 991.6,1354.1 992.0,1354.0 992.3,1420.7 992.6,1252.6 993.8,1204.8 994.4,1306.7 994.8,1435.8 995.9,1366.8 995.9,1280.3 996.8,1323.4 997.7,1277.7 997.9,1360.7 997.9,1238.7 998.5,1232.4 999.0,1280.5 999.8,1335.3 999.9,1427.3 1000.3,1482.9 1000.8,1238.6 1000.9,1379.3 1001.5,1306.8 1001.6,1414.8 1003.7,1449.8 1003.8,1301.4 1004.7,1403.2 1004.7,1215.1 1005.2,1252.9 1005.5,1426.8 1006.7,1416.2 1006.8,1459.5 1006.9,1297.1 1006.9,1106.9 1006.9,1122.4 1007.6,1275.8 1007.6,1441.2 1007.6,1408.3 1007.6,1237.9 1007.8,1248.4 1009.1,1197.8 1009.1,1132.7 1009.1,1287.2 1010.4,1488.1 1010.8,1231.5 1011.1,1376.0"/>
<text class="cap" x="11.3" y="839"><tspan>(</tspan><tspan font-weight="700">c</tspan><tspan>) Graphical representation@ gasifier height ratio, </tspan><tspan font-weight="700">z/z</tspan><tspan font-size="26px" dy="2.4">s</tspan><tspan font-weight="700" dy="-2.4">=0.533</tspan></text>
<text class="cap" x="1105" y="838"><tspan>(</tspan><tspan font-weight="700">d</tspan><tspan>) Contours of mean velocity magnitude of sand</tspan></text>
<text class="cap" x="1618" y="734.6"><tspan font-weight="700">z/z</tspan><tspan font-size="26px" dy="2.4">s</tspan><tspan font-weight="700" dy="-2.4">=0.533</tspan></text>
<text class="cap" x="11.8" y="1724.3"><tspan>(</tspan><tspan font-weight="700">e</tspan><tspan>) Graphical representation@ gasifier height ratio, </tspan><tspan font-weight="700">z/z</tspan><tspan font-size="26px" dy="2.4">s</tspan><tspan font-weight="700" dy="-2.4">=0.8</tspan></text>
<text class="cap" x="1114.5" y="1724.3"><tspan>(</tspan><tspan font-weight="700">f</tspan><tspan>) Contours of mean velocity magnitude of sand</tspan></text>
<text class="cap" x="1618" y="1621.2"><tspan font-weight="700">z/z</tspan><tspan font-size="26px" dy="2.4">s</tspan><tspan font-weight="700" dy="-2.4">=0.8</tspan></text>
<rect x="1180.5" y="151.2" width="60.0" height="483.0" fill="url(#cbg)" stroke="#111" stroke-width="2"/>
<path d="M1242.0 152.7V635.7H1181.5" stroke="#999" stroke-width="1.2" fill="none"/>
<path d="M1240.5 151.7H1248.3M1240.5 199.9H1248.3M1240.5 248.1H1248.3M1240.5 296.3H1248.3M1240.5 344.5H1248.3M1240.5 392.7H1248.3M1240.5 440.9H1248.3M1240.5 489.1H1248.3M1240.5 537.3H1248.3M1240.5 585.5H1248.3M1240.5 633.7H1248.3" stroke="#111" stroke-width="2.2"/>
<text class="cb" x="1271.0" y="159.6" textLength="100.0" lengthAdjust="spacingAndGlyphs">3.00e-01</text>
<text class="cb" x="1271.0" y="207.8" textLength="100.0" lengthAdjust="spacingAndGlyphs">2.70e-01</text>
<text class="cb" x="1271.0" y="256.0" textLength="100.0" lengthAdjust="spacingAndGlyphs">2.40e-01</text>
<text class="cb" x="1271.0" y="304.2" textLength="100.0" lengthAdjust="spacingAndGlyphs">2.10e-01</text>
<text class="cb" x="1271.0" y="352.4" textLength="100.0" lengthAdjust="spacingAndGlyphs">1.80e-01</text>
<text class="cb" x="1271.0" y="400.6" textLength="100.0" lengthAdjust="spacingAndGlyphs">1.50e-01</text>
<text class="cb" x="1271.0" y="448.8" textLength="100.0" lengthAdjust="spacingAndGlyphs">1.20e-01</text>
<text class="cb" x="1271.0" y="497.0" textLength="100.0" lengthAdjust="spacingAndGlyphs">9.00e-02</text>
<text class="cb" x="1271.0" y="545.2" textLength="100.0" lengthAdjust="spacingAndGlyphs">6.00e-02</text>
<text class="cb" x="1271.0" y="593.4" textLength="100.0" lengthAdjust="spacingAndGlyphs">3.00e-02</text>
<text class="cb" x="1271.0" y="641.6" textLength="107.0" lengthAdjust="spacingAndGlyphs">0.00e+00</text>
<text class="cb" x="1161.0" y="99.3" textLength="99" lengthAdjust="spacingAndGlyphs">contour-4</text>
<text class="cb" x="1161.0" y="124.4" textLength="270.0" lengthAdjust="spacingAndGlyphs">Mean Velocity Magnitud...</text>
<text class="cb" x="1155.0" y="670.0" style="font-size:23px" textLength="70" lengthAdjust="spacingAndGlyphs">[ m/s ]</text>
<rect x="1197.5" y="1032.6" width="58.7" height="475.4" fill="url(#cbg)" stroke="#111" stroke-width="2"/>
<path d="M1257.7 1034.1V1509.5H1198.5" stroke="#999" stroke-width="1.2" fill="none"/>
<path d="M1256.2 1033.1H1264.0M1256.2 1080.5H1264.0M1256.2 1128.0H1264.0M1256.2 1175.4H1264.0M1256.2 1222.9H1264.0M1256.2 1270.3H1264.0M1256.2 1317.7H1264.0M1256.2 1365.2H1264.0M1256.2 1412.6H1264.0M1256.2 1460.1H1264.0M1256.2 1507.5H1264.0" stroke="#111" stroke-width="2.2"/>
<text class="cb" x="1286.0" y="1041.0" textLength="99.5" lengthAdjust="spacingAndGlyphs">3.00e-01</text>
<text class="cb" x="1286.0" y="1088.4" textLength="99.5" lengthAdjust="spacingAndGlyphs">2.70e-01</text>
<text class="cb" x="1286.0" y="1135.9" textLength="99.5" lengthAdjust="spacingAndGlyphs">2.40e-01</text>
<text class="cb" x="1286.0" y="1183.3" textLength="99.5" lengthAdjust="spacingAndGlyphs">2.10e-01</text>
<text class="cb" x="1286.0" y="1230.8" textLength="99.5" lengthAdjust="spacingAndGlyphs">1.80e-01</text>
<text class="cb" x="1286.0" y="1278.2" textLength="99.5" lengthAdjust="spacingAndGlyphs">1.50e-01</text>
<text class="cb" x="1286.0" y="1325.6" textLength="99.5" lengthAdjust="spacingAndGlyphs">1.20e-01</text>
<text class="cb" x="1286.0" y="1373.1" textLength="99.5" lengthAdjust="spacingAndGlyphs">9.00e-02</text>
<text class="cb" x="1286.0" y="1420.5" textLength="99.5" lengthAdjust="spacingAndGlyphs">6.00e-02</text>
<text class="cb" x="1286.0" y="1468.0" textLength="99.5" lengthAdjust="spacingAndGlyphs">3.00e-02</text>
<text class="cb" x="1286.0" y="1515.4" textLength="106.5" lengthAdjust="spacingAndGlyphs">0.00e+00</text>
<text class="cb" x="1178.0" y="980.9" textLength="99" lengthAdjust="spacingAndGlyphs">contour-4</text>
<text class="cb" x="1178.0" y="1006.1" textLength="268.0" lengthAdjust="spacingAndGlyphs">Mean Velocity Magnitud...</text>
<text class="cb" x="1172.5" y="1544.8" style="font-size:23px" textLength="70" lengthAdjust="spacingAndGlyphs">[ m/s ]</text>
<clipPath id="cp1"><circle cx="1698.6" cy="379.7" r="257.3"/></clipPath>
<g clip-path="url(#cp1)"><g filter="url(#bl1)">
<rect x="1411.3" y="92.4" width="574.6" height="574.6" fill="#005fe0"/>
<circle cx="1698.6" cy="379.7" r="248.0" fill="none" stroke="#0036dc" stroke-opacity="0.6" stroke-width="24.0"/>
<ellipse cx="1718.6" cy="574.7" rx="34.0" ry="26.0" fill="#0036dc" fill-opacity="0.8"/>
<ellipse cx="1718.6" cy="184.7" rx="34.0" ry="26.0" fill="#0036dc" fill-opacity="0.8"/>
<ellipse cx="1678.6" cy="574.7" rx="34.0" ry="26.0" fill="#0036dc" fill-opacity="0.8"/>
<ellipse cx="1678.6" cy="184.7" rx="34.0" ry="26.0" fill="#0036dc" fill-opacity="0.8"/>
<ellipse cx="1698.6" cy="625.7" rx="16.0" ry="22.0" fill="#0018d8" fill-opacity="0.95"/>
<ellipse cx="1698.6" cy="133.7" rx="16.0" ry="22.0" fill="#0018d8" fill-opacity="0.95"/>
<ellipse cx="1858.6" cy="529.7" rx="48.0" ry="14.0" fill="#0030dc" fill-opacity="0.75" transform="rotate(-45 1858.6 529.7)"/>
<ellipse cx="1858.6" cy="229.7" rx="48.0" ry="14.0" fill="#0030dc" fill-opacity="0.75" transform="rotate(45 1858.6 229.7)"/>
<ellipse cx="1538.6" cy="529.7" rx="48.0" ry="14.0" fill="#0030dc" fill-opacity="0.75" transform="rotate(45 1538.6 529.7)"/>
<ellipse cx="1538.6" cy="229.7" rx="48.0" ry="14.0" fill="#0030dc" fill-opacity="0.75" transform="rotate(-45 1538.6 229.7)"/>
<ellipse cx="1898.6" cy="479.7" rx="40.0" ry="12.0" fill="#0034dc" fill-opacity="0.6" transform="rotate(-65 1898.6 479.7)"/>
<ellipse cx="1898.6" cy="279.7" rx="40.0" ry="12.0" fill="#0034dc" fill-opacity="0.6" transform="rotate(65 1898.6 279.7)"/>
<ellipse cx="1498.6" cy="479.7" rx="40.0" ry="12.0" fill="#0034dc" fill-opacity="0.6" transform="rotate(65 1498.6 479.7)"/>
<ellipse cx="1498.6" cy="279.7" rx="40.0" ry="12.0" fill="#0034dc" fill-opacity="0.6" transform="rotate(-65 1498.6 279.7)"/>
<ellipse cx="1758.6" cy="464.7" rx="26.0" ry="14.0" fill="#0040de" fill-opacity="0.7"/>
<ellipse cx="1758.6" cy="294.7" rx="26.0" ry="14.0" fill="#0040de" fill-opacity="0.7"/>
<ellipse cx="1638.6" cy="464.7" rx="26.0" ry="14.0" fill="#0040de" fill-opacity="0.7"/>
<ellipse cx="1638.6" cy="294.7" rx="26.0" ry="14.0" fill="#0040de" fill-opacity="0.7"/>
<ellipse cx="1923.6" cy="399.7" rx="14.0" ry="40.0" fill="#0036dc" fill-opacity="0.7"/>
<ellipse cx="1923.6" cy="359.7" rx="14.0" ry="40.0" fill="#0036dc" fill-opacity="0.7"/>
<ellipse cx="1473.6" cy="399.7" rx="14.0" ry="40.0" fill="#0036dc" fill-opacity="0.7"/>
<ellipse cx="1473.6" cy="359.7" rx="14.0" ry="40.0" fill="#0036dc" fill-opacity="0.7"/>
<ellipse cx="1783.6" cy="579.7" rx="52.0" ry="25.0" fill="#0090e4" fill-opacity="0.55" transform="rotate(-28 1783.6 579.7)"/>
<ellipse cx="1783.6" cy="179.7" rx="52.0" ry="25.0" fill="#0090e4" fill-opacity="0.55" transform="rotate(28 1783.6 179.7)"/>
<ellipse cx="1613.6" cy="579.7" rx="52.0" ry="25.0" fill="#0090e4" fill-opacity="0.55" transform="rotate(28 1613.6 579.7)"/>
<ellipse cx="1613.6" cy="179.7" rx="52.0" ry="25.0" fill="#0090e4" fill-opacity="0.55" transform="rotate(-28 1613.6 179.7)"/>
<ellipse cx="1793.6" cy="574.7" rx="37.0" ry="16.0" fill="#00c0e0" fill-opacity="0.95" transform="rotate(-28 1793.6 574.7)"/>
<ellipse cx="1793.6" cy="184.7" rx="37.0" ry="16.0" fill="#00c0e0" fill-opacity="0.95" transform="rotate(28 1793.6 184.7)"/>
<ellipse cx="1603.6" cy="574.7" rx="37.0" ry="16.0" fill="#00c0e0" fill-opacity="0.95" transform="rotate(28 1603.6 574.7)"/>
<ellipse cx="1603.6" cy="184.7" rx="37.0" ry="16.0" fill="#00c0e0" fill-opacity="0.95" transform="rotate(-28 1603.6 184.7)"/>
<ellipse cx="1753.6" cy="604.7" rx="22.0" ry="12.0" fill="#0098e4" fill-opacity="0.8" transform="rotate(-15 1753.6 604.7)"/>
<ellipse cx="1753.6" cy="154.7" rx="22.0" ry="12.0" fill="#0098e4" fill-opacity="0.8" transform="rotate(15 1753.6 154.7)"/>
<ellipse cx="1643.6" cy="604.7" rx="22.0" ry="12.0" fill="#0098e4" fill-opacity="0.8" transform="rotate(15 1643.6 604.7)"/>
<ellipse cx="1643.6" cy="154.7" rx="22.0" ry="12.0" fill="#0098e4" fill-opacity="0.8" transform="rotate(-15 1643.6 154.7)"/>
<ellipse cx="1788.6" cy="534.7" rx="95.0" ry="9.0" fill="#0028da" fill-opacity="0.35"/>
<ellipse cx="1788.6" cy="224.7" rx="95.0" ry="9.0" fill="#0028da" fill-opacity="0.35"/>
<ellipse cx="1608.6" cy="534.7" rx="95.0" ry="9.0" fill="#0028da" fill-opacity="0.35"/>
<ellipse cx="1608.6" cy="224.7" rx="95.0" ry="9.0" fill="#0028da" fill-opacity="0.35"/>
<ellipse cx="1893.6" cy="474.7" rx="22.0" ry="45.0" fill="#0030dc" fill-opacity="0.45"/>
<ellipse cx="1893.6" cy="284.7" rx="22.0" ry="45.0" fill="#0030dc" fill-opacity="0.45"/>
<ellipse cx="1503.6" cy="474.7" rx="22.0" ry="45.0" fill="#0030dc" fill-opacity="0.45"/>
<ellipse cx="1503.6" cy="284.7" rx="22.0" ry="45.0" fill="#0030dc" fill-opacity="0.45"/>
<ellipse cx="1869.6" cy="423.7" rx="11.0" ry="26.0" fill="#00a4e4" fill-opacity="0.9" transform="rotate(-10 1869.6 423.7)"/>
<ellipse cx="1869.6" cy="335.7" rx="11.0" ry="26.0" fill="#00a4e4" fill-opacity="0.9" transform="rotate(10 1869.6 335.7)"/>
<ellipse cx="1527.6" cy="423.7" rx="11.0" ry="26.0" fill="#00a4e4" fill-opacity="0.9" transform="rotate(10 1527.6 423.7)"/>
<ellipse cx="1527.6" cy="335.7" rx="11.0" ry="26.0" fill="#00a4e4" fill-opacity="0.9" transform="rotate(-10 1527.6 335.7)"/>
<ellipse cx="1898.6" cy="409.7" rx="20.0" ry="40.0" fill="#0080e4" fill-opacity="0.6"/>
<ellipse cx="1898.6" cy="349.7" rx="20.0" ry="40.0" fill="#0080e4" fill-opacity="0.6"/>
<ellipse cx="1498.6" cy="409.7" rx="20.0" ry="40.0" fill="#0080e4" fill-opacity="0.6"/>
<ellipse cx="1498.6" cy="349.7" rx="20.0" ry="40.0" fill="#0080e4" fill-opacity="0.6"/>
<ellipse cx="1836.6" cy="417.7" rx="9.0" ry="26.0" fill="#0018d8" fill-opacity="0.95"/>
<ellipse cx="1836.6" cy="341.7" rx="9.0" ry="26.0" fill="#0018d8" fill-opacity="0.95"/>
<ellipse cx="1560.6" cy="417.7" rx="9.0" ry="26.0" fill="#0018d8" fill-opacity="0.95"/>
<ellipse cx="1560.6" cy="341.7" rx="9.0" ry="26.0" fill="#0018d8" fill-opacity="0.95"/>
<ellipse cx="1791.6" cy="439.7" rx="20.0" ry="11.0" fill="#0018d8" fill-opacity="0.9" transform="rotate(35 1791.6 439.7)"/>
<ellipse cx="1791.6" cy="319.7" rx="20.0" ry="11.0" fill="#0018d8" fill-opacity="0.9" transform="rotate(-35 1791.6 319.7)"/>
<ellipse cx="1605.6" cy="439.7" rx="20.0" ry="11.0" fill="#0018d8" fill-opacity="0.9" transform="rotate(-35 1605.6 439.7)"/>
<ellipse cx="1605.6" cy="319.7" rx="20.0" ry="11.0" fill="#0018d8" fill-opacity="0.9" transform="rotate(35 1605.6 319.7)"/>
<ellipse cx="1794.6" cy="379.7" rx="8.0" ry="50.0" fill="#0030dc" fill-opacity="0.6"/>
<ellipse cx="1602.6" cy="379.7" rx="8.0" ry="50.0" fill="#0030dc" fill-opacity="0.6"/>
<ellipse cx="1753.6" cy="439.7" rx="42.0" ry="7.0" fill="#0030dc" fill-opacity="0.55"/>
<ellipse cx="1753.6" cy="319.7" rx="42.0" ry="7.0" fill="#0030dc" fill-opacity="0.55"/>
<ellipse cx="1643.6" cy="439.7" rx="42.0" ry="7.0" fill="#0030dc" fill-opacity="0.55"/>
<ellipse cx="1643.6" cy="319.7" rx="42.0" ry="7.0" fill="#0030dc" fill-opacity="0.55"/>
<ellipse cx="1814.6" cy="528.7" rx="14.0" ry="10.0" fill="#0030dc" fill-opacity="0.7"/>
<ellipse cx="1814.6" cy="230.7" rx="14.0" ry="10.0" fill="#0030dc" fill-opacity="0.7"/>
<ellipse cx="1582.6" cy="528.7" rx="14.0" ry="10.0" fill="#0030dc" fill-opacity="0.7"/>
<ellipse cx="1582.6" cy="230.7" rx="14.0" ry="10.0" fill="#0030dc" fill-opacity="0.7"/>
<ellipse cx="1847.6" cy="543.7" rx="14.0" ry="10.0" fill="#0020da" fill-opacity="0.7"/>
<ellipse cx="1847.6" cy="215.7" rx="14.0" ry="10.0" fill="#0020da" fill-opacity="0.7"/>
<ellipse cx="1549.6" cy="543.7" rx="14.0" ry="10.0" fill="#0020da" fill-opacity="0.7"/>
<ellipse cx="1549.6" cy="215.7" rx="14.0" ry="10.0" fill="#0020da" fill-opacity="0.7"/>
<ellipse cx="1732.6" cy="486.7" rx="10.0" ry="10.0" fill="#00d0dc" fill-opacity="1"/>
<ellipse cx="1732.6" cy="272.7" rx="10.0" ry="10.0" fill="#00d0dc" fill-opacity="1"/>
<ellipse cx="1664.6" cy="486.7" rx="10.0" ry="10.0" fill="#00d0dc" fill-opacity="1"/>
<ellipse cx="1664.6" cy="272.7" rx="10.0" ry="10.0" fill="#00d0dc" fill-opacity="1"/>
<ellipse cx="1792.6" cy="479.7" rx="10.0" ry="10.0" fill="#00ccdc" fill-opacity="1"/>
<ellipse cx="1792.6" cy="279.7" rx="10.0" ry="10.0" fill="#00ccdc" fill-opacity="1"/>
<ellipse cx="1604.6" cy="479.7" rx="10.0" ry="10.0" fill="#00ccdc" fill-opacity="1"/>
<ellipse cx="1604.6" cy="279.7" rx="10.0" ry="10.0" fill="#00ccdc" fill-opacity="1"/>
<ellipse cx="1700.6" cy="512.7" rx="10.0" ry="10.0" fill="#00d0dc" fill-opacity="1"/>
<ellipse cx="1700.6" cy="246.7" rx="10.0" ry="10.0" fill="#00d0dc" fill-opacity="1"/>
<ellipse cx="1696.6" cy="512.7" rx="10.0" ry="10.0" fill="#00d0dc" fill-opacity="1"/>
<ellipse cx="1696.6" cy="246.7" rx="10.0" ry="10.0" fill="#00d0dc" fill-opacity="1"/>
<ellipse cx="1824.6" cy="449.7" rx="10.0" ry="10.0" fill="#00c4de" fill-opacity="1"/>
<ellipse cx="1824.6" cy="309.7" rx="10.0" ry="10.0" fill="#00c4de" fill-opacity="1"/>
<ellipse cx="1572.6" cy="449.7" rx="10.0" ry="10.0" fill="#00c4de" fill-opacity="1"/>
<ellipse cx="1572.6" cy="309.7" rx="10.0" ry="10.0" fill="#00c4de" fill-opacity="1"/>
<ellipse cx="1766.6" cy="455.7" rx="10.0" ry="10.0" fill="#00a8e4" fill-opacity="0.9"/>
<ellipse cx="1766.6" cy="303.7" rx="10.0" ry="10.0" fill="#00a8e4" fill-opacity="0.9"/>
<ellipse cx="1630.6" cy="455.7" rx="10.0" ry="10.0" fill="#00a8e4" fill-opacity="0.9"/>
<ellipse cx="1630.6" cy="303.7" rx="10.0" ry="10.0" fill="#00a8e4" fill-opacity="0.9"/>
<ellipse cx="1850.6" cy="477.7" rx="10.0" ry="10.0" fill="#00a8e4" fill-opacity="0.9"/>
<ellipse cx="1850.6" cy="281.7" rx="10.0" ry="10.0" fill="#00a8e4" fill-opacity="0.9"/>
<ellipse cx="1546.6" cy="477.7" rx="10.0" ry="10.0" fill="#00a8e4" fill-opacity="0.9"/>
<ellipse cx="1546.6" cy="281.7" rx="10.0" ry="10.0" fill="#00a8e4" fill-opacity="0.9"/>
<ellipse cx="1764.6" cy="507.7" rx="11.0" ry="11.0" fill="#00a8e4" fill-opacity="0.9"/>
<ellipse cx="1764.6" cy="251.7" rx="11.0" ry="11.0" fill="#00a8e4" fill-opacity="0.9"/>
<ellipse cx="1632.6" cy="507.7" rx="11.0" ry="11.0" fill="#00a8e4" fill-opacity="0.9"/>
<ellipse cx="1632.6" cy="251.7" rx="11.0" ry="11.0" fill="#00a8e4" fill-opacity="0.9"/>
<ellipse cx="1820.6" cy="504.7" rx="11.0" ry="11.0" fill="#00a8e4" fill-opacity="0.9"/>
<ellipse cx="1820.6" cy="254.7" rx="11.0" ry="11.0" fill="#00a8e4" fill-opacity="0.9"/>
<ellipse cx="1576.6" cy="504.7" rx="11.0" ry="11.0" fill="#00a8e4" fill-opacity="0.9"/>
<ellipse cx="1576.6" cy="254.7" rx="11.0" ry="11.0" fill="#00a8e4" fill-opacity="0.9"/>
<ellipse cx="1892.6" cy="521.7" rx="10.0" ry="10.0" fill="#00a4e4" fill-opacity="0.9"/>
<ellipse cx="1892.6" cy="237.7" rx="10.0" ry="10.0" fill="#00a4e4" fill-opacity="0.9"/>
<ellipse cx="1504.6" cy="521.7" rx="10.0" ry="10.0" fill="#00a4e4" fill-opacity="0.9"/>
<ellipse cx="1504.6" cy="237.7" rx="10.0" ry="10.0" fill="#00a4e4" fill-opacity="0.9"/>
<ellipse cx="1869.6" cy="549.7" rx="10.0" ry="10.0" fill="#00a4e4" fill-opacity="0.9"/>
<ellipse cx="1869.6" cy="209.7" rx="10.0" ry="10.0" fill="#00a4e4" fill-opacity="0.9"/>
<ellipse cx="1527.6" cy="549.7" rx="10.0" ry="10.0" fill="#00a4e4" fill-opacity="0.9"/>
<ellipse cx="1527.6" cy="209.7" rx="10.0" ry="10.0" fill="#00a4e4" fill-opacity="0.9"/>
<ellipse cx="1723.6" cy="537.7" rx="11.0" ry="11.0" fill="#00a4e4" fill-opacity="0.9"/>
<ellipse cx="1723.6" cy="221.7" rx="11.0" ry="11.0" fill="#00a4e4" fill-opacity="0.9"/>
<ellipse cx="1673.6" cy="537.7" rx="11.0" ry="11.0" fill="#00a4e4" fill-opacity="0.9"/>
<ellipse cx="1673.6" cy="221.7" rx="11.0" ry="11.0" fill="#00a4e4" fill-opacity="0.9"/>
<ellipse cx="1826.6" cy="379.7" rx="9.0" ry="9.0" fill="#00b8e2" fill-opacity="1"/>
<ellipse cx="1570.6" cy="379.7" rx="9.0" ry="9.0" fill="#00b8e2" fill-opacity="1"/>
<ellipse cx="1880.6" cy="379.7" rx="10.0" ry="10.0" fill="#00b0e2" fill-opacity="0.9"/>
<ellipse cx="1516.6" cy="379.7" rx="10.0" ry="10.0" fill="#00b0e2" fill-opacity="0.9"/>
<ellipse cx="1807.6" cy="413.7" rx="10.0" ry="10.0" fill="#00c0e0" fill-opacity="1"/>
<ellipse cx="1807.6" cy="345.7" rx="10.0" ry="10.0" fill="#00c0e0" fill-opacity="1"/>
<ellipse cx="1589.6" cy="413.7" rx="10.0" ry="10.0" fill="#00c0e0" fill-opacity="1"/>
<ellipse cx="1589.6" cy="345.7" rx="10.0" ry="10.0" fill="#00c0e0" fill-opacity="1"/>
<ellipse cx="1877.6" cy="441.7" rx="10.0" ry="10.0" fill="#00a0e4" fill-opacity="0.9"/>
<ellipse cx="1877.6" cy="317.7" rx="10.0" ry="10.0" fill="#00a0e4" fill-opacity="0.9"/>
<ellipse cx="1519.6" cy="441.7" rx="10.0" ry="10.0" fill="#00a0e4" fill-opacity="0.9"/>
<ellipse cx="1519.6" cy="317.7" rx="10.0" ry="10.0" fill="#00a0e4" fill-opacity="0.9"/>
<ellipse cx="1944.6" cy="413.7" rx="9.0" ry="12.0" fill="#00bce0" fill-opacity="1"/>
<ellipse cx="1944.6" cy="345.7" rx="9.0" ry="12.0" fill="#00bce0" fill-opacity="1"/>
<ellipse cx="1452.6" cy="413.7" rx="9.0" ry="12.0" fill="#00bce0" fill-opacity="1"/>
<ellipse cx="1452.6" cy="345.7" rx="9.0" ry="12.0" fill="#00bce0" fill-opacity="1"/>
<ellipse cx="1841.6" cy="588.7" rx="9.0" ry="9.0" fill="#00dc94" fill-opacity="1"/>
<ellipse cx="1841.6" cy="170.7" rx="9.0" ry="9.0" fill="#00dc94" fill-opacity="1"/>
<ellipse cx="1555.6" cy="588.7" rx="9.0" ry="9.0" fill="#00dc94" fill-opacity="1"/>
<ellipse cx="1555.6" cy="170.7" rx="9.0" ry="9.0" fill="#00dc94" fill-opacity="1"/>
<ellipse cx="1727.6" cy="630.7" rx="9.0" ry="9.0" fill="#00dc94" fill-opacity="1"/>
<ellipse cx="1727.6" cy="128.7" rx="9.0" ry="9.0" fill="#00dc94" fill-opacity="1"/>
<ellipse cx="1669.6" cy="630.7" rx="9.0" ry="9.0" fill="#00dc94" fill-opacity="1"/>
<ellipse cx="1669.6" cy="128.7" rx="9.0" ry="9.0" fill="#00dc94" fill-opacity="1"/>
<rect x="1614.6" y="330.7" width="164.0" height="101.0" rx="24.0" fill="#009ce4" fill-opacity="0.95"/>
<ellipse cx="1652.6" cy="379.7" rx="42.0" ry="40.0" fill="#00c4e0" fill-opacity="0.85"/>
<ellipse cx="1738.6" cy="381.7" rx="32.0" ry="36.0" fill="#00b0e2" fill-opacity="0.75"/>
<ellipse cx="1701.6" cy="379.7" rx="10.0" ry="10.0" fill="#0070e0" fill-opacity="0.9"/>
</g></g>
<clipPath id="cp2"><circle cx="1702.5" cy="1258.6" r="256.2"/></clipPath>
<g clip-path="url(#cp2)"><g filter="url(#bl2)">
<rect x="1416.3" y="972.4" width="572.4" height="572.4" fill="#005ee0"/>
<circle cx="1702.5" cy="1258.6" r="248.0" fill="none" stroke="#0030dc" stroke-opacity="0.65" stroke-width="22.0"/>
<ellipse cx="1616.5" cy="1047.6" rx="60.0" ry="30.0" fill="#0094e4" fill-opacity="0.8" transform="rotate(-30 1616.5 1047.6)"/>
<ellipse cx="1779.5" cy="1044.6" rx="60.0" ry="30.0" fill="#0094e4" fill-opacity="0.8" transform="rotate(30 1779.5 1044.6)"/>
<ellipse cx="1779.5" cy="1470.6" rx="60.0" ry="30.0" fill="#0094e4" fill-opacity="0.8" transform="rotate(-30 1779.5 1470.6)"/>
<ellipse cx="1616.5" cy="1465.6" rx="60.0" ry="30.0" fill="#0094e4" fill-opacity="0.8" transform="rotate(30 1616.5 1465.6)"/>
<ellipse cx="1616.5" cy="1047.6" rx="42.0" ry="18.0" fill="#00cce0" fill-opacity="1" transform="rotate(-30 1616.5 1047.6)"/>
<ellipse cx="1779.5" cy="1044.6" rx="42.0" ry="18.0" fill="#00c8e0" fill-opacity="1" transform="rotate(30 1779.5 1044.6)"/>
<ellipse cx="1779.5" cy="1470.6" rx="42.0" ry="18.0" fill="#00d0dc" fill-opacity="1" transform="rotate(-30 1779.5 1470.6)"/>
<ellipse cx="1616.5" cy="1465.6" rx="42.0" ry="18.0" fill="#00c4e0" fill-opacity="1" transform="rotate(30 1616.5 1465.6)"/>
<ellipse cx="1507.5" cy="1362.6" rx="22.0" ry="28.0" fill="#00aee4" fill-opacity="0.9"/>
<ellipse cx="1892.5" cy="1151.6" rx="20.0" ry="26.0" fill="#00a0e4" fill-opacity="0.9"/>
<ellipse cx="1470.5" cy="1250.6" rx="16.0" ry="40.0" fill="#0080e4" fill-opacity="0.8"/>
<ellipse cx="1924.5" cy="1258.6" rx="14.0" ry="45.0" fill="#0090e4" fill-opacity="0.8"/>
<ellipse cx="1907.5" cy="1198.6" rx="12.0" ry="25.0" fill="#0098e4" fill-opacity="0.8"/>
<ellipse cx="1902.5" cy="1368.6" rx="14.0" ry="25.0" fill="#0088e4" fill-opacity="0.7"/>
<ellipse cx="1552.5" cy="1058.6" rx="10.0" ry="10.0" fill="#00b8e2" fill-opacity="0.8"/>
<ellipse cx="1477.5" cy="1408.6" rx="14.0" ry="20.0" fill="#0088e4" fill-opacity="0.7"/>
<ellipse cx="1702.5" cy="1013.6" rx="16.0" ry="18.0" fill="#0018d8" fill-opacity="0.9"/>
<ellipse cx="1702.5" cy="1503.6" rx="16.0" ry="18.0" fill="#0018d8" fill-opacity="0.9"/>
<ellipse cx="1457.5" cy="1228.6" rx="8.0" ry="12.0" fill="#0018d8" fill-opacity="0.8"/>
<ellipse cx="1457.5" cy="1288.6" rx="8.0" ry="12.0" fill="#0018d8" fill-opacity="0.8"/>
<ellipse cx="1947.5" cy="1223.6" rx="8.0" ry="12.0" fill="#0018d8" fill-opacity="0.8"/>
<ellipse cx="1947.5" cy="1288.6" rx="8.0" ry="12.0" fill="#0018d8" fill-opacity="0.8"/>
<ellipse cx="1702.5" cy="1140.6" rx="135.0" ry="38.0" fill="#009ce4" fill-opacity="0.95"/>
<ellipse cx="1702.5" cy="1370.6" rx="135.0" ry="38.0" fill="#009ce4" fill-opacity="0.95"/>
<ellipse cx="1682.5" cy="1138.6" rx="80.0" ry="20.0" fill="#00ace4" fill-opacity="0.8"/>
<ellipse cx="1712.5" cy="1370.6" rx="80.0" ry="20.0" fill="#00a8e4" fill-opacity="0.8"/>
<ellipse cx="1567.5" cy="1258.6" rx="30.0" ry="70.0" fill="#0080e4" fill-opacity="0.8"/>
<ellipse cx="1837.5" cy="1258.6" rx="30.0" ry="70.0" fill="#0080e4" fill-opacity="0.8"/>
<path d="M1702.5 1066.6 L1832.5 1116.6 L1885.5 1198.6 L1886.5 1318.6 L1850.5 1406.6 L1702.5 1435.6 L1554.5 1406.6 L1504.5 1318.6 L1504.5 1198.6 L1569.5 1114.6 Z" fill="none" stroke="#0018d8" stroke-opacity="0.95" stroke-width="24.0" stroke-linejoin="round" stroke-linecap="round"/>
<ellipse cx="1552.5" cy="1258.6" rx="8.0" ry="50.0" fill="#0030dc" fill-opacity="0.7"/>
<ellipse cx="1702.5" cy="1438.6" rx="60.0" ry="14.0" fill="#0018d8" fill-opacity="0.8"/>
<ellipse cx="1528.5" cy="1253.6" rx="11.0" ry="52.0" fill="#00b4e2" fill-opacity="0.95"/>
<ellipse cx="1830.5" cy="1258.6" rx="10.0" ry="14.0" fill="#0098e4" fill-opacity="0.8"/>
<ellipse cx="1610.5" cy="1155.6" rx="13.0" ry="12.0" fill="#00d4dc" fill-opacity="1"/>
<ellipse cx="1698.5" cy="1127.6" rx="13.0" ry="12.0" fill="#00d8da" fill-opacity="1"/>
<ellipse cx="1668.5" cy="1146.6" rx="12.0" ry="11.0" fill="#00c0e0" fill-opacity="1"/>
<ellipse cx="1736.5" cy="1149.6" rx="12.0" ry="11.0" fill="#00c4e0" fill-opacity="1"/>
<ellipse cx="1794.5" cy="1159.6" rx="13.0" ry="12.0" fill="#00e0b4" fill-opacity="1"/>
<ellipse cx="1806.5" cy="1179.6" rx="10.0" ry="15.0" fill="#00b8e2" fill-opacity="1"/>
<ellipse cx="1574.5" cy="1183.6" rx="11.0" ry="11.0" fill="#00b0e2" fill-opacity="0.9"/>
<ellipse cx="1736.5" cy="1367.6" rx="12.0" ry="11.0" fill="#00c4e0" fill-opacity="1"/>
<ellipse cx="1800.5" cy="1355.6" rx="12.0" ry="11.0" fill="#00c0e0" fill-opacity="1"/>
<ellipse cx="1827.5" cy="1328.6" rx="11.0" ry="11.0" fill="#00c8e0" fill-opacity="1"/>
<ellipse cx="1704.5" cy="1389.6" rx="13.0" ry="12.0" fill="#00dada" fill-opacity="1"/>
<ellipse cx="1606.5" cy="1365.6" rx="12.0" ry="11.0" fill="#00d0dc" fill-opacity="1"/>
<ellipse cx="1572.5" cy="1325.6" rx="11.0" ry="11.0" fill="#00b4e2" fill-opacity="1"/>
<ellipse cx="1647.5" cy="1378.6" rx="11.0" ry="11.0" fill="#00b8e2" fill-opacity="1"/>
<ellipse cx="1559.5" cy="1465.6" rx="9.0" ry="9.0" fill="#00dca0" fill-opacity="1"/>
<path d="M1599.5 1184.6 L1796.5 1184.6 L1795.5 1333.6 L1599.5 1335.6 Z" fill="none" stroke="#0018d8" stroke-opacity="0.97" stroke-width="26.0" stroke-linejoin="round" stroke-linecap="round"/>
<path d="M1614.5 1338.6 L1787.5 1336.6" fill="none" stroke="#0006d8" stroke-opacity="0.95" stroke-width="20.0" stroke-linejoin="round" stroke-linecap="round"/>
<rect x="1614.5" y="1198.6" width="169.0" height="122.0" rx="20.0" fill="#00a6e4" fill-opacity="1"/>
<ellipse cx="1660.5" cy="1256.6" rx="48.0" ry="40.0" fill="#00c8e0" fill-opacity="0.9"/>
<ellipse cx="1737.5" cy="1253.6" rx="38.0" ry="40.0" fill="#00b4e2" fill-opacity="0.8"/>
</g></g>
</svg></body></html>
